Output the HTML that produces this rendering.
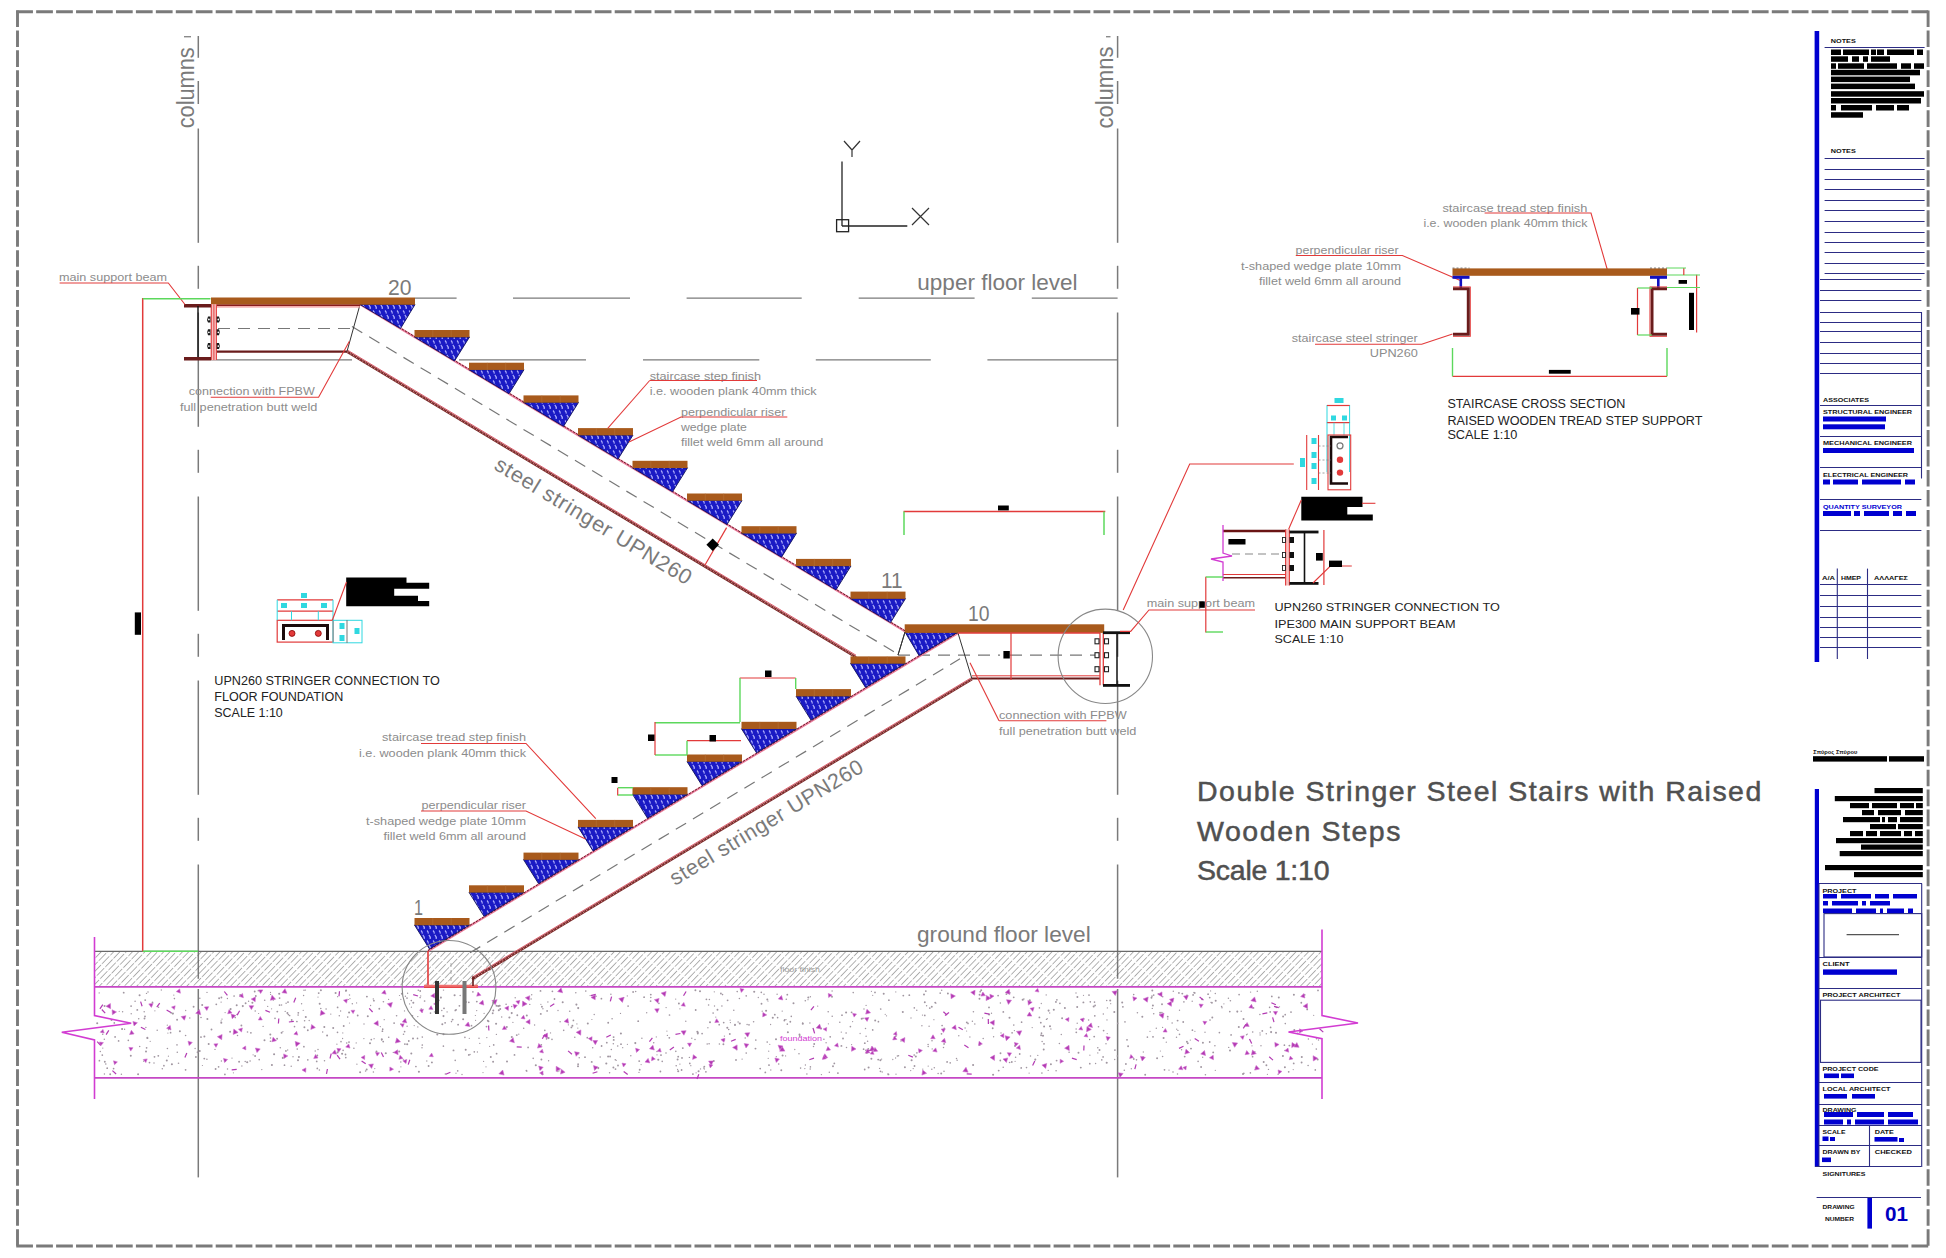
<!DOCTYPE html><html><head><meta charset="utf-8"><style>html,body{margin:0;padding:0;background:#fff;overflow:hidden}svg{display:block}</style></head><body><svg width="1946" height="1258" viewBox="0 0 1946 1258"><defs>
<pattern id="wedge" width="6" height="10" patternUnits="userSpaceOnUse"><rect width="6" height="10" fill="#1a1ac4"/><path d="M1 0.5 Q2.6 2 2.2 3.6 M2.8 5 Q4.6 6.6 4.2 9" stroke="#b4b4ff" stroke-width="1.1" fill="none"/></pattern>
<pattern id="hatch" width="4.5" height="12" patternUnits="userSpaceOnUse" patternTransform="rotate(44)"><line x1="0" y1="0" x2="0" y2="10.5" stroke="#5c5c5c" stroke-width="0.95"/></pattern>
</defs>
<rect x="0.0" y="0.0" width="1946.0" height="1258.0" fill="#ffffff" />
<path d="M16.2 11.8 H1929.5 M16.2 1246 H1929.5" fill="none" stroke="#7a7a7a" stroke-width="2.9" stroke-dasharray="16.75 3.2"/>
<path d="M17.5 10.4 V1247.4 M1928.1 10.4 V1247.4" fill="none" stroke="#7a7a7a" stroke-width="2.9" stroke-dasharray="16.6 3.38"/>
<line x1="198.3" y1="36.0" x2="198.3" y2="57.8" stroke="#7a7a7a" stroke-width="1.5" />
<line x1="198.3" y1="81.0" x2="198.3" y2="104.0" stroke="#7a7a7a" stroke-width="1.5" />
<line x1="198.3" y1="128.5" x2="198.3" y2="242.8" stroke="#7a7a7a" stroke-width="1.5" />
<line x1="198.3" y1="265.8" x2="198.3" y2="288.8" stroke="#7a7a7a" stroke-width="1.5" />
<line x1="198.3" y1="312.5" x2="198.3" y2="426.8" stroke="#7a7a7a" stroke-width="1.5" />
<line x1="198.3" y1="449.8" x2="198.3" y2="472.8" stroke="#7a7a7a" stroke-width="1.5" />
<line x1="198.3" y1="496.5" x2="198.3" y2="610.8" stroke="#7a7a7a" stroke-width="1.5" />
<line x1="198.3" y1="633.8" x2="198.3" y2="656.8" stroke="#7a7a7a" stroke-width="1.5" />
<line x1="198.3" y1="680.5" x2="198.3" y2="794.8" stroke="#7a7a7a" stroke-width="1.5" />
<line x1="198.3" y1="817.8" x2="198.3" y2="840.8" stroke="#7a7a7a" stroke-width="1.5" />
<line x1="198.3" y1="864.5" x2="198.3" y2="978.8" stroke="#7a7a7a" stroke-width="1.5" />
<line x1="198.3" y1="989.0" x2="198.3" y2="1177.4" stroke="#7a7a7a" stroke-width="1.5" />
<line x1="1117.6" y1="36.0" x2="1117.6" y2="57.8" stroke="#7a7a7a" stroke-width="1.5" />
<line x1="1117.6" y1="81.0" x2="1117.6" y2="104.0" stroke="#7a7a7a" stroke-width="1.5" />
<line x1="1117.6" y1="128.5" x2="1117.6" y2="242.8" stroke="#7a7a7a" stroke-width="1.5" />
<line x1="1117.6" y1="265.8" x2="1117.6" y2="288.8" stroke="#7a7a7a" stroke-width="1.5" />
<line x1="1117.6" y1="312.5" x2="1117.6" y2="426.8" stroke="#7a7a7a" stroke-width="1.5" />
<line x1="1117.6" y1="449.8" x2="1117.6" y2="472.8" stroke="#7a7a7a" stroke-width="1.5" />
<line x1="1117.6" y1="496.5" x2="1117.6" y2="610.8" stroke="#7a7a7a" stroke-width="1.5" />
<line x1="1117.6" y1="633.8" x2="1117.6" y2="656.8" stroke="#7a7a7a" stroke-width="1.5" />
<line x1="1117.6" y1="680.5" x2="1117.6" y2="794.8" stroke="#7a7a7a" stroke-width="1.5" />
<line x1="1117.6" y1="817.8" x2="1117.6" y2="840.8" stroke="#7a7a7a" stroke-width="1.5" />
<line x1="1117.6" y1="864.5" x2="1117.6" y2="978.8" stroke="#7a7a7a" stroke-width="1.5" />
<line x1="1117.6" y1="989.0" x2="1117.6" y2="1177.4" stroke="#7a7a7a" stroke-width="1.5" />
<text x="0.0" y="0.0" font-size="23.5" fill="#7a7a7a" text-anchor="start" font-weight="normal" textLength="81" lengthAdjust="spacingAndGlyphs" font-family="'Liberation Sans', sans-serif" transform="translate(193.6,128.3) rotate(-90)">columns</text>
<text x="0.0" y="0.0" font-size="23.5" fill="#7a7a7a" text-anchor="start" font-weight="normal" textLength="82" lengthAdjust="spacingAndGlyphs" font-family="'Liberation Sans', sans-serif" transform="translate(1113.4,128.6) rotate(-90)">columns</text>
<line x1="184.0" y1="36.7" x2="191.0" y2="36.7" stroke="#8a8a8a" stroke-width="1.4" />
<line x1="1106.0" y1="36.7" x2="1110.5" y2="36.7" stroke="#8a8a8a" stroke-width="1.4" />
<line x1="842.0" y1="161.6" x2="842.0" y2="226.0" stroke="#222" stroke-width="1.3" />
<line x1="842.0" y1="226.0" x2="907.3" y2="226.0" stroke="#222" stroke-width="1.3" />
<rect x="836.6" y="219.7" width="12" height="12" fill="none" stroke="#222" stroke-width="1.3"/>
<path d="M844 141 L852 150 L860 141 M852 150 L852 157" stroke="#333" stroke-width="1.2" fill="none"/>
<path d="M912 208 L929 225 M929 208 L912 225" stroke="#333" stroke-width="1.2" fill="none"/>
<line x1="415.0" y1="298.2" x2="456.6" y2="298.2" stroke="#7a7a7a" stroke-width="1.3" />
<line x1="513.0" y1="298.2" x2="630.0" y2="298.2" stroke="#7a7a7a" stroke-width="1.3" />
<line x1="686.6" y1="298.2" x2="801.7" y2="298.2" stroke="#7a7a7a" stroke-width="1.3" />
<line x1="858.7" y1="298.2" x2="974.6" y2="298.2" stroke="#7a7a7a" stroke-width="1.3" />
<line x1="1031.8" y1="298.2" x2="1117.6" y2="298.2" stroke="#7a7a7a" stroke-width="1.3" />
<line x1="211.0" y1="359.8" x2="352.0" y2="359.8" stroke="#7a7a7a" stroke-width="1.3" />
<line x1="459.0" y1="359.8" x2="586.0" y2="359.8" stroke="#7a7a7a" stroke-width="1.3" />
<line x1="643.0" y1="359.8" x2="759.3" y2="359.8" stroke="#7a7a7a" stroke-width="1.3" />
<line x1="815.8" y1="359.8" x2="930.8" y2="359.8" stroke="#7a7a7a" stroke-width="1.3" />
<line x1="987.4" y1="359.8" x2="1117.6" y2="359.8" stroke="#7a7a7a" stroke-width="1.3" />
<text x="917.3" y="290.4" font-size="22" fill="#7a7a7a" text-anchor="start" font-weight="normal" textLength="160.3" lengthAdjust="spacingAndGlyphs" font-family="'Liberation Sans', sans-serif" >upper floor level</text>
<rect x="94.5" y="951.4" width="1227.5" height="35.4" fill="url(#hatch)" />
<line x1="94.5" y1="951.4" x2="1322.0" y2="951.4" stroke="#6a6a6a" stroke-width="1.3" />
<line x1="94.5" y1="986.8" x2="1322.0" y2="986.8" stroke="#c548c5" stroke-width="1.8" />
<line x1="94.5" y1="1077.8" x2="1322.0" y2="1077.8" stroke="#c548c5" stroke-width="1.8" />
<circle cx="493.0" cy="1002.8" r="0.89" fill="#a096a0"/>
<circle cx="185.6" cy="1035.5" r="0.76" fill="#a096a0"/>
<circle cx="167.9" cy="1033.1" r="0.62" fill="#a096a0"/>
<circle cx="627.3" cy="995.9" r="0.64" fill="#a096a0"/>
<circle cx="616.2" cy="1060.3" r="0.66" fill="#a096a0"/>
<circle cx="370.0" cy="1043.3" r="1.03" fill="#a096a0"/>
<circle cx="802.8" cy="1023.7" r="1.04" fill="#a096a0"/>
<circle cx="154.0" cy="1063.0" r="0.73" fill="#a096a0"/>
<circle cx="273.4" cy="1000.0" r="0.74" fill="#a096a0"/>
<circle cx="1095.1" cy="1005.4" r="0.86" fill="#a096a0"/>
<circle cx="878.4" cy="1021.7" r="0.85" fill="#a096a0"/>
<circle cx="173.8" cy="995.1" r="0.69" fill="#a096a0"/>
<circle cx="929.1" cy="1026.3" r="0.74" fill="#a096a0"/>
<circle cx="813.1" cy="1028.5" r="0.73" fill="#a096a0"/>
<circle cx="1068.5" cy="1049.4" r="0.71" fill="#a096a0"/>
<circle cx="799.5" cy="1034.6" r="0.99" fill="#a096a0"/>
<circle cx="989.1" cy="1014.5" r="1.04" fill="#a096a0"/>
<circle cx="241.4" cy="1025.5" r="0.94" fill="#a096a0"/>
<circle cx="282.9" cy="1031.6" r="0.62" fill="#a096a0"/>
<circle cx="914.2" cy="1055.0" r="0.86" fill="#a096a0"/>
<circle cx="1167.7" cy="1016.7" r="0.91" fill="#a096a0"/>
<circle cx="823.9" cy="1039.3" r="0.81" fill="#a096a0"/>
<circle cx="1124.3" cy="1070.3" r="0.81" fill="#a096a0"/>
<circle cx="909.3" cy="995.2" r="0.92" fill="#a096a0"/>
<circle cx="888.4" cy="1074.4" r="0.97" fill="#a096a0"/>
<circle cx="445.1" cy="1022.8" r="0.90" fill="#a096a0"/>
<circle cx="124.6" cy="1029.2" r="0.68" fill="#a096a0"/>
<circle cx="240.2" cy="995.0" r="0.95" fill="#a096a0"/>
<circle cx="255.2" cy="1011.0" r="0.78" fill="#a096a0"/>
<circle cx="1162.7" cy="996.8" r="0.80" fill="#a096a0"/>
<circle cx="769.0" cy="1065.1" r="0.97" fill="#a096a0"/>
<circle cx="1153.7" cy="1013.7" r="0.79" fill="#a096a0"/>
<circle cx="535.8" cy="1065.2" r="1.03" fill="#a096a0"/>
<circle cx="281.6" cy="1005.0" r="0.70" fill="#a096a0"/>
<circle cx="382.4" cy="1031.2" r="0.87" fill="#a096a0"/>
<circle cx="418.3" cy="990.3" r="0.79" fill="#a096a0"/>
<circle cx="548.6" cy="1038.1" r="1.03" fill="#a096a0"/>
<circle cx="941.5" cy="1033.8" r="0.88" fill="#a096a0"/>
<circle cx="924.0" cy="994.6" r="1.00" fill="#a096a0"/>
<circle cx="1050.9" cy="1064.3" r="0.96" fill="#a096a0"/>
<circle cx="576.9" cy="1023.9" r="0.65" fill="#a096a0"/>
<circle cx="872.7" cy="995.3" r="0.63" fill="#a096a0"/>
<circle cx="352.3" cy="1003.8" r="0.75" fill="#a096a0"/>
<circle cx="161.3" cy="990.0" r="0.67" fill="#a096a0"/>
<circle cx="221.1" cy="1020.9" r="0.61" fill="#a096a0"/>
<circle cx="1166.3" cy="1042.2" r="0.67" fill="#a096a0"/>
<circle cx="405.5" cy="1019.5" r="0.76" fill="#a096a0"/>
<circle cx="247.2" cy="1062.2" r="1.05" fill="#a096a0"/>
<circle cx="666.9" cy="1031.1" r="0.64" fill="#a096a0"/>
<circle cx="222.0" cy="1019.1" r="0.72" fill="#a096a0"/>
<circle cx="1110.7" cy="1003.7" r="0.61" fill="#a096a0"/>
<circle cx="1260.1" cy="1034.9" r="0.67" fill="#a096a0"/>
<circle cx="761.3" cy="992.3" r="0.84" fill="#a096a0"/>
<circle cx="1293.7" cy="1063.4" r="0.91" fill="#a096a0"/>
<circle cx="416.3" cy="1021.2" r="0.68" fill="#a096a0"/>
<circle cx="1041.1" cy="1035.3" r="0.95" fill="#a096a0"/>
<circle cx="500.2" cy="1009.0" r="0.97" fill="#a096a0"/>
<circle cx="1301.6" cy="1062.5" r="0.96" fill="#a096a0"/>
<circle cx="1097.8" cy="1052.9" r="0.70" fill="#a096a0"/>
<circle cx="730.1" cy="1020.2" r="0.61" fill="#a096a0"/>
<circle cx="131.2" cy="1013.8" r="0.72" fill="#a096a0"/>
<circle cx="944.0" cy="1071.3" r="0.80" fill="#a096a0"/>
<circle cx="1243.0" cy="1074.0" r="1.03" fill="#a096a0"/>
<circle cx="542.9" cy="1008.7" r="0.70" fill="#a096a0"/>
<circle cx="337.6" cy="1007.4" r="0.88" fill="#a096a0"/>
<circle cx="1198.1" cy="1061.4" r="0.82" fill="#a096a0"/>
<circle cx="895.6" cy="1058.0" r="0.64" fill="#a096a0"/>
<circle cx="904.9" cy="1067.3" r="0.95" fill="#a096a0"/>
<circle cx="1014.4" cy="1030.6" r="0.68" fill="#a096a0"/>
<circle cx="1062.1" cy="1018.3" r="0.96" fill="#a096a0"/>
<circle cx="1285.3" cy="1023.6" r="0.78" fill="#a096a0"/>
<circle cx="1254.9" cy="1051.6" r="0.68" fill="#a096a0"/>
<circle cx="252.4" cy="1002.8" r="1.01" fill="#a096a0"/>
<circle cx="1083.4" cy="1002.4" r="0.97" fill="#a096a0"/>
<circle cx="1295.9" cy="1045.9" r="0.76" fill="#a096a0"/>
<circle cx="768.0" cy="1001.1" r="0.61" fill="#a096a0"/>
<circle cx="1284.4" cy="1045.2" r="0.84" fill="#a096a0"/>
<circle cx="1238.8" cy="1026.9" r="0.99" fill="#a096a0"/>
<circle cx="1107.4" cy="1007.9" r="0.71" fill="#a096a0"/>
<circle cx="455.3" cy="1010.4" r="0.86" fill="#a096a0"/>
<circle cx="414.2" cy="1025.6" r="0.66" fill="#a096a0"/>
<circle cx="1210.0" cy="1020.1" r="0.81" fill="#a096a0"/>
<circle cx="810.4" cy="1066.9" r="0.79" fill="#a096a0"/>
<circle cx="1219.4" cy="1032.6" r="0.84" fill="#a096a0"/>
<circle cx="737.2" cy="991.6" r="0.80" fill="#a096a0"/>
<circle cx="320.9" cy="990.3" r="0.96" fill="#a096a0"/>
<circle cx="307.8" cy="1030.2" r="0.93" fill="#a096a0"/>
<circle cx="777.6" cy="1017.7" r="0.83" fill="#a096a0"/>
<circle cx="776.3" cy="1056.7" r="0.65" fill="#a096a0"/>
<circle cx="782.2" cy="1011.1" r="0.72" fill="#a096a0"/>
<circle cx="1041.5" cy="1033.2" r="0.85" fill="#a096a0"/>
<circle cx="1026.5" cy="1067.6" r="0.80" fill="#a096a0"/>
<circle cx="846.1" cy="1033.0" r="0.83" fill="#a096a0"/>
<circle cx="944.2" cy="1028.4" r="0.84" fill="#a096a0"/>
<circle cx="681.6" cy="1070.0" r="0.91" fill="#a096a0"/>
<circle cx="1169.0" cy="1070.1" r="0.72" fill="#a096a0"/>
<circle cx="781.3" cy="1070.2" r="0.98" fill="#a096a0"/>
<circle cx="264.7" cy="1000.3" r="0.80" fill="#a096a0"/>
<circle cx="185.7" cy="1010.5" r="0.63" fill="#a096a0"/>
<circle cx="915.8" cy="1056.6" r="1.00" fill="#a096a0"/>
<circle cx="285.9" cy="1050.9" r="0.90" fill="#a096a0"/>
<circle cx="271.9" cy="1065.0" r="1.04" fill="#a096a0"/>
<circle cx="365.6" cy="1071.0" r="0.78" fill="#a096a0"/>
<circle cx="692.9" cy="1074.1" r="0.97" fill="#a096a0"/>
<circle cx="294.5" cy="1026.7" r="0.83" fill="#a096a0"/>
<circle cx="511.7" cy="1006.6" r="0.74" fill="#a096a0"/>
<circle cx="980.2" cy="991.7" r="0.85" fill="#a096a0"/>
<circle cx="635.7" cy="991.5" r="0.75" fill="#a096a0"/>
<circle cx="860.1" cy="1033.5" r="0.63" fill="#a096a0"/>
<circle cx="1301.8" cy="1057.0" r="1.04" fill="#a096a0"/>
<circle cx="225.1" cy="1012.6" r="0.62" fill="#a096a0"/>
<circle cx="1049.7" cy="1013.0" r="0.66" fill="#a096a0"/>
<circle cx="613.4" cy="1067.5" r="0.97" fill="#a096a0"/>
<circle cx="413.3" cy="1002.7" r="1.01" fill="#a096a0"/>
<circle cx="794.8" cy="1049.5" r="0.64" fill="#a096a0"/>
<circle cx="167.4" cy="1048.5" r="0.79" fill="#a096a0"/>
<circle cx="185.6" cy="1069.8" r="0.89" fill="#a096a0"/>
<circle cx="1077.4" cy="997.1" r="0.99" fill="#a096a0"/>
<circle cx="178.5" cy="1063.3" r="0.80" fill="#a096a0"/>
<circle cx="511.8" cy="1037.0" r="1.02" fill="#a096a0"/>
<circle cx="424.6" cy="1001.0" r="0.84" fill="#a096a0"/>
<circle cx="388.6" cy="999.3" r="0.67" fill="#a096a0"/>
<circle cx="158.6" cy="1007.2" r="0.74" fill="#a096a0"/>
<circle cx="470.0" cy="1054.6" r="0.73" fill="#a096a0"/>
<circle cx="708.6" cy="1005.1" r="0.76" fill="#a096a0"/>
<circle cx="119.2" cy="1011.3" r="0.61" fill="#a096a0"/>
<circle cx="993.6" cy="1036.8" r="0.69" fill="#a096a0"/>
<circle cx="677.6" cy="1069.4" r="0.65" fill="#a096a0"/>
<circle cx="1098.5" cy="1026.7" r="0.82" fill="#a096a0"/>
<circle cx="1117.7" cy="1023.4" r="0.83" fill="#a096a0"/>
<circle cx="938.1" cy="1073.5" r="0.75" fill="#a096a0"/>
<circle cx="1114.9" cy="1050.1" r="0.89" fill="#a096a0"/>
<circle cx="591.9" cy="1019.5" r="0.62" fill="#a096a0"/>
<circle cx="255.8" cy="996.0" r="0.93" fill="#a096a0"/>
<circle cx="409.6" cy="1003.9" r="0.64" fill="#a096a0"/>
<circle cx="1125.9" cy="1064.0" r="0.90" fill="#a096a0"/>
<circle cx="441.8" cy="1010.6" r="0.73" fill="#a096a0"/>
<circle cx="658.9" cy="1003.4" r="0.80" fill="#a096a0"/>
<circle cx="418.9" cy="1071.8" r="1.04" fill="#a096a0"/>
<circle cx="766.1" cy="1010.8" r="1.03" fill="#a096a0"/>
<circle cx="475.6" cy="1020.3" r="0.60" fill="#a096a0"/>
<circle cx="563.7" cy="1030.3" r="0.83" fill="#a096a0"/>
<circle cx="342.8" cy="1032.9" r="0.60" fill="#a096a0"/>
<circle cx="420.1" cy="997.6" r="0.78" fill="#a096a0"/>
<circle cx="148.0" cy="991.9" r="0.74" fill="#a096a0"/>
<circle cx="381.7" cy="1039.8" r="0.84" fill="#a096a0"/>
<circle cx="1014.9" cy="1045.9" r="0.92" fill="#a096a0"/>
<circle cx="1172.1" cy="1023.1" r="0.75" fill="#a096a0"/>
<circle cx="1301.3" cy="1002.7" r="0.93" fill="#a096a0"/>
<circle cx="883.7" cy="993.7" r="0.98" fill="#a096a0"/>
<circle cx="1187.8" cy="1043.3" r="0.93" fill="#a096a0"/>
<circle cx="1090.3" cy="1001.8" r="0.84" fill="#a096a0"/>
<circle cx="713.8" cy="1061.0" r="0.96" fill="#a096a0"/>
<circle cx="1107.7" cy="1039.6" r="1.00" fill="#a096a0"/>
<circle cx="932.2" cy="1048.9" r="0.70" fill="#a096a0"/>
<circle cx="135.1" cy="1001.3" r="0.76" fill="#a096a0"/>
<circle cx="225.3" cy="1061.0" r="0.85" fill="#a096a0"/>
<circle cx="864.8" cy="1043.2" r="0.91" fill="#a096a0"/>
<circle cx="695.4" cy="990.3" r="0.96" fill="#a096a0"/>
<circle cx="1012.1" cy="1032.8" r="0.84" fill="#a096a0"/>
<circle cx="903.3" cy="995.6" r="0.93" fill="#a096a0"/>
<circle cx="405.4" cy="996.3" r="0.72" fill="#a096a0"/>
<circle cx="989.0" cy="1007.4" r="0.93" fill="#a096a0"/>
<circle cx="1290.3" cy="1032.0" r="0.77" fill="#a096a0"/>
<circle cx="682.8" cy="1048.1" r="0.95" fill="#a096a0"/>
<circle cx="851.6" cy="1044.6" r="0.63" fill="#a096a0"/>
<circle cx="277.3" cy="1011.6" r="0.93" fill="#a096a0"/>
<circle cx="469.3" cy="1038.3" r="0.61" fill="#a096a0"/>
<circle cx="171.2" cy="1012.8" r="0.90" fill="#a096a0"/>
<circle cx="943.5" cy="1047.4" r="0.73" fill="#a096a0"/>
<circle cx="728.7" cy="1029.5" r="0.81" fill="#a096a0"/>
<circle cx="241.9" cy="1066.0" r="0.69" fill="#a096a0"/>
<circle cx="1293.2" cy="1069.6" r="0.61" fill="#a096a0"/>
<circle cx="658.3" cy="1059.7" r="1.04" fill="#a096a0"/>
<circle cx="646.7" cy="1012.8" r="0.69" fill="#a096a0"/>
<circle cx="1253.5" cy="1007.9" r="0.86" fill="#a096a0"/>
<circle cx="270.3" cy="1034.5" r="1.03" fill="#a096a0"/>
<circle cx="259.2" cy="1059.7" r="0.83" fill="#a096a0"/>
<circle cx="1181.6" cy="1049.8" r="0.70" fill="#a096a0"/>
<circle cx="1194.9" cy="1031.3" r="0.61" fill="#a096a0"/>
<circle cx="101.4" cy="1031.8" r="0.80" fill="#a096a0"/>
<circle cx="466.3" cy="1002.0" r="0.75" fill="#a096a0"/>
<circle cx="483.6" cy="1061.4" r="0.60" fill="#a096a0"/>
<circle cx="1015.1" cy="1061.3" r="0.65" fill="#a096a0"/>
<circle cx="1230.0" cy="1050.6" r="1.01" fill="#a096a0"/>
<circle cx="451.5" cy="1021.6" r="0.78" fill="#a096a0"/>
<circle cx="1318.5" cy="1040.1" r="0.76" fill="#a096a0"/>
<circle cx="620.5" cy="1013.4" r="0.62" fill="#a096a0"/>
<circle cx="221.4" cy="1060.9" r="0.73" fill="#a096a0"/>
<circle cx="1241.2" cy="1011.2" r="0.72" fill="#a096a0"/>
<circle cx="721.9" cy="1006.1" r="0.77" fill="#a096a0"/>
<circle cx="1266.4" cy="1065.2" r="0.97" fill="#a096a0"/>
<circle cx="868.6" cy="1067.6" r="1.02" fill="#a096a0"/>
<circle cx="768.7" cy="1051.2" r="0.62" fill="#a096a0"/>
<circle cx="992.7" cy="1028.3" r="0.94" fill="#a096a0"/>
<circle cx="885.2" cy="1014.3" r="0.62" fill="#a096a0"/>
<circle cx="1230.4" cy="1000.8" r="0.81" fill="#a096a0"/>
<circle cx="517.3" cy="1015.3" r="0.93" fill="#a096a0"/>
<circle cx="1291.0" cy="1012.1" r="0.90" fill="#a096a0"/>
<circle cx="464.9" cy="1037.4" r="0.78" fill="#a096a0"/>
<circle cx="301.6" cy="1003.7" r="0.69" fill="#a096a0"/>
<circle cx="1205.0" cy="1032.3" r="0.70" fill="#a096a0"/>
<circle cx="1205.4" cy="1074.7" r="0.80" fill="#a096a0"/>
<circle cx="267.7" cy="1006.4" r="0.64" fill="#a096a0"/>
<circle cx="515.2" cy="997.7" r="0.71" fill="#a096a0"/>
<circle cx="413.0" cy="1038.4" r="1.00" fill="#a096a0"/>
<circle cx="1013.8" cy="1025.1" r="0.79" fill="#a096a0"/>
<circle cx="738.1" cy="1022.0" r="0.75" fill="#a096a0"/>
<circle cx="172.9" cy="1013.6" r="1.04" fill="#a096a0"/>
<circle cx="250.9" cy="1032.8" r="0.88" fill="#a096a0"/>
<circle cx="1152.3" cy="1008.4" r="0.72" fill="#a096a0"/>
<circle cx="400.9" cy="1024.0" r="0.80" fill="#a096a0"/>
<circle cx="1263.7" cy="1062.1" r="0.99" fill="#a096a0"/>
<circle cx="123.7" cy="992.7" r="0.92" fill="#a096a0"/>
<circle cx="1192.4" cy="1030.2" r="0.86" fill="#a096a0"/>
<circle cx="97.2" cy="1023.3" r="1.02" fill="#a096a0"/>
<circle cx="1106.7" cy="1062.7" r="1.04" fill="#a096a0"/>
<circle cx="400.9" cy="999.3" r="0.67" fill="#a096a0"/>
<circle cx="735.9" cy="1048.0" r="1.02" fill="#a096a0"/>
<circle cx="979.7" cy="1045.0" r="0.94" fill="#a096a0"/>
<circle cx="656.3" cy="1036.9" r="0.62" fill="#a096a0"/>
<circle cx="1053.8" cy="1009.8" r="1.01" fill="#a096a0"/>
<circle cx="886.5" cy="1015.8" r="0.66" fill="#a096a0"/>
<circle cx="404.9" cy="1044.1" r="0.91" fill="#a096a0"/>
<circle cx="234.1" cy="996.0" r="0.84" fill="#a096a0"/>
<circle cx="809.9" cy="1023.0" r="0.70" fill="#a096a0"/>
<circle cx="832.1" cy="990.9" r="0.74" fill="#a096a0"/>
<circle cx="660.4" cy="1071.5" r="0.89" fill="#a096a0"/>
<circle cx="1177.9" cy="1030.4" r="0.71" fill="#a096a0"/>
<circle cx="399.2" cy="1071.7" r="0.92" fill="#a096a0"/>
<circle cx="472.9" cy="991.9" r="0.82" fill="#a096a0"/>
<circle cx="921.9" cy="1025.7" r="0.72" fill="#a096a0"/>
<circle cx="913.2" cy="1068.6" r="0.70" fill="#a096a0"/>
<circle cx="138.7" cy="1018.7" r="0.79" fill="#a096a0"/>
<circle cx="931.8" cy="1006.8" r="0.96" fill="#a096a0"/>
<circle cx="1001.0" cy="1032.9" r="0.69" fill="#a096a0"/>
<circle cx="1283.1" cy="1016.5" r="0.97" fill="#a096a0"/>
<circle cx="379.3" cy="1008.8" r="0.94" fill="#a096a0"/>
<circle cx="457.7" cy="1070.9" r="0.82" fill="#a096a0"/>
<circle cx="326.1" cy="1009.0" r="0.79" fill="#a096a0"/>
<circle cx="910.7" cy="1070.6" r="0.67" fill="#a096a0"/>
<circle cx="578.2" cy="1008.1" r="1.04" fill="#a096a0"/>
<circle cx="270.6" cy="994.4" r="0.63" fill="#a096a0"/>
<circle cx="578.0" cy="1066.3" r="1.00" fill="#a096a0"/>
<circle cx="993.1" cy="1074.8" r="1.02" fill="#a096a0"/>
<circle cx="499.7" cy="1005.8" r="1.02" fill="#a096a0"/>
<circle cx="1009.7" cy="992.7" r="0.90" fill="#a096a0"/>
<circle cx="560.1" cy="1021.8" r="0.75" fill="#a096a0"/>
<circle cx="304.0" cy="990.2" r="0.73" fill="#a096a0"/>
<circle cx="526.8" cy="1071.2" r="0.66" fill="#a096a0"/>
<circle cx="1276.3" cy="1007.6" r="0.76" fill="#a096a0"/>
<circle cx="1101.8" cy="1059.9" r="0.79" fill="#a096a0"/>
<circle cx="157.2" cy="1030.2" r="0.77" fill="#a096a0"/>
<circle cx="1221.6" cy="1006.4" r="0.76" fill="#a096a0"/>
<circle cx="1194.0" cy="992.6" r="0.78" fill="#a096a0"/>
<circle cx="1089.9" cy="1055.2" r="0.62" fill="#a096a0"/>
<circle cx="139.6" cy="995.3" r="1.01" fill="#a096a0"/>
<circle cx="411.3" cy="1053.5" r="1.00" fill="#a096a0"/>
<circle cx="511.7" cy="1013.1" r="1.03" fill="#a096a0"/>
<circle cx="851.6" cy="1012.3" r="0.92" fill="#a096a0"/>
<circle cx="484.1" cy="1013.4" r="0.60" fill="#a096a0"/>
<circle cx="1021.2" cy="1067.9" r="0.89" fill="#a096a0"/>
<circle cx="1250.6" cy="992.1" r="0.71" fill="#a096a0"/>
<circle cx="678.2" cy="1071.3" r="1.03" fill="#a096a0"/>
<circle cx="569.7" cy="1011.3" r="0.79" fill="#a096a0"/>
<circle cx="700.5" cy="1068.9" r="0.68" fill="#a096a0"/>
<circle cx="1078.5" cy="1052.8" r="0.97" fill="#a096a0"/>
<circle cx="1042.1" cy="1041.6" r="0.75" fill="#a096a0"/>
<circle cx="487.8" cy="1020.8" r="0.95" fill="#a096a0"/>
<circle cx="193.6" cy="1006.8" r="0.94" fill="#a096a0"/>
<circle cx="399.5" cy="995.5" r="0.62" fill="#a096a0"/>
<circle cx="772.8" cy="1017.7" r="1.04" fill="#a096a0"/>
<circle cx="1177.5" cy="1074.0" r="0.72" fill="#a096a0"/>
<circle cx="199.8" cy="998.2" r="0.82" fill="#a096a0"/>
<circle cx="965.1" cy="1028.0" r="0.71" fill="#a096a0"/>
<circle cx="606.8" cy="1042.7" r="0.90" fill="#a096a0"/>
<circle cx="1011.8" cy="1062.0" r="0.90" fill="#a096a0"/>
<circle cx="245.2" cy="1061.5" r="0.73" fill="#a096a0"/>
<circle cx="790.3" cy="1021.7" r="0.93" fill="#a096a0"/>
<circle cx="340.6" cy="1011.0" r="0.71" fill="#a096a0"/>
<circle cx="284.5" cy="1065.2" r="0.86" fill="#a096a0"/>
<circle cx="496.1" cy="1023.7" r="1.05" fill="#a096a0"/>
<circle cx="717.5" cy="1009.7" r="0.96" fill="#a096a0"/>
<circle cx="896.0" cy="1074.2" r="0.65" fill="#a096a0"/>
<circle cx="677.6" cy="1059.6" r="0.98" fill="#a096a0"/>
<circle cx="1215.3" cy="993.4" r="0.73" fill="#a096a0"/>
<circle cx="242.8" cy="1006.1" r="1.04" fill="#a096a0"/>
<circle cx="810.2" cy="1069.1" r="0.77" fill="#a096a0"/>
<circle cx="1156.3" cy="1028.2" r="0.72" fill="#a096a0"/>
<circle cx="1048.2" cy="1070.4" r="0.65" fill="#a096a0"/>
<circle cx="826.1" cy="1042.7" r="0.70" fill="#a096a0"/>
<circle cx="547.9" cy="1002.0" r="0.69" fill="#a096a0"/>
<circle cx="408.8" cy="1041.0" r="0.89" fill="#a096a0"/>
<circle cx="345.8" cy="991.0" r="0.75" fill="#a096a0"/>
<circle cx="926.6" cy="1005.7" r="0.74" fill="#a096a0"/>
<circle cx="345.8" cy="1057.6" r="0.85" fill="#a096a0"/>
<circle cx="174.4" cy="998.6" r="0.78" fill="#a096a0"/>
<circle cx="769.8" cy="1044.3" r="0.64" fill="#a096a0"/>
<circle cx="297.2" cy="1049.1" r="0.78" fill="#a096a0"/>
<circle cx="443.5" cy="1016.1" r="1.03" fill="#a096a0"/>
<circle cx="479.0" cy="1038.2" r="0.76" fill="#a096a0"/>
<circle cx="606.3" cy="1063.5" r="1.05" fill="#a096a0"/>
<circle cx="541.9" cy="1006.8" r="0.93" fill="#a096a0"/>
<circle cx="346.1" cy="990.5" r="1.01" fill="#a096a0"/>
<circle cx="615.3" cy="1059.7" r="0.78" fill="#a096a0"/>
<circle cx="1176.7" cy="1029.2" r="0.67" fill="#a096a0"/>
<circle cx="115.1" cy="1036.9" r="0.89" fill="#a096a0"/>
<circle cx="1209.7" cy="997.6" r="0.88" fill="#a096a0"/>
<circle cx="550.5" cy="1032.9" r="0.67" fill="#a096a0"/>
<circle cx="443.5" cy="1034.3" r="1.02" fill="#a096a0"/>
<circle cx="230.1" cy="1031.7" r="0.96" fill="#a096a0"/>
<circle cx="1279.5" cy="1006.8" r="0.66" fill="#a096a0"/>
<circle cx="1250.4" cy="1072.9" r="0.82" fill="#a096a0"/>
<circle cx="162.3" cy="1068.7" r="0.77" fill="#a096a0"/>
<circle cx="1202.9" cy="1042.7" r="0.97" fill="#a096a0"/>
<circle cx="293.0" cy="1056.8" r="0.70" fill="#a096a0"/>
<circle cx="591.7" cy="1061.9" r="0.97" fill="#a096a0"/>
<circle cx="320.8" cy="1008.5" r="0.78" fill="#a096a0"/>
<circle cx="730.4" cy="1022.6" r="0.66" fill="#a096a0"/>
<circle cx="399.2" cy="1051.6" r="1.00" fill="#a096a0"/>
<circle cx="147.3" cy="1037.8" r="0.94" fill="#a096a0"/>
<circle cx="143.6" cy="1061.2" r="0.65" fill="#a096a0"/>
<circle cx="830.2" cy="1036.8" r="0.88" fill="#a096a0"/>
<circle cx="471.5" cy="1025.7" r="0.86" fill="#a096a0"/>
<circle cx="617.7" cy="1046.0" r="0.80" fill="#a096a0"/>
<circle cx="633.1" cy="992.0" r="0.88" fill="#a096a0"/>
<circle cx="695.7" cy="1010.0" r="0.94" fill="#a096a0"/>
<circle cx="1050.9" cy="1029.0" r="0.68" fill="#a096a0"/>
<circle cx="675.7" cy="999.1" r="0.66" fill="#a096a0"/>
<circle cx="623.6" cy="997.8" r="0.80" fill="#a096a0"/>
<circle cx="720.9" cy="993.5" r="0.89" fill="#a096a0"/>
<circle cx="197.6" cy="1052.3" r="0.95" fill="#a096a0"/>
<circle cx="722.5" cy="994.6" r="0.83" fill="#a096a0"/>
<circle cx="559.1" cy="1070.8" r="0.66" fill="#a096a0"/>
<circle cx="1145.2" cy="1074.7" r="0.93" fill="#a096a0"/>
<circle cx="1093.7" cy="1006.5" r="1.04" fill="#a096a0"/>
<circle cx="698.6" cy="1071.3" r="1.01" fill="#a096a0"/>
<circle cx="298.9" cy="1057.0" r="1.02" fill="#a096a0"/>
<circle cx="177.1" cy="1019.8" r="0.94" fill="#a096a0"/>
<circle cx="291.2" cy="1066.2" r="0.72" fill="#a096a0"/>
<circle cx="1094.5" cy="1002.2" r="0.83" fill="#a096a0"/>
<circle cx="1222.0" cy="1007.7" r="0.72" fill="#a096a0"/>
<circle cx="715.8" cy="1017.1" r="0.62" fill="#a096a0"/>
<circle cx="319.7" cy="1003.7" r="1.02" fill="#a096a0"/>
<circle cx="928.2" cy="1066.1" r="0.68" fill="#a096a0"/>
<circle cx="1056.9" cy="999.8" r="0.84" fill="#a096a0"/>
<circle cx="875.2" cy="1020.6" r="0.99" fill="#a096a0"/>
<circle cx="776.0" cy="1039.3" r="1.00" fill="#a096a0"/>
<circle cx="224.9" cy="1074.4" r="0.88" fill="#a096a0"/>
<circle cx="579.2" cy="1057.8" r="0.72" fill="#a096a0"/>
<circle cx="1308.4" cy="1039.1" r="0.76" fill="#a096a0"/>
<circle cx="1032.2" cy="1027.6" r="0.68" fill="#a096a0"/>
<circle cx="1006.4" cy="994.1" r="0.97" fill="#a096a0"/>
<circle cx="407.2" cy="1044.3" r="1.04" fill="#a096a0"/>
<circle cx="813.5" cy="1046.4" r="0.74" fill="#a096a0"/>
<circle cx="99.2" cy="992.9" r="0.67" fill="#a096a0"/>
<circle cx="850.4" cy="1026.7" r="0.83" fill="#a096a0"/>
<circle cx="1192.2" cy="1001.2" r="0.70" fill="#a096a0"/>
<circle cx="895.8" cy="991.9" r="0.60" fill="#a096a0"/>
<circle cx="531.1" cy="999.0" r="0.76" fill="#a096a0"/>
<circle cx="371.3" cy="1039.6" r="0.87" fill="#a096a0"/>
<circle cx="346.7" cy="1043.0" r="0.81" fill="#a096a0"/>
<circle cx="261.8" cy="1069.6" r="0.71" fill="#a096a0"/>
<circle cx="279.6" cy="998.1" r="0.89" fill="#a096a0"/>
<circle cx="1162.6" cy="1056.5" r="0.78" fill="#a096a0"/>
<circle cx="420.2" cy="991.0" r="0.89" fill="#a096a0"/>
<circle cx="784.7" cy="1019.8" r="0.89" fill="#a096a0"/>
<circle cx="639.7" cy="1069.7" r="0.93" fill="#a096a0"/>
<circle cx="400.9" cy="1066.8" r="0.62" fill="#a096a0"/>
<circle cx="747.1" cy="1024.5" r="0.71" fill="#a096a0"/>
<circle cx="168.4" cy="1056.2" r="0.61" fill="#a096a0"/>
<circle cx="770.8" cy="1070.0" r="0.66" fill="#a096a0"/>
<circle cx="341.0" cy="1041.7" r="0.83" fill="#a096a0"/>
<circle cx="881.6" cy="1059.1" r="0.68" fill="#a096a0"/>
<circle cx="475.4" cy="1015.5" r="0.62" fill="#a096a0"/>
<circle cx="1184.7" cy="1056.6" r="0.92" fill="#a096a0"/>
<circle cx="104.8" cy="1061.8" r="0.94" fill="#a096a0"/>
<circle cx="666.0" cy="1053.0" r="0.80" fill="#a096a0"/>
<circle cx="373.3" cy="998.9" r="0.70" fill="#a096a0"/>
<circle cx="144.5" cy="1018.5" r="0.94" fill="#a096a0"/>
<circle cx="947.1" cy="1061.9" r="0.92" fill="#a096a0"/>
<circle cx="422.3" cy="1037.1" r="0.80" fill="#a096a0"/>
<circle cx="1061.3" cy="1034.5" r="0.72" fill="#a096a0"/>
<circle cx="882.2" cy="1072.0" r="0.70" fill="#a096a0"/>
<circle cx="1173.3" cy="991.3" r="0.72" fill="#a096a0"/>
<circle cx="385.8" cy="1053.2" r="1.03" fill="#a096a0"/>
<circle cx="1009.5" cy="1017.8" r="1.00" fill="#a096a0"/>
<circle cx="498.8" cy="1010.3" r="1.01" fill="#a096a0"/>
<circle cx="868.3" cy="1048.9" r="0.90" fill="#a096a0"/>
<circle cx="1294.3" cy="1029.9" r="0.98" fill="#a096a0"/>
<circle cx="950.2" cy="1062.9" r="0.80" fill="#a096a0"/>
<circle cx="983.2" cy="1038.5" r="0.74" fill="#a096a0"/>
<circle cx="356.2" cy="1042.9" r="0.64" fill="#a096a0"/>
<circle cx="1210.9" cy="1002.3" r="0.61" fill="#a096a0"/>
<circle cx="227.5" cy="1069.0" r="0.76" fill="#a096a0"/>
<circle cx="270.5" cy="992.4" r="0.62" fill="#a096a0"/>
<circle cx="944.1" cy="1043.9" r="0.91" fill="#a096a0"/>
<circle cx="998.1" cy="995.6" r="0.87" fill="#a096a0"/>
<circle cx="541.4" cy="1059.5" r="0.97" fill="#a096a0"/>
<circle cx="1187.0" cy="995.6" r="0.99" fill="#a096a0"/>
<circle cx="1215.3" cy="1070.3" r="0.65" fill="#a096a0"/>
<circle cx="348.6" cy="999.5" r="0.62" fill="#a096a0"/>
<circle cx="1133.8" cy="1059.0" r="0.89" fill="#a096a0"/>
<circle cx="1106.0" cy="1043.7" r="0.73" fill="#a096a0"/>
<circle cx="219.1" cy="998.3" r="0.94" fill="#a096a0"/>
<circle cx="347.7" cy="1017.1" r="0.79" fill="#a096a0"/>
<circle cx="122.6" cy="1011.8" r="0.73" fill="#a096a0"/>
<circle cx="972.4" cy="1021.3" r="0.74" fill="#a096a0"/>
<circle cx="1276.0" cy="1032.8" r="0.98" fill="#a096a0"/>
<circle cx="853.2" cy="992.6" r="0.79" fill="#a096a0"/>
<circle cx="630.8" cy="1055.7" r="0.76" fill="#a096a0"/>
<circle cx="958.8" cy="1035.7" r="0.70" fill="#a096a0"/>
<circle cx="1151.5" cy="997.7" r="0.97" fill="#a096a0"/>
<circle cx="305.4" cy="990.1" r="0.69" fill="#a096a0"/>
<circle cx="1029.1" cy="1073.1" r="0.60" fill="#a096a0"/>
<circle cx="697.3" cy="1031.8" r="0.96" fill="#a096a0"/>
<circle cx="322.7" cy="1032.0" r="0.76" fill="#a096a0"/>
<circle cx="1114.3" cy="1012.1" r="1.02" fill="#a096a0"/>
<circle cx="444.0" cy="1008.3" r="0.91" fill="#a096a0"/>
<circle cx="706.4" cy="999.3" r="0.89" fill="#a096a0"/>
<circle cx="195.9" cy="1057.0" r="0.91" fill="#a096a0"/>
<circle cx="1059.4" cy="1043.4" r="0.76" fill="#a096a0"/>
<circle cx="587.8" cy="1023.5" r="1.00" fill="#a096a0"/>
<circle cx="202.4" cy="1065.5" r="0.61" fill="#a096a0"/>
<circle cx="349.1" cy="1012.4" r="1.01" fill="#a096a0"/>
<circle cx="710.0" cy="1022.2" r="1.00" fill="#a096a0"/>
<circle cx="382.7" cy="1029.2" r="0.84" fill="#a096a0"/>
<circle cx="1019.7" cy="1054.0" r="0.89" fill="#a096a0"/>
<circle cx="523.2" cy="1017.8" r="0.67" fill="#a096a0"/>
<circle cx="1128.1" cy="1046.3" r="0.93" fill="#a096a0"/>
<circle cx="304.4" cy="1027.3" r="0.95" fill="#a096a0"/>
<circle cx="805.3" cy="1000.7" r="0.81" fill="#a096a0"/>
<circle cx="1179.5" cy="1010.2" r="0.69" fill="#a096a0"/>
<circle cx="465.7" cy="1049.8" r="0.98" fill="#a096a0"/>
<circle cx="286.1" cy="1003.3" r="0.71" fill="#a096a0"/>
<circle cx="496.4" cy="1034.4" r="0.67" fill="#a096a0"/>
<circle cx="498.2" cy="1006.1" r="1.04" fill="#a096a0"/>
<circle cx="988.2" cy="998.7" r="1.03" fill="#a096a0"/>
<circle cx="221.3" cy="1022.7" r="1.04" fill="#a096a0"/>
<circle cx="1069.1" cy="1052.3" r="0.80" fill="#a096a0"/>
<circle cx="336.9" cy="1044.2" r="0.65" fill="#a096a0"/>
<circle cx="349.5" cy="1023.0" r="0.62" fill="#a096a0"/>
<circle cx="585.0" cy="1057.2" r="0.91" fill="#a096a0"/>
<circle cx="709.1" cy="1043.8" r="0.81" fill="#a096a0"/>
<circle cx="270.4" cy="1041.3" r="0.78" fill="#a096a0"/>
<circle cx="1003.2" cy="1067.2" r="0.79" fill="#a096a0"/>
<circle cx="799.0" cy="1053.7" r="0.79" fill="#a096a0"/>
<circle cx="376.5" cy="1051.4" r="1.00" fill="#a096a0"/>
<circle cx="1043.7" cy="1049.5" r="0.98" fill="#a096a0"/>
<circle cx="928.1" cy="1044.5" r="0.80" fill="#a096a0"/>
<circle cx="479.8" cy="1043.4" r="0.64" fill="#a096a0"/>
<circle cx="610.1" cy="1056.5" r="0.92" fill="#a096a0"/>
<circle cx="867.0" cy="1011.3" r="0.79" fill="#a096a0"/>
<circle cx="653.7" cy="1042.8" r="0.78" fill="#a096a0"/>
<circle cx="922.8" cy="1069.1" r="0.68" fill="#a096a0"/>
<circle cx="897.4" cy="1056.1" r="0.77" fill="#a096a0"/>
<circle cx="696.1" cy="1072.8" r="0.62" fill="#a096a0"/>
<circle cx="761.5" cy="1003.7" r="0.95" fill="#a096a0"/>
<circle cx="1247.3" cy="1034.1" r="0.65" fill="#a096a0"/>
<circle cx="799.7" cy="1036.0" r="0.92" fill="#a096a0"/>
<circle cx="723.4" cy="1044.3" r="0.97" fill="#a096a0"/>
<circle cx="735.0" cy="1024.9" r="1.03" fill="#a096a0"/>
<circle cx="353.9" cy="1048.2" r="0.78" fill="#a096a0"/>
<circle cx="1029.8" cy="1000.4" r="1.04" fill="#a096a0"/>
<circle cx="531.7" cy="994.8" r="0.72" fill="#a096a0"/>
<circle cx="585.8" cy="991.1" r="0.79" fill="#a096a0"/>
<circle cx="611.3" cy="1049.4" r="0.76" fill="#a096a0"/>
<circle cx="421.3" cy="1009.1" r="0.93" fill="#a096a0"/>
<circle cx="1246.5" cy="1034.8" r="0.70" fill="#a096a0"/>
<circle cx="1077.2" cy="1023.3" r="0.70" fill="#a096a0"/>
<circle cx="255.1" cy="1056.0" r="0.96" fill="#a096a0"/>
<circle cx="872.7" cy="1029.9" r="0.85" fill="#a096a0"/>
<circle cx="373.4" cy="1071.9" r="0.76" fill="#a096a0"/>
<circle cx="878.2" cy="1059.6" r="0.97" fill="#a096a0"/>
<circle cx="669.5" cy="1015.0" r="0.85" fill="#a096a0"/>
<circle cx="250.1" cy="1060.9" r="0.76" fill="#a096a0"/>
<circle cx="1137.4" cy="1012.7" r="0.77" fill="#a096a0"/>
<circle cx="407.1" cy="1026.2" r="0.68" fill="#a096a0"/>
<circle cx="100.3" cy="1051.4" r="0.73" fill="#a096a0"/>
<circle cx="396.6" cy="1015.7" r="0.82" fill="#a096a0"/>
<circle cx="621.0" cy="1044.2" r="0.90" fill="#a096a0"/>
<circle cx="540.3" cy="1068.9" r="0.98" fill="#a096a0"/>
<circle cx="166.8" cy="1060.4" r="1.01" fill="#a096a0"/>
<circle cx="1055.9" cy="1001.9" r="0.97" fill="#a096a0"/>
<circle cx="871.4" cy="991.3" r="0.61" fill="#a096a0"/>
<circle cx="1261.0" cy="1045.8" r="0.71" fill="#a096a0"/>
<circle cx="221.1" cy="1002.1" r="0.71" fill="#a096a0"/>
<circle cx="1046.4" cy="1019.4" r="0.67" fill="#a096a0"/>
<circle cx="1202.7" cy="1057.3" r="0.68" fill="#a096a0"/>
<circle cx="1186.9" cy="1041.7" r="0.95" fill="#a096a0"/>
<circle cx="914.5" cy="1066.0" r="0.95" fill="#a096a0"/>
<circle cx="1122.9" cy="1006.8" r="0.91" fill="#a096a0"/>
<circle cx="746.2" cy="1053.1" r="0.80" fill="#a096a0"/>
<circle cx="1176.5" cy="1037.2" r="0.72" fill="#a096a0"/>
<circle cx="383.4" cy="1001.8" r="0.82" fill="#a096a0"/>
<circle cx="168.5" cy="1029.7" r="0.66" fill="#a096a0"/>
<circle cx="697.9" cy="1032.3" r="0.84" fill="#a096a0"/>
<circle cx="1152.3" cy="990.6" r="0.98" fill="#a096a0"/>
<circle cx="669.3" cy="1037.8" r="0.90" fill="#a096a0"/>
<circle cx="1125.0" cy="1021.9" r="0.79" fill="#a096a0"/>
<circle cx="1271.8" cy="996.4" r="0.89" fill="#a096a0"/>
<circle cx="875.0" cy="992.4" r="0.87" fill="#a096a0"/>
<circle cx="931.8" cy="1069.2" r="0.75" fill="#a096a0"/>
<circle cx="1297.6" cy="1033.4" r="0.82" fill="#a096a0"/>
<circle cx="1194.7" cy="992.9" r="0.92" fill="#a096a0"/>
<circle cx="861.7" cy="1018.8" r="0.99" fill="#a096a0"/>
<circle cx="544.8" cy="1030.3" r="0.84" fill="#a096a0"/>
<circle cx="1039.4" cy="1007.9" r="0.80" fill="#a096a0"/>
<circle cx="613.6" cy="1037.1" r="0.97" fill="#a096a0"/>
<circle cx="455.2" cy="1060.4" r="0.78" fill="#a096a0"/>
<circle cx="713.1" cy="1013.1" r="0.83" fill="#a096a0"/>
<circle cx="1289.4" cy="1045.6" r="0.96" fill="#a096a0"/>
<circle cx="501.7" cy="1017.0" r="0.73" fill="#a096a0"/>
<circle cx="814.2" cy="1044.0" r="0.95" fill="#a096a0"/>
<circle cx="146.0" cy="1051.4" r="1.00" fill="#a096a0"/>
<circle cx="764.0" cy="994.2" r="0.74" fill="#a096a0"/>
<circle cx="104.6" cy="1006.1" r="1.01" fill="#a096a0"/>
<circle cx="841.4" cy="1045.9" r="0.96" fill="#a096a0"/>
<circle cx="1209.7" cy="1042.0" r="0.88" fill="#a096a0"/>
<circle cx="863.6" cy="1049.2" r="0.87" fill="#a096a0"/>
<circle cx="929.8" cy="1008.1" r="0.90" fill="#a096a0"/>
<circle cx="657.0" cy="1054.8" r="0.65" fill="#a096a0"/>
<circle cx="318.7" cy="993.1" r="0.95" fill="#a096a0"/>
<circle cx="1214.9" cy="1045.7" r="0.77" fill="#a096a0"/>
<circle cx="1103.1" cy="1056.9" r="0.85" fill="#a096a0"/>
<circle cx="412.5" cy="1015.7" r="0.79" fill="#a096a0"/>
<circle cx="486.5" cy="1026.6" r="0.89" fill="#a096a0"/>
<circle cx="1239.1" cy="994.6" r="0.86" fill="#a096a0"/>
<circle cx="145.2" cy="1000.1" r="0.96" fill="#a096a0"/>
<circle cx="800.6" cy="1068.1" r="0.80" fill="#a096a0"/>
<circle cx="114.3" cy="1022.9" r="0.87" fill="#a096a0"/>
<circle cx="1243.8" cy="1073.4" r="0.81" fill="#a096a0"/>
<circle cx="601.4" cy="998.7" r="0.89" fill="#a096a0"/>
<circle cx="356.6" cy="1002.9" r="0.61" fill="#a096a0"/>
<circle cx="102.8" cy="1048.1" r="0.65" fill="#a096a0"/>
<circle cx="1278.8" cy="997.5" r="0.99" fill="#a096a0"/>
<circle cx="254.7" cy="991.5" r="0.92" fill="#a096a0"/>
<circle cx="393.3" cy="1052.4" r="0.68" fill="#a096a0"/>
<circle cx="158.3" cy="1055.8" r="0.92" fill="#a096a0"/>
<circle cx="1143.3" cy="1052.0" r="0.64" fill="#a096a0"/>
<circle cx="865.8" cy="1050.3" r="0.81" fill="#a096a0"/>
<circle cx="1237.3" cy="1011.6" r="1.03" fill="#a096a0"/>
<circle cx="974.1" cy="991.0" r="0.61" fill="#a096a0"/>
<circle cx="892.8" cy="1059.5" r="0.64" fill="#a096a0"/>
<circle cx="477.4" cy="1052.0" r="0.67" fill="#a096a0"/>
<circle cx="1150.0" cy="1031.3" r="0.63" fill="#a096a0"/>
<circle cx="546.5" cy="1038.9" r="0.80" fill="#a096a0"/>
<circle cx="924.8" cy="1002.3" r="0.96" fill="#a096a0"/>
<circle cx="541.3" cy="1044.8" r="0.88" fill="#a096a0"/>
<circle cx="608.2" cy="1022.8" r="0.95" fill="#a096a0"/>
<circle cx="1252.6" cy="1056.7" r="0.86" fill="#a096a0"/>
<circle cx="454.6" cy="995.2" r="1.04" fill="#a096a0"/>
<circle cx="957.1" cy="1060.3" r="0.75" fill="#a096a0"/>
<circle cx="837.9" cy="1073.1" r="0.97" fill="#a096a0"/>
<circle cx="832.2" cy="1016.2" r="0.79" fill="#a096a0"/>
<circle cx="1183.2" cy="1022.0" r="0.91" fill="#a096a0"/>
<circle cx="833.0" cy="1066.2" r="0.96" fill="#a096a0"/>
<circle cx="443.5" cy="990.1" r="0.72" fill="#a096a0"/>
<circle cx="613.7" cy="1039.9" r="0.97" fill="#a096a0"/>
<circle cx="1182.3" cy="993.6" r="0.97" fill="#a096a0"/>
<circle cx="1089.8" cy="1063.7" r="0.86" fill="#a096a0"/>
<circle cx="431.9" cy="1062.4" r="0.96" fill="#a096a0"/>
<circle cx="934.3" cy="1067.7" r="0.76" fill="#a096a0"/>
<circle cx="201.0" cy="1037.1" r="0.96" fill="#a096a0"/>
<circle cx="342.1" cy="1053.8" r="1.02" fill="#a096a0"/>
<circle cx="383.2" cy="1041.6" r="0.90" fill="#a096a0"/>
<circle cx="666.1" cy="1007.6" r="0.71" fill="#a096a0"/>
<circle cx="1015.6" cy="1057.3" r="0.81" fill="#a096a0"/>
<circle cx="204.3" cy="1058.6" r="0.95" fill="#a096a0"/>
<circle cx="381.8" cy="1039.3" r="1.00" fill="#a096a0"/>
<circle cx="1179.5" cy="1034.4" r="0.81" fill="#a096a0"/>
<circle cx="817.7" cy="1006.1" r="0.69" fill="#a096a0"/>
<circle cx="318.0" cy="1049.6" r="0.76" fill="#a096a0"/>
<circle cx="787.3" cy="1024.2" r="0.83" fill="#a096a0"/>
<circle cx="279.2" cy="993.8" r="1.05" fill="#a096a0"/>
<circle cx="554.5" cy="999.0" r="0.88" fill="#a096a0"/>
<circle cx="1059.9" cy="1003.3" r="0.87" fill="#a096a0"/>
<circle cx="518.8" cy="1034.2" r="0.61" fill="#a096a0"/>
<circle cx="138.1" cy="1074.2" r="0.99" fill="#a096a0"/>
<circle cx="691.8" cy="1038.2" r="0.72" fill="#a096a0"/>
<circle cx="1050.0" cy="1026.2" r="1.03" fill="#a096a0"/>
<circle cx="1035.3" cy="1059.6" r="1.03" fill="#a096a0"/>
<circle cx="407.6" cy="993.2" r="0.69" fill="#a096a0"/>
<circle cx="318.0" cy="997.1" r="0.62" fill="#a096a0"/>
<circle cx="778.7" cy="1064.0" r="0.81" fill="#a096a0"/>
<circle cx="1255.4" cy="1067.3" r="0.63" fill="#a096a0"/>
<circle cx="828.4" cy="1023.8" r="0.65" fill="#a096a0"/>
<circle cx="1270.2" cy="1011.9" r="0.85" fill="#a096a0"/>
<circle cx="880.5" cy="1071.3" r="0.90" fill="#a096a0"/>
<circle cx="577.8" cy="1028.1" r="0.67" fill="#a096a0"/>
<circle cx="1278.1" cy="1074.3" r="0.70" fill="#a096a0"/>
<circle cx="144.2" cy="1011.7" r="0.76" fill="#a096a0"/>
<circle cx="1201.1" cy="1066.9" r="0.98" fill="#a096a0"/>
<circle cx="154.5" cy="1056.8" r="0.92" fill="#a096a0"/>
<circle cx="887.9" cy="1073.8" r="0.63" fill="#a096a0"/>
<circle cx="274.1" cy="1054.2" r="1.02" fill="#a096a0"/>
<circle cx="924.8" cy="1015.4" r="0.87" fill="#a096a0"/>
<circle cx="1023.9" cy="999.0" r="0.75" fill="#a096a0"/>
<circle cx="411.3" cy="1000.6" r="0.82" fill="#a096a0"/>
<circle cx="303.2" cy="1010.3" r="0.66" fill="#a096a0"/>
<circle cx="925.8" cy="991.1" r="0.92" fill="#a096a0"/>
<circle cx="335.6" cy="993.1" r="1.02" fill="#a096a0"/>
<circle cx="366.7" cy="1069.4" r="0.99" fill="#a096a0"/>
<circle cx="1183.9" cy="1001.9" r="0.80" fill="#a096a0"/>
<circle cx="215.6" cy="1068.9" r="0.98" fill="#a096a0"/>
<circle cx="865.5" cy="1028.4" r="0.75" fill="#a096a0"/>
<circle cx="1103.6" cy="1030.6" r="0.88" fill="#a096a0"/>
<circle cx="271.6" cy="1008.8" r="0.63" fill="#a096a0"/>
<circle cx="969.9" cy="1037.0" r="0.67" fill="#a096a0"/>
<circle cx="1161.9" cy="1012.6" r="0.79" fill="#a096a0"/>
<circle cx="287.4" cy="1013.0" r="0.98" fill="#a096a0"/>
<circle cx="506.1" cy="1004.3" r="0.82" fill="#a096a0"/>
<circle cx="486.0" cy="1066.8" r="0.65" fill="#a096a0"/>
<circle cx="1293.9" cy="994.8" r="1.00" fill="#a096a0"/>
<circle cx="914.3" cy="1007.9" r="0.81" fill="#a096a0"/>
<circle cx="447.1" cy="1011.9" r="0.69" fill="#a096a0"/>
<circle cx="542.5" cy="1074.2" r="1.05" fill="#a096a0"/>
<circle cx="1228.4" cy="998.3" r="0.73" fill="#a096a0"/>
<circle cx="1193.1" cy="994.9" r="0.93" fill="#a096a0"/>
<circle cx="456.0" cy="1073.2" r="0.61" fill="#a096a0"/>
<circle cx="1084.0" cy="1019.0" r="0.66" fill="#a096a0"/>
<circle cx="99.4" cy="1060.7" r="0.84" fill="#a096a0"/>
<circle cx="324.3" cy="1027.0" r="1.01" fill="#a096a0"/>
<circle cx="363.9" cy="1038.6" r="0.66" fill="#a096a0"/>
<circle cx="317.3" cy="1055.5" r="0.92" fill="#a096a0"/>
<circle cx="337.6" cy="996.7" r="0.64" fill="#a096a0"/>
<circle cx="841.3" cy="1032.1" r="0.72" fill="#a096a0"/>
<circle cx="349.0" cy="1042.1" r="0.92" fill="#a096a0"/>
<circle cx="1089.6" cy="1039.5" r="0.69" fill="#a096a0"/>
<circle cx="177.3" cy="1052.3" r="0.78" fill="#a096a0"/>
<circle cx="979.6" cy="994.7" r="0.96" fill="#a096a0"/>
<circle cx="507.0" cy="1061.6" r="0.99" fill="#a096a0"/>
<circle cx="700.0" cy="991.3" r="1.01" fill="#a096a0"/>
<circle cx="679.9" cy="1064.1" r="0.72" fill="#a096a0"/>
<circle cx="324.5" cy="1060.7" r="0.77" fill="#a096a0"/>
<circle cx="296.9" cy="1021.5" r="0.87" fill="#a096a0"/>
<circle cx="102.7" cy="1034.2" r="0.80" fill="#a096a0"/>
<circle cx="727.6" cy="1000.3" r="0.92" fill="#a096a0"/>
<circle cx="1095.6" cy="1063.6" r="0.74" fill="#a096a0"/>
<circle cx="966.8" cy="1022.4" r="0.94" fill="#a096a0"/>
<circle cx="171.9" cy="1064.2" r="1.03" fill="#a096a0"/>
<circle cx="702.1" cy="1033.6" r="0.84" fill="#a096a0"/>
<circle cx="754.2" cy="991.8" r="1.04" fill="#a096a0"/>
<circle cx="370.6" cy="1005.5" r="0.65" fill="#a096a0"/>
<circle cx="403.3" cy="1059.5" r="0.61" fill="#a096a0"/>
<circle cx="215.0" cy="1049.4" r="0.69" fill="#a096a0"/>
<circle cx="118.6" cy="1040.9" r="0.86" fill="#a096a0"/>
<circle cx="736.5" cy="1049.7" r="0.65" fill="#a096a0"/>
<circle cx="1160.4" cy="1051.0" r="0.62" fill="#a096a0"/>
<circle cx="247.5" cy="1032.0" r="0.83" fill="#a096a0"/>
<circle cx="439.0" cy="1000.4" r="0.78" fill="#a096a0"/>
<circle cx="264.5" cy="1040.3" r="0.99" fill="#a096a0"/>
<circle cx="277.1" cy="1038.7" r="0.94" fill="#a096a0"/>
<circle cx="298.0" cy="1060.2" r="1.02" fill="#a096a0"/>
<circle cx="572.4" cy="1025.7" r="0.98" fill="#a096a0"/>
<circle cx="739.8" cy="1023.6" r="1.02" fill="#a096a0"/>
<circle cx="1047.2" cy="1018.8" r="0.71" fill="#a096a0"/>
<circle cx="506.8" cy="1027.0" r="1.04" fill="#a096a0"/>
<circle cx="1080.8" cy="1067.6" r="0.97" fill="#a096a0"/>
<circle cx="1133.7" cy="994.6" r="0.83" fill="#a096a0"/>
<circle cx="1268.5" cy="1069.4" r="0.71" fill="#a096a0"/>
<circle cx="613.3" cy="1043.8" r="0.76" fill="#a096a0"/>
<circle cx="746.2" cy="995.9" r="0.79" fill="#a096a0"/>
<circle cx="714.3" cy="991.8" r="0.66" fill="#a096a0"/>
<circle cx="1282.9" cy="1056.0" r="1.02" fill="#a096a0"/>
<circle cx="871.4" cy="1058.8" r="1.00" fill="#a096a0"/>
<circle cx="1178.9" cy="992.9" r="0.89" fill="#a096a0"/>
<circle cx="422.0" cy="1047.7" r="0.72" fill="#a096a0"/>
<circle cx="760.2" cy="1068.6" r="0.88" fill="#a096a0"/>
<circle cx="403.5" cy="1034.2" r="0.80" fill="#a096a0"/>
<circle cx="1259.9" cy="1014.4" r="0.74" fill="#a096a0"/>
<circle cx="888.9" cy="1000.2" r="0.87" fill="#a096a0"/>
<circle cx="1266.3" cy="1033.7" r="0.72" fill="#a096a0"/>
<circle cx="667.4" cy="1035.4" r="0.67" fill="#a096a0"/>
<circle cx="248.6" cy="1001.2" r="0.73" fill="#a096a0"/>
<circle cx="594.2" cy="1014.5" r="0.71" fill="#a096a0"/>
<circle cx="204.4" cy="1036.4" r="0.98" fill="#a096a0"/>
<circle cx="843.0" cy="1038.5" r="0.89" fill="#a096a0"/>
<circle cx="343.1" cy="1050.4" r="0.81" fill="#a096a0"/>
<circle cx="767.2" cy="1042.1" r="0.81" fill="#a096a0"/>
<circle cx="476.7" cy="1010.6" r="0.70" fill="#a096a0"/>
<circle cx="723.7" cy="1022.6" r="0.86" fill="#a096a0"/>
<circle cx="111.5" cy="1020.0" r="0.99" fill="#a096a0"/>
<circle cx="388.7" cy="1037.3" r="0.82" fill="#a096a0"/>
<circle cx="445.3" cy="1073.9" r="0.73" fill="#a096a0"/>
<circle cx="1041.3" cy="1003.5" r="0.63" fill="#a096a0"/>
<circle cx="1162.6" cy="1027.4" r="0.63" fill="#a096a0"/>
<circle cx="571.4" cy="1027.4" r="0.93" fill="#a096a0"/>
<circle cx="230.6" cy="1009.1" r="1.03" fill="#a096a0"/>
<circle cx="1000.4" cy="1003.1" r="0.75" fill="#a096a0"/>
<circle cx="528.1" cy="1047.4" r="0.88" fill="#a096a0"/>
<circle cx="1136.5" cy="1059.8" r="0.83" fill="#a096a0"/>
<circle cx="1000.5" cy="1053.2" r="0.94" fill="#a096a0"/>
<circle cx="678.2" cy="1056.7" r="0.92" fill="#a096a0"/>
<circle cx="1215.7" cy="1000.8" r="0.99" fill="#a096a0"/>
<circle cx="102.3" cy="1055.1" r="0.86" fill="#a096a0"/>
<circle cx="705.9" cy="1071.8" r="0.86" fill="#a096a0"/>
<circle cx="608.1" cy="1056.6" r="0.99" fill="#a096a0"/>
<circle cx="839.8" cy="1022.3" r="0.80" fill="#a096a0"/>
<circle cx="657.0" cy="1051.5" r="0.73" fill="#a096a0"/>
<circle cx="574.8" cy="1037.2" r="0.77" fill="#a096a0"/>
<circle cx="490.8" cy="1056.9" r="0.98" fill="#a096a0"/>
<circle cx="707.9" cy="1027.7" r="0.68" fill="#a096a0"/>
<circle cx="468.8" cy="1002.3" r="0.86" fill="#a096a0"/>
<circle cx="808.3" cy="997.5" r="1.01" fill="#a096a0"/>
<circle cx="493.1" cy="1061.7" r="0.98" fill="#a096a0"/>
<circle cx="1269.6" cy="1007.4" r="0.79" fill="#a096a0"/>
<circle cx="1210.6" cy="990.9" r="0.62" fill="#a096a0"/>
<circle cx="787.9" cy="1032.3" r="1.01" fill="#a096a0"/>
<circle cx="1043.0" cy="1035.8" r="1.05" fill="#a096a0"/>
<circle cx="729.8" cy="1034.0" r="0.91" fill="#a096a0"/>
<circle cx="573.4" cy="1020.4" r="0.87" fill="#a096a0"/>
<circle cx="526.4" cy="1070.6" r="0.90" fill="#a096a0"/>
<circle cx="739.4" cy="998.4" r="0.77" fill="#a096a0"/>
<circle cx="587.3" cy="1037.7" r="0.86" fill="#a096a0"/>
<circle cx="1173.0" cy="1072.0" r="0.82" fill="#a096a0"/>
<circle cx="635.3" cy="1043.1" r="1.05" fill="#a096a0"/>
<circle cx="516.8" cy="1035.1" r="0.97" fill="#a096a0"/>
<circle cx="305.8" cy="1017.0" r="1.04" fill="#a096a0"/>
<circle cx="1107.2" cy="1033.6" r="0.65" fill="#a096a0"/>
<circle cx="1191.0" cy="1048.6" r="0.97" fill="#a096a0"/>
<circle cx="1308.1" cy="1065.5" r="0.79" fill="#a096a0"/>
<circle cx="288.3" cy="1014.6" r="0.83" fill="#a096a0"/>
<circle cx="714.5" cy="1006.0" r="0.68" fill="#a096a0"/>
<circle cx="867.6" cy="1041.3" r="0.76" fill="#a096a0"/>
<circle cx="1312.4" cy="1044.1" r="0.62" fill="#a096a0"/>
<circle cx="600.2" cy="1056.9" r="0.74" fill="#a096a0"/>
<circle cx="941.7" cy="990.3" r="0.74" fill="#a096a0"/>
<circle cx="1127.0" cy="1039.8" r="0.90" fill="#a096a0"/>
<circle cx="337.5" cy="1032.3" r="0.85" fill="#a096a0"/>
<circle cx="422.3" cy="1045.0" r="0.84" fill="#a096a0"/>
<circle cx="1316.5" cy="1038.8" r="0.78" fill="#a096a0"/>
<circle cx="245.6" cy="1003.3" r="0.94" fill="#a096a0"/>
<circle cx="227.4" cy="998.5" r="0.68" fill="#a096a0"/>
<circle cx="736.0" cy="1060.0" r="0.88" fill="#a096a0"/>
<circle cx="1083.5" cy="995.3" r="0.61" fill="#a096a0"/>
<circle cx="1039.4" cy="1017.4" r="0.92" fill="#a096a0"/>
<circle cx="529.8" cy="1004.4" r="0.72" fill="#a096a0"/>
<circle cx="218.6" cy="1066.8" r="0.86" fill="#a096a0"/>
<circle cx="523.7" cy="1028.2" r="0.77" fill="#a096a0"/>
<circle cx="163.9" cy="1065.7" r="0.86" fill="#a096a0"/>
<circle cx="1270.6" cy="1027.4" r="0.88" fill="#a096a0"/>
<circle cx="401.9" cy="993.7" r="1.02" fill="#a096a0"/>
<circle cx="1142.3" cy="1016.8" r="1.00" fill="#a096a0"/>
<circle cx="1094.8" cy="1015.8" r="0.87" fill="#a096a0"/>
<circle cx="1271.1" cy="1032.1" r="1.03" fill="#a096a0"/>
<circle cx="394.1" cy="1023.1" r="0.92" fill="#a096a0"/>
<circle cx="367.8" cy="1016.3" r="0.99" fill="#a096a0"/>
<circle cx="689.4" cy="1057.4" r="0.71" fill="#a096a0"/>
<circle cx="309.2" cy="1020.5" r="0.68" fill="#a096a0"/>
<circle cx="1285.2" cy="1014.7" r="0.85" fill="#a096a0"/>
<circle cx="237.5" cy="1035.4" r="0.77" fill="#a096a0"/>
<circle cx="590.1" cy="995.6" r="0.66" fill="#a096a0"/>
<circle cx="1107.0" cy="1019.9" r="0.71" fill="#a096a0"/>
<circle cx="330.8" cy="1014.1" r="0.71" fill="#a096a0"/>
<circle cx="139.7" cy="1046.5" r="0.75" fill="#a096a0"/>
<circle cx="287.7" cy="1050.0" r="0.64" fill="#a096a0"/>
<circle cx="426.8" cy="1061.0" r="0.66" fill="#a096a0"/>
<circle cx="639.2" cy="1061.1" r="0.96" fill="#a096a0"/>
<circle cx="291.7" cy="1020.0" r="0.93" fill="#a096a0"/>
<circle cx="557.9" cy="1071.5" r="0.69" fill="#a096a0"/>
<circle cx="1260.0" cy="1032.9" r="0.70" fill="#a096a0"/>
<circle cx="650.6" cy="1001.1" r="0.92" fill="#a096a0"/>
<circle cx="415.9" cy="1066.5" r="0.86" fill="#a096a0"/>
<circle cx="547.1" cy="1010.9" r="0.87" fill="#a096a0"/>
<circle cx="356.9" cy="1064.2" r="0.66" fill="#a096a0"/>
<circle cx="724.4" cy="1036.1" r="0.72" fill="#a096a0"/>
<circle cx="1040.8" cy="1022.7" r="0.90" fill="#a096a0"/>
<circle cx="791.3" cy="1016.4" r="0.78" fill="#a096a0"/>
<circle cx="202.2" cy="1005.0" r="0.98" fill="#a096a0"/>
<circle cx="489.6" cy="1046.3" r="0.65" fill="#a096a0"/>
<circle cx="784.3" cy="1020.7" r="0.83" fill="#a096a0"/>
<circle cx="460.2" cy="995.6" r="0.74" fill="#a096a0"/>
<circle cx="373.9" cy="1000.7" r="0.92" fill="#a096a0"/>
<circle cx="442.3" cy="1024.3" r="1.01" fill="#a096a0"/>
<circle cx="1044.8" cy="1065.0" r="0.99" fill="#a096a0"/>
<circle cx="258.6" cy="1013.5" r="0.61" fill="#a096a0"/>
<circle cx="928.2" cy="1046.4" r="0.76" fill="#a096a0"/>
<circle cx="601.6" cy="1046.0" r="0.91" fill="#a096a0"/>
<circle cx="400.8" cy="1062.0" r="0.76" fill="#a096a0"/>
<circle cx="866.1" cy="1005.4" r="0.65" fill="#a096a0"/>
<circle cx="1213.2" cy="1052.4" r="0.92" fill="#a096a0"/>
<circle cx="146.5" cy="993.4" r="0.67" fill="#a096a0"/>
<circle cx="339.3" cy="1015.8" r="0.77" fill="#a096a0"/>
<circle cx="145.0" cy="1016.4" r="0.89" fill="#a096a0"/>
<circle cx="316.7" cy="1061.4" r="0.86" fill="#a096a0"/>
<circle cx="973.4" cy="1011.7" r="0.80" fill="#a096a0"/>
<circle cx="933.9" cy="1019.7" r="0.60" fill="#a096a0"/>
<circle cx="1117.3" cy="1056.0" r="0.73" fill="#a096a0"/>
<circle cx="149.5" cy="1062.6" r="0.87" fill="#a096a0"/>
<circle cx="154.9" cy="1010.8" r="0.65" fill="#a096a0"/>
<circle cx="1064.9" cy="1007.9" r="1.01" fill="#a096a0"/>
<circle cx="1013.7" cy="997.3" r="0.91" fill="#a096a0"/>
<circle cx="578.4" cy="1053.5" r="0.97" fill="#a096a0"/>
<circle cx="440.9" cy="997.6" r="1.03" fill="#a096a0"/>
<circle cx="615.5" cy="1069.1" r="0.91" fill="#a096a0"/>
<circle cx="1000.3" cy="1060.5" r="0.88" fill="#a096a0"/>
<circle cx="650.8" cy="994.6" r="0.91" fill="#a096a0"/>
<circle cx="620.9" cy="1033.5" r="1.02" fill="#a096a0"/>
<circle cx="253.1" cy="1054.8" r="0.62" fill="#a096a0"/>
<circle cx="956.5" cy="1058.5" r="0.72" fill="#a096a0"/>
<circle cx="765.3" cy="1072.4" r="0.89" fill="#a096a0"/>
<circle cx="762.2" cy="1011.2" r="0.63" fill="#a096a0"/>
<circle cx="534.6" cy="1025.0" r="0.69" fill="#a096a0"/>
<circle cx="476.8" cy="1001.6" r="0.92" fill="#a096a0"/>
<circle cx="916.8" cy="1010.2" r="0.71" fill="#a096a0"/>
<circle cx="727.3" cy="1027.8" r="1.02" fill="#a096a0"/>
<circle cx="526.8" cy="1015.4" r="1.00" fill="#a096a0"/>
<circle cx="270.5" cy="1037.9" r="0.75" fill="#a096a0"/>
<circle cx="1094.2" cy="1036.6" r="0.94" fill="#a096a0"/>
<circle cx="303.9" cy="1046.7" r="0.87" fill="#a096a0"/>
<circle cx="661.0" cy="1055.1" r="0.97" fill="#a096a0"/>
<circle cx="237.0" cy="1014.6" r="0.76" fill="#a096a0"/>
<circle cx="349.5" cy="995.1" r="0.73" fill="#a096a0"/>
<circle cx="338.1" cy="1049.6" r="0.80" fill="#a096a0"/>
<circle cx="235.2" cy="1017.6" r="0.81" fill="#a096a0"/>
<circle cx="540.9" cy="1004.3" r="0.63" fill="#a096a0"/>
<circle cx="110.2" cy="1074.3" r="0.94" fill="#a096a0"/>
<circle cx="199.7" cy="1051.0" r="1.04" fill="#a096a0"/>
<circle cx="786.3" cy="999.2" r="0.82" fill="#a096a0"/>
<circle cx="628.1" cy="1006.1" r="0.84" fill="#a096a0"/>
<circle cx="107.2" cy="1068.2" r="0.89" fill="#a096a0"/>
<circle cx="864.7" cy="1069.5" r="0.89" fill="#a096a0"/>
<circle cx="404.5" cy="1010.9" r="0.66" fill="#a096a0"/>
<circle cx="130.8" cy="1055.8" r="0.98" fill="#a096a0"/>
<circle cx="459.4" cy="1005.8" r="0.89" fill="#a096a0"/>
<circle cx="1131.3" cy="1068.8" r="0.68" fill="#a096a0"/>
<circle cx="1056.6" cy="1060.6" r="0.93" fill="#a096a0"/>
<circle cx="496.5" cy="1005.7" r="0.97" fill="#a096a0"/>
<circle cx="488.6" cy="1021.3" r="0.85" fill="#a096a0"/>
<circle cx="548.6" cy="1060.7" r="0.71" fill="#a096a0"/>
<circle cx="147.5" cy="1038.2" r="0.88" fill="#a096a0"/>
<circle cx="1099.5" cy="1050.0" r="1.01" fill="#a096a0"/>
<circle cx="1252.7" cy="1032.0" r="0.82" fill="#a096a0"/>
<circle cx="289.6" cy="1015.5" r="0.86" fill="#a096a0"/>
<circle cx="195.1" cy="1048.5" r="0.67" fill="#a096a0"/>
<circle cx="639.0" cy="1072.4" r="0.64" fill="#a096a0"/>
<circle cx="145.9" cy="1027.4" r="0.69" fill="#a096a0"/>
<circle cx="981.2" cy="990.2" r="0.98" fill="#a096a0"/>
<circle cx="1143.1" cy="1056.9" r="0.79" fill="#a096a0"/>
<circle cx="443.4" cy="1046.2" r="0.83" fill="#a096a0"/>
<circle cx="612.1" cy="1018.8" r="0.80" fill="#a096a0"/>
<circle cx="911.6" cy="1060.2" r="1.01" fill="#a096a0"/>
<circle cx="298.1" cy="1015.1" r="0.80" fill="#a096a0"/>
<circle cx="786.0" cy="1019.6" r="0.69" fill="#a096a0"/>
<circle cx="201.0" cy="1017.5" r="0.81" fill="#a096a0"/>
<circle cx="1284.9" cy="1067.2" r="0.99" fill="#a096a0"/>
<circle cx="1288.7" cy="1071.8" r="0.88" fill="#a096a0"/>
<circle cx="1089.0" cy="995.1" r="0.90" fill="#a096a0"/>
<circle cx="842.0" cy="1015.2" r="0.86" fill="#a096a0"/>
<circle cx="1262.3" cy="1030.9" r="0.89" fill="#a096a0"/>
<circle cx="463.1" cy="1019.2" r="1.00" fill="#a096a0"/>
<circle cx="131.1" cy="1006.1" r="0.91" fill="#a096a0"/>
<circle cx="644.1" cy="997.2" r="0.90" fill="#a096a0"/>
<circle cx="552.0" cy="1039.4" r="0.79" fill="#a096a0"/>
<circle cx="745.2" cy="1038.0" r="0.78" fill="#a096a0"/>
<circle cx="236.7" cy="1005.3" r="1.00" fill="#a096a0"/>
<circle cx="767.3" cy="999.5" r="0.99" fill="#a096a0"/>
<circle cx="407.0" cy="998.1" r="0.84" fill="#a096a0"/>
<circle cx="404.6" cy="1031.6" r="0.85" fill="#a096a0"/>
<circle cx="374.1" cy="1038.7" r="0.65" fill="#a096a0"/>
<circle cx="724.6" cy="1040.0" r="0.64" fill="#a096a0"/>
<circle cx="596.0" cy="996.2" r="0.80" fill="#a096a0"/>
<circle cx="1153.0" cy="1036.8" r="0.92" fill="#a096a0"/>
<circle cx="1022.7" cy="999.7" r="1.05" fill="#a096a0"/>
<circle cx="979.5" cy="998.7" r="0.97" fill="#a096a0"/>
<circle cx="576.4" cy="1004.6" r="1.03" fill="#a096a0"/>
<circle cx="785.6" cy="1055.9" r="0.66" fill="#a096a0"/>
<circle cx="1046.2" cy="994.9" r="0.71" fill="#a096a0"/>
<circle cx="552.4" cy="991.3" r="0.87" fill="#a096a0"/>
<circle cx="357.7" cy="1015.5" r="0.92" fill="#a096a0"/>
<circle cx="618.0" cy="1065.5" r="0.88" fill="#a096a0"/>
<circle cx="1163.6" cy="1037.9" r="1.01" fill="#a096a0"/>
<circle cx="1162.0" cy="1004.3" r="0.94" fill="#a096a0"/>
<circle cx="514.5" cy="1054.9" r="0.91" fill="#a096a0"/>
<circle cx="1106.7" cy="1000.4" r="0.77" fill="#a096a0"/>
<circle cx="998.7" cy="1070.6" r="0.92" fill="#a096a0"/>
<circle cx="150.2" cy="1041.3" r="0.64" fill="#a096a0"/>
<circle cx="768.2" cy="1058.3" r="0.65" fill="#a096a0"/>
<circle cx="1228.7" cy="1047.4" r="0.71" fill="#a096a0"/>
<circle cx="333.2" cy="1028.0" r="0.98" fill="#a096a0"/>
<circle cx="808.0" cy="999.7" r="0.61" fill="#a096a0"/>
<circle cx="232.0" cy="1058.1" r="0.68" fill="#a096a0"/>
<circle cx="774.8" cy="1014.7" r="0.91" fill="#a096a0"/>
<circle cx="562.7" cy="1002.3" r="0.99" fill="#a096a0"/>
<circle cx="755.5" cy="1048.6" r="0.96" fill="#a096a0"/>
<circle cx="1257.3" cy="991.2" r="0.75" fill="#a096a0"/>
<circle cx="281.6" cy="1032.7" r="0.99" fill="#a096a0"/>
<circle cx="1076.0" cy="993.0" r="0.68" fill="#a096a0"/>
<circle cx="1097.8" cy="1047.8" r="0.78" fill="#a096a0"/>
<circle cx="678.9" cy="1003.5" r="0.98" fill="#a096a0"/>
<circle cx="578.1" cy="1064.2" r="0.87" fill="#a096a0"/>
<circle cx="189.8" cy="1018.0" r="0.70" fill="#a096a0"/>
<circle cx="1190.3" cy="1040.1" r="0.62" fill="#a096a0"/>
<circle cx="304.6" cy="1020.7" r="0.81" fill="#a096a0"/>
<circle cx="802.7" cy="1023.0" r="0.76" fill="#a096a0"/>
<circle cx="104.3" cy="1039.2" r="0.75" fill="#a096a0"/>
<circle cx="122.1" cy="1029.0" r="1.04" fill="#a096a0"/>
<circle cx="152.5" cy="1002.4" r="0.90" fill="#a096a0"/>
<circle cx="430.5" cy="1013.2" r="0.83" fill="#a096a0"/>
<circle cx="417.5" cy="1038.4" r="0.84" fill="#a096a0"/>
<circle cx="1267.4" cy="1074.3" r="0.62" fill="#a096a0"/>
<circle cx="782.6" cy="1055.5" r="0.99" fill="#a096a0"/>
<circle cx="1044.0" cy="1043.8" r="0.89" fill="#a096a0"/>
<circle cx="540.8" cy="1013.9" r="0.96" fill="#a096a0"/>
<circle cx="1164.5" cy="1069.8" r="0.91" fill="#a096a0"/>
<circle cx="468.8" cy="1054.9" r="0.93" fill="#a096a0"/>
<circle cx="719.4" cy="1044.0" r="0.76" fill="#a096a0"/>
<circle cx="770.6" cy="1024.5" r="0.63" fill="#a096a0"/>
<circle cx="509.4" cy="1017.5" r="1.04" fill="#a096a0"/>
<circle cx="685.8" cy="1021.2" r="0.71" fill="#a096a0"/>
<circle cx="384.2" cy="1019.7" r="0.66" fill="#a096a0"/>
<circle cx="105.8" cy="1064.0" r="0.80" fill="#a096a0"/>
<circle cx="641.9" cy="1038.3" r="0.74" fill="#a096a0"/>
<circle cx="303.6" cy="995.6" r="0.74" fill="#a096a0"/>
<circle cx="474.3" cy="1051.8" r="0.85" fill="#a096a0"/>
<circle cx="1243.5" cy="1018.9" r="1.01" fill="#a096a0"/>
<circle cx="810.4" cy="996.8" r="0.68" fill="#a096a0"/>
<circle cx="806.9" cy="1073.9" r="0.76" fill="#a096a0"/>
<circle cx="1044.1" cy="1026.4" r="0.99" fill="#a096a0"/>
<circle cx="179.9" cy="1031.2" r="1.00" fill="#a096a0"/>
<circle cx="434.4" cy="1011.9" r="0.61" fill="#a096a0"/>
<circle cx="298.3" cy="1012.8" r="0.92" fill="#a096a0"/>
<circle cx="364.0" cy="1024.0" r="0.69" fill="#a096a0"/>
<circle cx="834.3" cy="1063.4" r="0.89" fill="#a096a0"/>
<circle cx="337.6" cy="1052.4" r="1.03" fill="#a096a0"/>
<circle cx="832.0" cy="996.7" r="0.96" fill="#a096a0"/>
<circle cx="1167.8" cy="1019.0" r="0.66" fill="#a096a0"/>
<circle cx="327.1" cy="1035.6" r="0.99" fill="#a096a0"/>
<circle cx="879.6" cy="1068.4" r="0.70" fill="#a096a0"/>
<circle cx="496.6" cy="1053.7" r="0.89" fill="#a096a0"/>
<circle cx="592.7" cy="1047.7" r="0.75" fill="#a096a0"/>
<circle cx="167.3" cy="1025.2" r="0.62" fill="#a096a0"/>
<circle cx="863.0" cy="1018.4" r="0.82" fill="#a096a0"/>
<circle cx="828.2" cy="1011.8" r="0.81" fill="#a096a0"/>
<circle cx="113.6" cy="1068.6" r="0.85" fill="#a096a0"/>
<circle cx="1304.7" cy="994.8" r="0.88" fill="#a096a0"/>
<circle cx="982.6" cy="1018.0" r="0.64" fill="#a096a0"/>
<circle cx="288.0" cy="1002.1" r="0.95" fill="#a096a0"/>
<circle cx="206.9" cy="1059.2" r="0.79" fill="#a096a0"/>
<circle cx="755.8" cy="1040.0" r="0.85" fill="#a096a0"/>
<circle cx="901.0" cy="1041.1" r="0.75" fill="#a096a0"/>
<circle cx="1003.3" cy="1011.9" r="0.92" fill="#a096a0"/>
<circle cx="1030.5" cy="1056.0" r="0.74" fill="#a096a0"/>
<circle cx="1041.9" cy="1073.1" r="0.80" fill="#a096a0"/>
<circle cx="437.3" cy="1034.5" r="1.02" fill="#a096a0"/>
<circle cx="258.3" cy="990.8" r="0.81" fill="#a096a0"/>
<circle cx="898.5" cy="1055.8" r="0.76" fill="#a096a0"/>
<circle cx="1307.2" cy="1009.4" r="0.94" fill="#a096a0"/>
<circle cx="207.0" cy="992.4" r="0.66" fill="#a096a0"/>
<circle cx="170.6" cy="1032.7" r="0.85" fill="#a096a0"/>
<circle cx="319.4" cy="1069.9" r="0.76" fill="#a096a0"/>
<circle cx="279.6" cy="1005.1" r="0.93" fill="#a096a0"/>
<circle cx="1223.9" cy="1003.8" r="0.61" fill="#a096a0"/>
<circle cx="1048.6" cy="1010.6" r="1.04" fill="#a096a0"/>
<circle cx="707.2" cy="1044.1" r="0.75" fill="#a096a0"/>
<circle cx="1076.1" cy="1029.1" r="0.75" fill="#a096a0"/>
<circle cx="1202.0" cy="999.2" r="0.93" fill="#a096a0"/>
<circle cx="177.0" cy="1044.9" r="0.78" fill="#a096a0"/>
<circle cx="1153.7" cy="995.1" r="0.85" fill="#a096a0"/>
<circle cx="598.3" cy="1068.1" r="1.03" fill="#a096a0"/>
<circle cx="864.0" cy="1009.0" r="0.71" fill="#a096a0"/>
<circle cx="417.8" cy="1026.9" r="0.70" fill="#a096a0"/>
<circle cx="345.5" cy="1054.5" r="0.89" fill="#a096a0"/>
<circle cx="462.0" cy="1074.5" r="0.70" fill="#a096a0"/>
<circle cx="793.5" cy="1003.3" r="0.99" fill="#a096a0"/>
<circle cx="1160.1" cy="1012.7" r="0.94" fill="#a096a0"/>
<circle cx="1103.3" cy="1014.0" r="0.75" fill="#a096a0"/>
<circle cx="690.8" cy="1065.7" r="0.67" fill="#a096a0"/>
<circle cx="932.0" cy="1040.8" r="0.80" fill="#a096a0"/>
<circle cx="805.4" cy="1065.0" r="0.69" fill="#a096a0"/>
<circle cx="1177.6" cy="1020.6" r="0.95" fill="#a096a0"/>
<circle cx="1152.9" cy="1005.5" r="0.99" fill="#a096a0"/>
<circle cx="1313.7" cy="1015.3" r="0.61" fill="#a096a0"/>
<circle cx="233.4" cy="1072.8" r="0.60" fill="#a096a0"/>
<circle cx="1211.9" cy="1002.8" r="0.93" fill="#a096a0"/>
<circle cx="216.3" cy="1004.3" r="0.91" fill="#a096a0"/>
<circle cx="207.4" cy="1018.9" r="1.01" fill="#a096a0"/>
<circle cx="973.1" cy="1065.0" r="1.04" fill="#a096a0"/>
<circle cx="137.3" cy="1009.9" r="0.96" fill="#a096a0"/>
<circle cx="940.2" cy="993.2" r="0.83" fill="#a096a0"/>
<circle cx="380.3" cy="1026.6" r="0.65" fill="#a096a0"/>
<circle cx="121.4" cy="1074.2" r="0.74" fill="#a096a0"/>
<circle cx="1171.5" cy="1000.2" r="0.82" fill="#a096a0"/>
<circle cx="263.1" cy="1026.4" r="0.68" fill="#a096a0"/>
<circle cx="935.2" cy="1002.6" r="0.93" fill="#a096a0"/>
<circle cx="709.4" cy="999.6" r="0.76" fill="#a096a0"/>
<circle cx="703.9" cy="1068.1" r="0.76" fill="#a096a0"/>
<circle cx="360.1" cy="1072.2" r="1.00" fill="#a096a0"/>
<circle cx="991.5" cy="1013.2" r="0.68" fill="#a096a0"/>
<circle cx="420.7" cy="995.9" r="0.62" fill="#a096a0"/>
<circle cx="719.2" cy="1024.7" r="0.85" fill="#a096a0"/>
<circle cx="540.5" cy="990.9" r="0.91" fill="#a096a0"/>
<circle cx="895.8" cy="1036.2" r="0.85" fill="#a096a0"/>
<circle cx="941.2" cy="1073.5" r="0.99" fill="#a096a0"/>
<circle cx="974.8" cy="1023.9" r="0.74" fill="#a096a0"/>
<circle cx="609.6" cy="1072.7" r="0.77" fill="#a096a0"/>
<circle cx="568.4" cy="1024.8" r="0.66" fill="#a096a0"/>
<circle cx="1318.0" cy="990.4" r="0.87" fill="#a096a0"/>
<circle cx="1229.8" cy="1011.6" r="0.87" fill="#a096a0"/>
<circle cx="558.0" cy="1010.5" r="0.69" fill="#a096a0"/>
<circle cx="239.1" cy="1061.7" r="0.95" fill="#a096a0"/>
<circle cx="1208.1" cy="994.2" r="0.91" fill="#a096a0"/>
<circle cx="493.7" cy="1044.9" r="0.85" fill="#a096a0"/>
<circle cx="483.0" cy="1072.6" r="0.60" fill="#a096a0"/>
<circle cx="1009.6" cy="1062.5" r="0.83" fill="#a096a0"/>
<circle cx="821.4" cy="1074.6" r="0.71" fill="#a096a0"/>
<circle cx="866.9" cy="1053.2" r="0.77" fill="#a096a0"/>
<circle cx="968.0" cy="1023.4" r="0.84" fill="#a096a0"/>
<circle cx="846.5" cy="1047.6" r="0.74" fill="#a096a0"/>
<circle cx="866.1" cy="1036.2" r="0.70" fill="#a096a0"/>
<circle cx="846.1" cy="1012.5" r="1.01" fill="#a096a0"/>
<circle cx="675.8" cy="1051.3" r="0.83" fill="#a096a0"/>
<circle cx="679.9" cy="1008.8" r="0.66" fill="#a096a0"/>
<circle cx="1231.1" cy="1034.9" r="0.84" fill="#a096a0"/>
<circle cx="742.1" cy="1059.1" r="0.71" fill="#a096a0"/>
<circle cx="307.8" cy="1059.9" r="0.81" fill="#a096a0"/>
<circle cx="880.4" cy="1060.3" r="1.00" fill="#a096a0"/>
<circle cx="1158.3" cy="993.7" r="0.77" fill="#a096a0"/>
<circle cx="1114.7" cy="1059.5" r="0.66" fill="#a096a0"/>
<circle cx="285.2" cy="1011.4" r="0.65" fill="#a096a0"/>
<circle cx="533.2" cy="1058.3" r="0.83" fill="#a096a0"/>
<circle cx="650.8" cy="997.5" r="0.78" fill="#a096a0"/>
<circle cx="1316.3" cy="1049.1" r="0.80" fill="#a096a0"/>
<circle cx="682.0" cy="1057.9" r="0.94" fill="#a096a0"/>
<circle cx="280.3" cy="1047.8" r="0.77" fill="#a096a0"/>
<circle cx="733.8" cy="1010.2" r="0.77" fill="#a096a0"/>
<circle cx="512.9" cy="1022.4" r="0.61" fill="#a096a0"/>
<circle cx="342.6" cy="1038.5" r="0.63" fill="#a096a0"/>
<circle cx="315.2" cy="1051.0" r="0.72" fill="#a096a0"/>
<circle cx="493.3" cy="1010.6" r="0.98" fill="#a096a0"/>
<circle cx="208.7" cy="1044.1" r="0.99" fill="#a096a0"/>
<circle cx="343.7" cy="1026.0" r="0.96" fill="#a096a0"/>
<circle cx="852.6" cy="1021.6" r="0.62" fill="#a096a0"/>
<circle cx="638.2" cy="1021.2" r="0.92" fill="#a096a0"/>
<circle cx="458.1" cy="1024.7" r="0.89" fill="#a096a0"/>
<circle cx="1088.6" cy="1019.9" r="0.77" fill="#a096a0"/>
<circle cx="804.8" cy="1068.6" r="0.69" fill="#a096a0"/>
<circle cx="1285.0" cy="1050.5" r="0.77" fill="#a096a0"/>
<circle cx="911.0" cy="1018.0" r="0.63" fill="#a096a0"/>
<circle cx="1021.6" cy="1022.2" r="0.84" fill="#a096a0"/>
<circle cx="704.3" cy="1066.6" r="0.94" fill="#a096a0"/>
<circle cx="128.3" cy="1040.4" r="0.81" fill="#a096a0"/>
<circle cx="662.2" cy="1061.4" r="0.79" fill="#a096a0"/>
<circle cx="676.2" cy="1065.7" r="0.80" fill="#a096a0"/>
<circle cx="697.8" cy="1033.5" r="0.97" fill="#a096a0"/>
<circle cx="916.9" cy="1052.9" r="0.78" fill="#a096a0"/>
<circle cx="146.6" cy="1047.8" r="0.85" fill="#a096a0"/>
<circle cx="1037.8" cy="1055.4" r="0.65" fill="#a096a0"/>
<circle cx="366.9" cy="996.6" r="0.97" fill="#a096a0"/>
<circle cx="221.4" cy="997.5" r="0.94" fill="#a096a0"/>
<circle cx="787.3" cy="994.7" r="0.91" fill="#a096a0"/>
<circle cx="966.6" cy="1031.0" r="0.62" fill="#a096a0"/>
<circle cx="942.1" cy="1025.5" r="0.86" fill="#a096a0"/>
<circle cx="1317.7" cy="1059.4" r="0.99" fill="#a096a0"/>
<circle cx="275.0" cy="1018.4" r="0.83" fill="#a096a0"/>
<circle cx="104.4" cy="1074.0" r="0.72" fill="#a096a0"/>
<circle cx="417.8" cy="1016.6" r="0.71" fill="#a096a0"/>
<circle cx="1147.4" cy="1037.2" r="0.83" fill="#a096a0"/>
<circle cx="610.9" cy="994.3" r="0.74" fill="#a096a0"/>
<circle cx="1157.1" cy="1058.2" r="0.99" fill="#a096a0"/>
<circle cx="411.4" cy="1007.2" r="0.62" fill="#a096a0"/>
<circle cx="753.6" cy="1021.8" r="0.81" fill="#a096a0"/>
<circle cx="695.0" cy="1039.6" r="0.76" fill="#a096a0"/>
<circle cx="1077.2" cy="1007.0" r="1.01" fill="#a096a0"/>
<circle cx="777.1" cy="994.3" r="0.74" fill="#a096a0"/>
<circle cx="749.0" cy="1024.8" r="0.85" fill="#a096a0"/>
<circle cx="492.7" cy="1013.3" r="0.96" fill="#a096a0"/>
<circle cx="453.5" cy="1050.4" r="0.96" fill="#a096a0"/>
<circle cx="821.1" cy="1028.6" r="1.02" fill="#a096a0"/>
<circle cx="641.1" cy="1064.6" r="0.63" fill="#a096a0"/>
<circle cx="627.4" cy="1044.3" r="0.62" fill="#a096a0"/>
<circle cx="1152.0" cy="996.1" r="0.87" fill="#a096a0"/>
<circle cx="317.3" cy="1068.4" r="0.85" fill="#a096a0"/>
<circle cx="1076.3" cy="1032.3" r="0.90" fill="#a096a0"/>
<circle cx="922.5" cy="1015.1" r="0.69" fill="#a096a0"/>
<circle cx="1122.2" cy="1002.4" r="1.01" fill="#a096a0"/>
<circle cx="350.0" cy="998.6" r="0.64" fill="#a096a0"/>
<circle cx="1056.1" cy="1070.8" r="0.79" fill="#a096a0"/>
<circle cx="902.8" cy="1011.9" r="1.01" fill="#a096a0"/>
<circle cx="935.9" cy="1003.2" r="0.63" fill="#a096a0"/>
<circle cx="947.9" cy="993.5" r="0.98" fill="#a096a0"/>
<circle cx="456.1" cy="1009.8" r="0.86" fill="#a096a0"/>
<circle cx="486.8" cy="1037.6" r="0.67" fill="#a096a0"/>
<circle cx="1212.3" cy="1017.6" r="0.98" fill="#a096a0"/>
<circle cx="282.8" cy="1057.9" r="1.04" fill="#a096a0"/>
<circle cx="575.8" cy="992.8" r="0.77" fill="#a096a0"/>
<circle cx="880.7" cy="1009.0" r="0.85" fill="#a096a0"/>
<circle cx="211.5" cy="1029.5" r="0.93" fill="#a096a0"/>
<circle cx="622.7" cy="1047.7" r="0.65" fill="#a096a0"/>
<circle cx="1110.2" cy="1000.4" r="1.02" fill="#a096a0"/>
<circle cx="1315.3" cy="1069.9" r="0.84" fill="#a096a0"/>
<circle cx="452.6" cy="1019.6" r="0.94" fill="#a096a0"/>
<circle cx="704.3" cy="1069.0" r="0.64" fill="#a096a0"/>
<circle cx="689.8" cy="1063.4" r="0.87" fill="#a096a0"/>
<circle cx="758.3" cy="997.5" r="0.66" fill="#a096a0"/>
<circle cx="428.6" cy="1065.9" r="0.98" fill="#a096a0"/>
<circle cx="374.8" cy="1068.6" r="0.61" fill="#a096a0"/>
<circle cx="829.3" cy="1072.2" r="0.75" fill="#a096a0"/>
<circle cx="1252.0" cy="1045.8" r="0.62" fill="#a096a0"/>
<polygon points="504.3,1025.8 506.6,1029.3 502.4,1029.5" fill="#b23ab2" stroke="#d070d0" stroke-width="0.6" />
<polygon points="318.0,1058.0 313.7,1058.4 315.5,1054.5" fill="#b23ab2" stroke="#d070d0" stroke-width="0.6" />
<polygon points="781.5,995.5 782.8,1000.0 778.3,998.9" fill="#b23ab2" stroke="#d070d0" stroke-width="0.6" />
<polygon points="823.2,1029.0 826.7,1027.4 826.4,1031.2" fill="#b23ab2" stroke="#d070d0" stroke-width="0.6" />
<polygon points="213.9,1043.9 217.9,1043.7 216.0,1047.3" fill="#b23ab2" stroke="#d070d0" stroke-width="0.6" />
<polygon points="530.0,1024.2 525.8,1021.9 529.9,1019.4" fill="#b23ab2" stroke="#d070d0" stroke-width="0.6" />
<polygon points="305.9,1067.9 305.7,1072.3 302.0,1069.9" fill="#b23ab2" stroke="#d070d0" stroke-width="0.6" />
<polygon points="1167.1,1032.1 1163.1,1031.9 1165.4,1028.5" fill="#b23ab2" stroke="#d070d0" stroke-width="0.6" />
<polygon points="1169.5,999.4 1173.9,998.0 1172.9,1002.5" fill="#b23ab2" stroke="#d070d0" stroke-width="0.6" />
<polygon points="238.5,1029.2 242.4,1028.0 241.5,1032.0" fill="#b23ab2" stroke="#d070d0" stroke-width="0.6" />
<polygon points="714.8,1022.5 716.6,1018.8 718.9,1022.2" fill="#b23ab2" stroke="#d070d0" stroke-width="0.6" />
<polygon points="347.5,999.1 346.5,1003.1 343.5,1000.2" fill="#b23ab2" stroke="#d070d0" stroke-width="0.6" />
<polygon points="712.8,1064.9 710.3,1067.9 709.0,1064.3" fill="#b23ab2" stroke="#d070d0" stroke-width="0.6" />
<polygon points="693.3,1054.7 697.0,1057.6 692.6,1059.4" fill="#b23ab2" stroke="#d070d0" stroke-width="0.6" />
<polygon points="377.2,1056.1 375.5,1052.4 379.5,1052.8" fill="#b23ab2" stroke="#d070d0" stroke-width="0.6" />
<polygon points="134.1,1026.0 132.9,1021.5 137.4,1022.7" fill="#b23ab2" stroke="#d070d0" stroke-width="0.6" />
<polygon points="1186.4,999.9 1183.6,996.1 1188.3,995.6" fill="#b23ab2" stroke="#d070d0" stroke-width="0.6" />
<polygon points="827.7,1057.7 822.8,1058.4 824.7,1053.8" fill="#b23ab2" stroke="#d070d0" stroke-width="0.6" />
<polygon points="400.5,1041.7 395.4,1043.1 396.7,1038.0" fill="#b23ab2" stroke="#d070d0" stroke-width="0.6" />
<polygon points="851.5,1051.3 851.8,1046.2 856.0,1049.0" fill="#b23ab2" stroke="#d070d0" stroke-width="0.6" />
<polygon points="1091.3,1029.5 1086.6,1031.8 1087.0,1026.5" fill="#b23ab2" stroke="#d070d0" stroke-width="0.6" />
<polygon points="1249.2,1026.4 1244.7,1026.2 1247.1,1022.5" fill="#b23ab2" stroke="#d070d0" stroke-width="0.6" />
<polygon points="398.1,1054.7 393.6,1052.6 397.6,1049.8" fill="#b23ab2" stroke="#d070d0" stroke-width="0.6" />
<polygon points="518.6,1004.3 515.9,1001.2 519.9,1000.4" fill="#b23ab2" stroke="#d070d0" stroke-width="0.6" />
<polygon points="502.7,1070.0 504.1,1075.1 498.9,1073.8" fill="#b23ab2" stroke="#d070d0" stroke-width="0.6" />
<polygon points="686.1,1030.7 683.9,1035.2 681.1,1031.0" fill="#b23ab2" stroke="#d070d0" stroke-width="0.6" />
<polygon points="1014.4,1042.4 1018.3,1043.5 1015.4,1046.4" fill="#b23ab2" stroke="#d070d0" stroke-width="0.6" />
<polygon points="1130.9,1054.6 1133.5,1057.6 1129.6,1058.4" fill="#b23ab2" stroke="#d070d0" stroke-width="0.6" />
<polygon points="522.6,1001.1 527.1,1003.9 522.4,1006.4" fill="#b23ab2" stroke="#d070d0" stroke-width="0.6" />
<polygon points="1011.5,1000.3 1008.4,1004.4 1006.5,999.7" fill="#b23ab2" stroke="#d070d0" stroke-width="0.6" />
<polygon points="1204.5,1050.5 1205.5,1055.5 1200.7,1053.9" fill="#b23ab2" stroke="#d070d0" stroke-width="0.6" />
<polygon points="819.7,1024.1 821.2,1029.0 816.2,1027.9" fill="#b23ab2" stroke="#d070d0" stroke-width="0.6" />
<polygon points="1159.0,1014.8 1164.0,1013.1 1163.0,1018.3" fill="#b23ab2" stroke="#d070d0" stroke-width="0.6" />
<polygon points="1254.6,996.9 1256.1,1002.0 1250.9,1000.7" fill="#b23ab2" stroke="#d070d0" stroke-width="0.6" />
<polygon points="406.0,1063.5 402.8,1060.8 406.8,1059.4" fill="#b23ab2" stroke="#d070d0" stroke-width="0.6" />
<polygon points="659.2,1008.7 657.2,1012.8 654.7,1008.9" fill="#b23ab2" stroke="#d070d0" stroke-width="0.6" />
<polygon points="935.7,1047.9 937.1,1052.1 932.7,1051.2" fill="#b23ab2" stroke="#d070d0" stroke-width="0.6" />
<polygon points="1069.0,1045.3 1069.3,1050.6 1064.6,1048.2" fill="#b23ab2" stroke="#d070d0" stroke-width="0.6" />
<polygon points="595.3,995.0 595.2,999.8 591.0,997.4" fill="#b23ab2" stroke="#d070d0" stroke-width="0.6" />
<polygon points="513.1,1037.7 514.4,1042.7 509.5,1041.3" fill="#b23ab2" stroke="#d070d0" stroke-width="0.6" />
<polygon points="104.2,1033.0 100.4,1032.3 102.9,1029.4" fill="#b23ab2" stroke="#d070d0" stroke-width="0.6" />
<polygon points="1087.9,1026.3 1091.2,1022.9 1092.5,1027.5" fill="#b23ab2" stroke="#d070d0" stroke-width="0.6" />
<polygon points="508.6,1006.1 508.3,1010.4 504.7,1008.0" fill="#b23ab2" stroke="#d070d0" stroke-width="0.6" />
<polygon points="854.1,1017.1 852.6,1013.4 856.5,1014.0" fill="#b23ab2" stroke="#d070d0" stroke-width="0.6" />
<polygon points="955.5,1025.0 956.3,1029.7 951.8,1028.0" fill="#b23ab2" stroke="#d070d0" stroke-width="0.6" />
<polygon points="245.6,1046.0 245.9,1049.9 242.4,1048.2" fill="#b23ab2" stroke="#d070d0" stroke-width="0.6" />
<polygon points="320.2,1015.4 321.1,1010.2 325.2,1013.6" fill="#b23ab2" stroke="#d070d0" stroke-width="0.6" />
<polygon points="373.4,1063.9 371.6,1068.4 368.6,1064.6" fill="#b23ab2" stroke="#d070d0" stroke-width="0.6" />
<polygon points="576.2,1032.3 580.9,1029.9 580.7,1035.2" fill="#b23ab2" stroke="#d070d0" stroke-width="0.6" />
<polygon points="1307.5,1008.6 1303.1,1006.2 1307.4,1003.5" fill="#b23ab2" stroke="#d070d0" stroke-width="0.6" />
<polygon points="744.0,989.2 741.3,992.4 740.0,988.5" fill="#b23ab2" stroke="#d070d0" stroke-width="0.6" />
<polygon points="651.5,1060.7 652.0,1056.6 655.3,1059.1" fill="#b23ab2" stroke="#d070d0" stroke-width="0.6" />
<polygon points="217.4,1036.7 222.1,1034.5 221.7,1039.7" fill="#b23ab2" stroke="#d070d0" stroke-width="0.6" />
<polygon points="556.2,1066.3 560.7,1068.9 556.2,1071.5" fill="#b23ab2" stroke="#d070d0" stroke-width="0.6" />
<polygon points="192.3,1042.4 189.2,1045.6 188.0,1041.2" fill="#b23ab2" stroke="#d070d0" stroke-width="0.6" />
<polygon points="537.5,1048.1 538.8,1043.5 542.2,1046.9" fill="#b23ab2" stroke="#d070d0" stroke-width="0.6" />
<polygon points="732.6,1047.5 737.1,1044.9 737.2,1050.1" fill="#b23ab2" stroke="#d070d0" stroke-width="0.6" />
<polygon points="543.0,1071.0 542.9,1074.9 539.6,1073.0" fill="#b23ab2" stroke="#d070d0" stroke-width="0.6" />
<polygon points="933.0,1034.8 935.2,1038.7 930.7,1038.7" fill="#b23ab2" stroke="#d070d0" stroke-width="0.6" />
<polygon points="1189.6,1052.6 1184.9,1054.1 1186.0,1049.2" fill="#b23ab2" stroke="#d070d0" stroke-width="0.6" />
<polygon points="497.1,999.7 495.2,1004.7 491.9,1000.6" fill="#b23ab2" stroke="#d070d0" stroke-width="0.6" />
<polygon points="276.4,1040.7 271.8,1041.8 273.1,1037.3" fill="#b23ab2" stroke="#d070d0" stroke-width="0.6" />
<polygon points="576.2,1056.3 574.6,1051.7 579.3,1052.6" fill="#b23ab2" stroke="#d070d0" stroke-width="0.6" />
<polygon points="1027.1,1016.0 1029.5,1012.1 1031.8,1016.1" fill="#b23ab2" stroke="#d070d0" stroke-width="0.6" />
<polygon points="1292.0,1042.5 1296.2,1045.3 1291.7,1047.6" fill="#b23ab2" stroke="#d070d0" stroke-width="0.6" />
<polygon points="561.3,1069.2 565.1,1072.3 560.6,1074.1" fill="#b23ab2" stroke="#d070d0" stroke-width="0.6" />
<polygon points="437.6,1001.3 437.8,1006.0 433.6,1003.9" fill="#b23ab2" stroke="#d070d0" stroke-width="0.6" />
<polygon points="1065.3,1019.3 1069.0,1017.6 1068.6,1021.6" fill="#b23ab2" stroke="#d070d0" stroke-width="0.6" />
<polygon points="1171.4,1006.3 1167.2,1003.7 1171.5,1001.3" fill="#b23ab2" stroke="#d070d0" stroke-width="0.6" />
<polygon points="476.7,996.2 478.0,992.1 480.9,995.3" fill="#b23ab2" stroke="#d070d0" stroke-width="0.6" />
<polygon points="1278.7,1074.0 1278.1,1069.9 1281.9,1071.4" fill="#b23ab2" stroke="#d070d0" stroke-width="0.6" />
<polygon points="1248.9,1007.7 1251.5,1004.3 1253.1,1008.3" fill="#b23ab2" stroke="#d070d0" stroke-width="0.6" />
<polygon points="227.7,1013.8 229.1,1009.6 232.0,1012.9" fill="#b23ab2" stroke="#d070d0" stroke-width="0.6" />
<polygon points="1277.5,1011.4 1275.6,1015.1 1273.4,1011.6" fill="#b23ab2" stroke="#d070d0" stroke-width="0.6" />
<polygon points="648.1,1058.4 649.8,1062.9 645.0,1062.1" fill="#b23ab2" stroke="#d070d0" stroke-width="0.6" />
<polygon points="479.1,1003.5 482.9,1000.2 483.8,1005.1" fill="#b23ab2" stroke="#d070d0" stroke-width="0.6" />
<polygon points="779.9,1049.8 778.1,1045.2 783.0,1046.0" fill="#b23ab2" stroke="#d070d0" stroke-width="0.6" />
<polygon points="540.0,1070.6 538.7,1066.1 543.2,1067.2" fill="#b23ab2" stroke="#d070d0" stroke-width="0.6" />
<polygon points="870.5,1012.8 865.7,1014.1 867.0,1009.3" fill="#b23ab2" stroke="#d070d0" stroke-width="0.6" />
<polygon points="1110.3,1037.2 1107.6,1040.6 1106.0,1036.6" fill="#b23ab2" stroke="#d070d0" stroke-width="0.6" />
<polygon points="419.6,1010.0 423.4,1009.2 422.2,1012.9" fill="#b23ab2" stroke="#d070d0" stroke-width="0.6" />
<polygon points="1019.7,1045.2 1020.4,1049.6 1016.3,1048.1" fill="#b23ab2" stroke="#d070d0" stroke-width="0.6" />
<polygon points="235.8,1015.5 232.2,1018.7 231.2,1014.0" fill="#b23ab2" stroke="#d070d0" stroke-width="0.6" />
<polygon points="870.0,1050.6 871.9,1046.0 875.0,1049.9" fill="#b23ab2" stroke="#d070d0" stroke-width="0.6" />
<polygon points="1245.1,1054.7 1246.7,1050.6 1249.4,1054.0" fill="#b23ab2" stroke="#d070d0" stroke-width="0.6" />
<polygon points="1084.0,1018.0 1083.1,1022.0 1080.1,1019.2" fill="#b23ab2" stroke="#d070d0" stroke-width="0.6" />
<polygon points="749.7,1032.7 747.7,1037.1 744.8,1033.1" fill="#b23ab2" stroke="#d070d0" stroke-width="0.6" />
<polygon points="258.4,1020.0 260.3,1016.5 262.3,1019.9" fill="#b23ab2" stroke="#d070d0" stroke-width="0.6" />
<polygon points="708.6,1061.1 713.5,1060.9 711.2,1065.2" fill="#b23ab2" stroke="#d070d0" stroke-width="0.6" />
<polygon points="592.1,1036.7 591.8,1041.0 588.3,1038.6" fill="#b23ab2" stroke="#d070d0" stroke-width="0.6" />
<polygon points="1060.2,1059.2 1063.6,1061.3 1060.1,1063.3" fill="#b23ab2" stroke="#d070d0" stroke-width="0.6" />
<polygon points="1021.7,1030.8 1019.6,1035.5 1016.5,1031.4" fill="#b23ab2" stroke="#d070d0" stroke-width="0.6" />
<polygon points="1007.7,1057.9 1006.4,1062.5 1003.0,1059.0" fill="#b23ab2" stroke="#d070d0" stroke-width="0.6" />
<polygon points="255.4,1048.0 260.2,1048.9 257.0,1052.6" fill="#b23ab2" stroke="#d070d0" stroke-width="0.6" />
<polygon points="434.6,993.3 434.9,998.0 430.7,995.9" fill="#b23ab2" stroke="#d070d0" stroke-width="0.6" />
<polygon points="432.9,1009.4 428.8,1009.2 431.1,1005.7" fill="#b23ab2" stroke="#d070d0" stroke-width="0.6" />
<polygon points="921.9,1075.1 922.7,1070.1 926.6,1073.3" fill="#b23ab2" stroke="#d070d0" stroke-width="0.6" />
<polygon points="951.1,998.8 950.8,993.7 955.4,996.0" fill="#b23ab2" stroke="#d070d0" stroke-width="0.6" />
<polygon points="100.8,1045.8 99.4,1042.0 103.4,1042.6" fill="#b23ab2" stroke="#d070d0" stroke-width="0.6" />
<polygon points="170.2,1025.4 171.0,1030.0 166.6,1028.3" fill="#b23ab2" stroke="#d070d0" stroke-width="0.6" />
<polygon points="145.8,1062.6 143.3,1059.5 147.2,1058.9" fill="#b23ab2" stroke="#d070d0" stroke-width="0.6" />
<polygon points="864.5,1017.9 868.9,1017.5 867.1,1021.4" fill="#b23ab2" stroke="#d070d0" stroke-width="0.6" />
<polygon points="364.7,1055.4 364.6,1059.6 361.1,1057.4" fill="#b23ab2" stroke="#d070d0" stroke-width="0.6" />
<polygon points="1086.5,1033.5 1087.8,1037.1 1084.0,1036.4" fill="#b23ab2" stroke="#d070d0" stroke-width="0.6" />
<polygon points="134.1,1033.9 129.6,1034.5 131.4,1030.3" fill="#b23ab2" stroke="#d070d0" stroke-width="0.6" />
<polygon points="865.3,1053.2 867.2,1048.9 870.0,1052.7" fill="#b23ab2" stroke="#d070d0" stroke-width="0.6" />
<polygon points="724.9,1038.3 724.0,1042.3 720.9,1039.5" fill="#b23ab2" stroke="#d070d0" stroke-width="0.6" />
<polygon points="1313.3,1061.0 1313.1,1055.7 1317.8,1058.3" fill="#b23ab2" stroke="#d070d0" stroke-width="0.6" />
<polygon points="1304.9,998.0 1300.6,996.6 1304.0,993.6" fill="#b23ab2" stroke="#d070d0" stroke-width="0.6" />
<polygon points="649.5,1048.8 652.9,1045.3 654.3,1050.0" fill="#b23ab2" stroke="#d070d0" stroke-width="0.6" />
<polygon points="514.4,1008.7 513.0,1004.4 517.3,1005.3" fill="#b23ab2" stroke="#d070d0" stroke-width="0.6" />
<polygon points="332.0,1053.6 334.9,1049.9 336.6,1054.2" fill="#b23ab2" stroke="#d070d0" stroke-width="0.6" />
<polygon points="338.6,1052.2 336.9,1048.4 341.0,1048.8" fill="#b23ab2" stroke="#d070d0" stroke-width="0.6" />
<polygon points="782.2,1046.5 784.9,1051.1 779.6,1051.2" fill="#b23ab2" stroke="#d070d0" stroke-width="0.6" />
<polygon points="1256.2,1065.4 1259.5,1069.1 1254.6,1070.1" fill="#b23ab2" stroke="#d070d0" stroke-width="0.6" />
<polygon points="175.2,1005.8 174.4,1009.6 171.5,1007.1" fill="#b23ab2" stroke="#d070d0" stroke-width="0.6" />
<polygon points="978.5,1045.5 979.1,1041.3 982.4,1043.9" fill="#b23ab2" stroke="#d070d0" stroke-width="0.6" />
<polygon points="296.1,1046.6 295.2,1041.4 300.2,1043.2" fill="#b23ab2" stroke="#d070d0" stroke-width="0.6" />
<polygon points="153.1,1003.4 151.4,1007.4 148.8,1003.9" fill="#b23ab2" stroke="#d070d0" stroke-width="0.6" />
<polygon points="1082.7,1030.1 1078.8,1029.5 1081.2,1026.4" fill="#b23ab2" stroke="#d070d0" stroke-width="0.6" />
<polygon points="287.8,1055.9 284.0,1058.4 283.7,1053.9" fill="#b23ab2" stroke="#d070d0" stroke-width="0.6" />
<polygon points="1213.2,1055.2 1213.5,1059.7 1209.4,1057.8" fill="#b23ab2" stroke="#d070d0" stroke-width="0.6" />
<polygon points="251.2,999.1 255.4,997.0 255.2,1001.7" fill="#b23ab2" stroke="#d070d0" stroke-width="0.6" />
<polygon points="354.8,1010.2 353.1,1013.6 351.0,1010.4" fill="#b23ab2" stroke="#d070d0" stroke-width="0.6" />
<polygon points="962.8,1071.5 966.0,1067.3 968.1,1072.2" fill="#b23ab2" stroke="#d070d0" stroke-width="0.6" />
<polygon points="994.3,1020.2 994.1,1025.3 989.8,1022.5" fill="#b23ab2" stroke="#d070d0" stroke-width="0.6" />
<polygon points="258.6,989.9 262.8,989.9 260.6,993.5" fill="#b23ab2" stroke="#d070d0" stroke-width="0.6" />
<polygon points="561.1,987.9 562.6,992.8 557.6,991.6" fill="#b23ab2" stroke="#d070d0" stroke-width="0.6" />
<polygon points="661.2,993.0 666.1,991.5 665.0,996.5" fill="#b23ab2" stroke="#d070d0" stroke-width="0.6" />
<polygon points="185.9,1015.7 184.4,1020.2 181.2,1016.6" fill="#b23ab2" stroke="#d070d0" stroke-width="0.6" />
<polygon points="689.7,1046.7 687.5,1043.3 691.6,1043.1" fill="#b23ab2" stroke="#d070d0" stroke-width="0.6" />
<polygon points="1202.9,1021.3 1206.8,1021.5 1204.7,1024.8" fill="#b23ab2" stroke="#d070d0" stroke-width="0.6" />
<polygon points="249.1,1005.7 253.7,1005.7 251.4,1009.6" fill="#b23ab2" stroke="#d070d0" stroke-width="0.6" />
<polygon points="877.7,1051.2 873.2,1051.6 875.0,1047.5" fill="#b23ab2" stroke="#d070d0" stroke-width="0.6" />
<polygon points="980.9,996.1 982.8,992.0 985.4,995.6" fill="#b23ab2" stroke="#d070d0" stroke-width="0.6" />
<polygon points="918.5,1048.7 922.4,1050.4 919.0,1052.9" fill="#b23ab2" stroke="#d070d0" stroke-width="0.6" />
<polygon points="945.3,1028.8 943.5,1032.4 941.3,1029.0" fill="#b23ab2" stroke="#d070d0" stroke-width="0.6" />
<polygon points="832.1,995.1 828.6,997.5 828.3,993.4" fill="#b23ab2" stroke="#d070d0" stroke-width="0.6" />
<polygon points="378.0,1020.7 378.3,1025.8 373.8,1023.5" fill="#b23ab2" stroke="#d070d0" stroke-width="0.6" />
<polygon points="874.1,1054.3 870.3,1054.0 872.4,1050.8" fill="#b23ab2" stroke="#d070d0" stroke-width="0.6" />
<polygon points="1293.0,1058.9 1289.2,1059.7 1290.3,1056.1" fill="#b23ab2" stroke="#d070d0" stroke-width="0.6" />
<polygon points="389.9,1067.0 393.5,1069.2 389.8,1071.1" fill="#b23ab2" stroke="#d070d0" stroke-width="0.6" />
<polygon points="1234.6,1047.3 1232.3,1042.6 1237.6,1043.0" fill="#b23ab2" stroke="#d070d0" stroke-width="0.6" />
<polygon points="286.9,993.3 282.0,992.7 285.0,988.7" fill="#b23ab2" stroke="#d070d0" stroke-width="0.6" />
<polygon points="1288.0,1048.1 1288.7,1052.2 1284.8,1050.7" fill="#b23ab2" stroke="#d070d0" stroke-width="0.6" />
<polygon points="296.6,1031.3 297.8,1035.1 293.9,1034.2" fill="#b23ab2" stroke="#d070d0" stroke-width="0.6" />
<polygon points="1186.4,1066.1 1185.9,1069.9 1182.9,1067.6" fill="#b23ab2" stroke="#d070d0" stroke-width="0.6" />
<polygon points="774.9,1058.0 779.4,1059.0 776.3,1062.4" fill="#b23ab2" stroke="#d070d0" stroke-width="0.6" />
<polygon points="826.3,1058.7 822.4,1059.4 823.7,1055.7" fill="#b23ab2" stroke="#d070d0" stroke-width="0.6" />
<polygon points="766.7,1014.9 762.7,1016.9 762.9,1012.5" fill="#b23ab2" stroke="#d070d0" stroke-width="0.6" />
<polygon points="1009.2,989.3 1009.9,994.4 1005.2,992.5" fill="#b23ab2" stroke="#d070d0" stroke-width="0.6" />
<polygon points="657.9,1003.1 654.4,999.7 659.1,998.4" fill="#b23ab2" stroke="#d070d0" stroke-width="0.6" />
<polygon points="618.8,998.5 624.0,997.3 622.4,1002.4" fill="#b23ab2" stroke="#d070d0" stroke-width="0.6" />
<polygon points="529.8,995.7 529.3,1000.6 525.3,997.7" fill="#b23ab2" stroke="#d070d0" stroke-width="0.6" />
<polygon points="1133.7,1001.0 1132.8,996.7 1137.0,998.1" fill="#b23ab2" stroke="#d070d0" stroke-width="0.6" />
<polygon points="1032.2,1002.2 1028.4,1005.1 1027.8,1000.4" fill="#b23ab2" stroke="#d070d0" stroke-width="0.6" />
<polygon points="1038.9,992.1 1035.1,991.3 1037.7,988.4" fill="#b23ab2" stroke="#d070d0" stroke-width="0.6" />
<polygon points="941.3,1041.6 944.5,1038.3 945.8,1042.7" fill="#b23ab2" stroke="#d070d0" stroke-width="0.6" />
<polygon points="597.6,1040.5 595.3,1044.7 592.8,1040.6" fill="#b23ab2" stroke="#d070d0" stroke-width="0.6" />
<polygon points="994.6,1055.1 994.5,1060.4 990.1,1057.6" fill="#b23ab2" stroke="#d070d0" stroke-width="0.6" />
<polygon points="975.1,990.3 974.6,995.2 970.7,992.3" fill="#b23ab2" stroke="#d070d0" stroke-width="0.6" />
<polygon points="626.0,1063.8 623.5,1067.0 622.0,1063.1" fill="#b23ab2" stroke="#d070d0" stroke-width="0.6" />
<polygon points="636.5,1052.4 635.6,1048.2 639.6,1049.6" fill="#b23ab2" stroke="#d070d0" stroke-width="0.6" />
<polygon points="521.1,1018.4 523.6,1015.3 525.0,1019.0" fill="#b23ab2" stroke="#d070d0" stroke-width="0.6" />
<polygon points="1296.8,1042.6 1299.1,1047.3 1293.9,1046.9" fill="#b23ab2" stroke="#d070d0" stroke-width="0.6" />
<polygon points="1120.0,1077.4 1118.2,1072.7 1123.1,1073.5" fill="#b23ab2" stroke="#d070d0" stroke-width="0.6" />
<polygon points="402.7,1027.3 400.4,1024.2 404.2,1023.7" fill="#b23ab2" stroke="#d070d0" stroke-width="0.6" />
<polygon points="1181.2,1065.8 1182.9,1069.8 1178.6,1069.2" fill="#b23ab2" stroke="#d070d0" stroke-width="0.6" />
<polygon points="1041.9,1065.1 1046.7,1063.4 1045.7,1068.4" fill="#b23ab2" stroke="#d070d0" stroke-width="0.6" />
<polygon points="223.5,1058.4 227.6,1059.5 224.6,1062.6" fill="#b23ab2" stroke="#d070d0" stroke-width="0.6" />
<polygon points="547.6,1038.3 542.9,1035.8 547.4,1033.0" fill="#b23ab2" stroke="#d070d0" stroke-width="0.6" />
<polygon points="748.8,1044.2 746.0,1047.9 744.2,1043.6" fill="#b23ab2" stroke="#d070d0" stroke-width="0.6" />
<polygon points="598.1,1067.1 594.5,1070.4 593.5,1065.6" fill="#b23ab2" stroke="#d070d0" stroke-width="0.6" />
<polygon points="208.7,1006.7 206.8,1010.5 204.4,1007.0" fill="#b23ab2" stroke="#d070d0" stroke-width="0.6" />
<polygon points="116.5,1011.9 112.4,1014.7 112.1,1009.8" fill="#b23ab2" stroke="#d070d0" stroke-width="0.6" />
<polygon points="311.6,1024.6 315.4,1027.6 310.8,1029.4" fill="#b23ab2" stroke="#d070d0" stroke-width="0.6" />
<polygon points="1009.3,1056.4 1007.3,1052.7 1011.5,1052.9" fill="#b23ab2" stroke="#d070d0" stroke-width="0.6" />
<polygon points="130.7,1051.1 128.9,1047.4 133.0,1047.7" fill="#b23ab2" stroke="#d070d0" stroke-width="0.6" />
<polygon points="1274.8,1042.4 1279.1,1044.5 1275.2,1047.1" fill="#b23ab2" stroke="#d070d0" stroke-width="0.6" />
<polygon points="830.5,1050.0 826.2,1050.6 827.9,1046.6" fill="#b23ab2" stroke="#d070d0" stroke-width="0.6" />
<polygon points="180.4,993.2 176.3,991.6 179.7,988.9" fill="#b23ab2" stroke="#d070d0" stroke-width="0.6" />
<polygon points="233.8,1029.1 238.1,1032.4 233.2,1034.4" fill="#b23ab2" stroke="#d070d0" stroke-width="0.6" />
<polygon points="433.3,1056.8 429.3,1056.4 431.7,1053.1" fill="#b23ab2" stroke="#d070d0" stroke-width="0.6" />
<polygon points="465.1,1025.7 468.3,1022.0 469.9,1026.6" fill="#b23ab2" stroke="#d070d0" stroke-width="0.6" />
<polygon points="986.1,1000.6 986.4,995.4 990.8,998.2" fill="#b23ab2" stroke="#d070d0" stroke-width="0.6" />
<polygon points="1115.3,995.5 1112.1,991.5 1117.2,990.8" fill="#b23ab2" stroke="#d070d0" stroke-width="0.6" />
<polygon points="1142.2,1061.0 1140.5,1056.4 1145.3,1057.3" fill="#b23ab2" stroke="#d070d0" stroke-width="0.6" />
<polygon points="110.6,1008.7 106.0,1006.3 110.4,1003.5" fill="#b23ab2" stroke="#d070d0" stroke-width="0.6" />
<polygon points="904.4,1042.4 900.5,1039.7 904.9,1037.6" fill="#b23ab2" stroke="#d070d0" stroke-width="0.6" />
<polygon points="270.4,1000.3 272.0,995.2 275.6,999.2" fill="#b23ab2" stroke="#d070d0" stroke-width="0.6" />
<polygon points="896.9,1039.4 892.7,1039.9 894.4,1036.0" fill="#b23ab2" stroke="#d070d0" stroke-width="0.6" />
<polygon points="117.4,1061.9 114.5,1064.7 113.5,1060.8" fill="#b23ab2" stroke="#d070d0" stroke-width="0.6" />
<polygon points="542.3,1049.2 543.4,1053.0 539.5,1052.1" fill="#b23ab2" stroke="#d070d0" stroke-width="0.6" />
<polygon points="406.8,1022.9 402.3,1022.0 405.2,1018.5" fill="#b23ab2" stroke="#d070d0" stroke-width="0.6" />
<polygon points="398.9,1059.3 400.1,1055.3 403.0,1058.4" fill="#b23ab2" stroke="#d070d0" stroke-width="0.6" />
<polygon points="1032.8,1011.4 1030.1,1008.3 1034.1,1007.5" fill="#b23ab2" stroke="#d070d0" stroke-width="0.6" />
<polygon points="564.1,1021.5 567.8,1018.4 568.6,1023.2" fill="#b23ab2" stroke="#d070d0" stroke-width="0.6" />
<polygon points="1162.0,991.9 1162.0,996.7 1157.8,994.3" fill="#b23ab2" stroke="#d070d0" stroke-width="0.6" />
<polygon points="386.1,994.2 381.7,993.3 384.7,990.0" fill="#b23ab2" stroke="#d070d0" stroke-width="0.6" />
<polygon points="661.2,1052.0 657.3,1051.2 660.0,1048.2" fill="#b23ab2" stroke="#d070d0" stroke-width="0.6" />
<polygon points="681.2,1005.7 683.8,1002.4 685.3,1006.3" fill="#b23ab2" stroke="#d070d0" stroke-width="0.6" />
<polygon points="239.2,996.3 242.5,993.4 243.4,997.7" fill="#b23ab2" stroke="#d070d0" stroke-width="0.6" />
<polygon points="1242.8,1039.4 1240.3,1036.4 1244.2,1035.7" fill="#b23ab2" stroke="#d070d0" stroke-width="0.6" />
<polygon points="1010.1,1037.1 1006.3,1040.7 1005.1,1035.7" fill="#b23ab2" stroke="#d070d0" stroke-width="0.6" />
<polygon points="1143.2,998.9 1148.2,997.0 1147.3,1002.2" fill="#b23ab2" stroke="#d070d0" stroke-width="0.6" />
<polygon points="390.9,1007.4 387.3,1003.7 392.4,1002.5" fill="#b23ab2" stroke="#d070d0" stroke-width="0.6" />
<polygon points="195.7,1013.3 199.4,1009.6 200.7,1014.7" fill="#b23ab2" stroke="#d070d0" stroke-width="0.6" />
<polygon points="990.3,998.7 989.9,994.2 994.0,996.1" fill="#b23ab2" stroke="#d070d0" stroke-width="0.6" />
<polygon points="350.0,1048.1 345.7,1047.1 348.7,1043.9" fill="#b23ab2" stroke="#d070d0" stroke-width="0.6" />
<polygon points="1303.0,1031.1 1299.3,1032.9 1299.6,1028.8" fill="#b23ab2" stroke="#d070d0" stroke-width="0.6" />
<polygon points="893.4,1034.2 896.3,1031.6 897.0,1035.4" fill="#b23ab2" stroke="#d070d0" stroke-width="0.6" />
<polygon points="1000.2,1035.7 1003.8,1033.6 1003.8,1037.7" fill="#b23ab2" stroke="#d070d0" stroke-width="0.6" />
<polygon points="837.6,1043.1 838.4,1047.1 834.5,1045.8" fill="#b23ab2" stroke="#d070d0" stroke-width="0.6" />
<polygon points="1251.4,1055.1 1252.5,1050.1 1256.3,1053.6" fill="#b23ab2" stroke="#d070d0" stroke-width="0.6" />
<polygon points="1199.1,1004.1 1203.2,1004.4 1200.8,1007.8" fill="#b23ab2" stroke="#d070d0" stroke-width="0.6" />
<line x1="1199.6" y1="997.0" x2="1203.5" y2="1000.1" stroke="#b23ab2" stroke-width="1.2" />
<line x1="140.9" y1="1027.3" x2="145.4" y2="1029.5" stroke="#b23ab2" stroke-width="1.2" />
<line x1="331.2" y1="1053.7" x2="330.0" y2="1058.5" stroke="#b23ab2" stroke-width="1.2" />
<line x1="1245.9" y1="1024.2" x2="1243.3" y2="1028.4" stroke="#b23ab2" stroke-width="1.2" />
<line x1="112.4" y1="1070.6" x2="116.1" y2="1074.0" stroke="#b23ab2" stroke-width="1.2" />
<line x1="680.4" y1="1033.5" x2="675.5" y2="1034.3" stroke="#b23ab2" stroke-width="1.2" />
<line x1="698.8" y1="1074.3" x2="697.0" y2="1079.0" stroke="#b23ab2" stroke-width="1.2" />
<line x1="361.6" y1="1060.9" x2="365.7" y2="1063.8" stroke="#b23ab2" stroke-width="1.2" />
<line x1="1319.5" y1="1028.8" x2="1323.3" y2="1032.1" stroke="#b23ab2" stroke-width="1.2" />
<line x1="1272.6" y1="1017.4" x2="1274.0" y2="1022.1" stroke="#b23ab2" stroke-width="1.2" />
<line x1="516.7" y1="1046.8" x2="521.7" y2="1047.2" stroke="#b23ab2" stroke-width="1.2" />
<line x1="554.3" y1="1003.8" x2="550.1" y2="1006.4" stroke="#b23ab2" stroke-width="1.2" />
<line x1="97.2" y1="1041.6" x2="100.6" y2="1045.3" stroke="#b23ab2" stroke-width="1.2" />
<line x1="652.4" y1="1037.8" x2="649.4" y2="1041.7" stroke="#b23ab2" stroke-width="1.2" />
<line x1="265.4" y1="1010.4" x2="270.0" y2="1012.3" stroke="#b23ab2" stroke-width="1.2" />
<line x1="1271.4" y1="1002.7" x2="1275.9" y2="1004.8" stroke="#b23ab2" stroke-width="1.2" />
<line x1="735.7" y1="1039.4" x2="731.0" y2="1041.2" stroke="#b23ab2" stroke-width="1.2" />
<line x1="166.6" y1="1009.9" x2="170.9" y2="1012.4" stroke="#b23ab2" stroke-width="1.2" />
<line x1="813.2" y1="1028.5" x2="814.6" y2="1033.3" stroke="#b23ab2" stroke-width="1.2" />
<line x1="1183.5" y1="1046.2" x2="1179.0" y2="1048.4" stroke="#b23ab2" stroke-width="1.2" />
<line x1="1267.3" y1="1012.9" x2="1262.4" y2="1013.8" stroke="#b23ab2" stroke-width="1.2" />
<line x1="595.7" y1="994.4" x2="590.9" y2="995.7" stroke="#b23ab2" stroke-width="1.2" />
<line x1="224.3" y1="991.5" x2="227.4" y2="995.4" stroke="#b23ab2" stroke-width="1.2" />
<line x1="450.4" y1="1072.2" x2="445.8" y2="1074.2" stroke="#b23ab2" stroke-width="1.2" />
<line x1="610.8" y1="1035.0" x2="606.3" y2="1037.3" stroke="#b23ab2" stroke-width="1.2" />
<line x1="1084.0" y1="1045.5" x2="1083.8" y2="1050.5" stroke="#b23ab2" stroke-width="1.2" />
<line x1="239.6" y1="1010.7" x2="237.2" y2="1015.1" stroke="#b23ab2" stroke-width="1.2" />
<line x1="814.0" y1="1058.1" x2="809.3" y2="1059.7" stroke="#b23ab2" stroke-width="1.2" />
<line x1="1274.0" y1="1006.4" x2="1278.8" y2="1007.6" stroke="#b23ab2" stroke-width="1.2" />
<line x1="1194.7" y1="1038.5" x2="1198.9" y2="1041.2" stroke="#b23ab2" stroke-width="1.2" />
<line x1="943.4" y1="1011.7" x2="947.1" y2="1015.1" stroke="#b23ab2" stroke-width="1.2" />
<line x1="544.9" y1="1034.5" x2="542.3" y2="1038.8" stroke="#b23ab2" stroke-width="1.2" />
<line x1="186.8" y1="1053.0" x2="184.9" y2="1057.6" stroke="#b23ab2" stroke-width="1.2" />
<line x1="673.9" y1="1047.1" x2="669.8" y2="1050.1" stroke="#b23ab2" stroke-width="1.2" />
<line x1="108.8" y1="1030.4" x2="106.1" y2="1034.6" stroke="#b23ab2" stroke-width="1.2" />
<line x1="964.3" y1="1045.0" x2="968.5" y2="1047.7" stroke="#b23ab2" stroke-width="1.2" />
<line x1="1269.2" y1="1056.8" x2="1273.0" y2="1060.1" stroke="#b23ab2" stroke-width="1.2" />
<line x1="623.7" y1="1071.4" x2="627.7" y2="1074.4" stroke="#b23ab2" stroke-width="1.2" />
<line x1="597.4" y1="1071.7" x2="592.6" y2="1073.3" stroke="#b23ab2" stroke-width="1.2" />
<line x1="381.3" y1="1052.5" x2="383.5" y2="1057.0" stroke="#b23ab2" stroke-width="1.2" />
<line x1="908.3" y1="1055.2" x2="912.9" y2="1057.1" stroke="#b23ab2" stroke-width="1.2" />
<line x1="369.2" y1="1008.3" x2="372.6" y2="1012.0" stroke="#b23ab2" stroke-width="1.2" />
<line x1="140.6" y1="1001.6" x2="142.1" y2="1006.3" stroke="#b23ab2" stroke-width="1.2" />
<line x1="611.6" y1="996.6" x2="610.3" y2="1001.4" stroke="#b23ab2" stroke-width="1.2" />
<line x1="1249.5" y1="1039.0" x2="1251.7" y2="1043.5" stroke="#b23ab2" stroke-width="1.2" />
<line x1="958.5" y1="1027.2" x2="962.8" y2="1029.8" stroke="#b23ab2" stroke-width="1.2" />
<line x1="686.1" y1="991.5" x2="683.5" y2="995.8" stroke="#b23ab2" stroke-width="1.2" />
<line x1="293.8" y1="1021.4" x2="288.9" y2="1022.0" stroke="#b23ab2" stroke-width="1.2" />
<line x1="1034.8" y1="1061.0" x2="1032.6" y2="1065.5" stroke="#b23ab2" stroke-width="1.2" />
<line x1="873.1" y1="1049.9" x2="868.1" y2="1050.5" stroke="#b23ab2" stroke-width="1.2" />
<line x1="337.1" y1="1055.1" x2="340.0" y2="1059.2" stroke="#b23ab2" stroke-width="1.2" />
<line x1="409.8" y1="1059.8" x2="408.2" y2="1064.6" stroke="#b23ab2" stroke-width="1.2" />
<line x1="1136.1" y1="1064.4" x2="1134.8" y2="1069.2" stroke="#b23ab2" stroke-width="1.2" />
<line x1="339.5" y1="991.3" x2="339.0" y2="996.2" stroke="#b23ab2" stroke-width="1.2" />
<line x1="984.4" y1="1013.2" x2="989.3" y2="1014.2" stroke="#b23ab2" stroke-width="1.2" />
<line x1="102.8" y1="1004.7" x2="99.9" y2="1008.8" stroke="#b23ab2" stroke-width="1.2" />
<line x1="101.8" y1="1009.5" x2="105.2" y2="1013.2" stroke="#b23ab2" stroke-width="1.2" />
<line x1="966.7" y1="1073.9" x2="971.7" y2="1074.2" stroke="#b23ab2" stroke-width="1.2" />
<line x1="236.7" y1="1069.4" x2="231.7" y2="1069.9" stroke="#b23ab2" stroke-width="1.2" />
<line x1="278.8" y1="1018.5" x2="278.4" y2="1023.5" stroke="#b23ab2" stroke-width="1.2" />
<line x1="488.6" y1="1025.5" x2="488.9" y2="1030.5" stroke="#b23ab2" stroke-width="1.2" />
<line x1="413.2" y1="994.7" x2="418.0" y2="996.0" stroke="#b23ab2" stroke-width="1.2" />
<line x1="295.7" y1="997.8" x2="293.8" y2="1002.4" stroke="#b23ab2" stroke-width="1.2" />
<line x1="949.0" y1="1012.4" x2="945.0" y2="1015.4" stroke="#b23ab2" stroke-width="1.2" />
<line x1="988.3" y1="1019.0" x2="988.4" y2="1024.0" stroke="#b23ab2" stroke-width="1.2" />
<line x1="327.4" y1="1069.0" x2="326.5" y2="1073.9" stroke="#b23ab2" stroke-width="1.2" />
<line x1="159.7" y1="1003.1" x2="156.8" y2="1007.2" stroke="#b23ab2" stroke-width="1.2" />
<line x1="568.1" y1="1050.9" x2="571.9" y2="1054.2" stroke="#b23ab2" stroke-width="1.2" />
<line x1="1071.9" y1="1058.2" x2="1076.7" y2="1059.6" stroke="#b23ab2" stroke-width="1.2" />
<line x1="813.9" y1="1006.3" x2="810.9" y2="1010.2" stroke="#b23ab2" stroke-width="1.2" />
<path d="M94.5 937 L94.5 1015.6 L131.2 1023.3 L61.8 1032.3 L94.5 1040 L94.5 1099" stroke="#d23cd2" stroke-width="1.6" fill="none"/>
<path d="M1322 929.5 L1322 1015.6 L1358 1023 L1288.5 1032 L1322 1038.7 L1322 1099" stroke="#d23cd2" stroke-width="1.6" fill="none"/>
<text x="917.0" y="942.4" font-size="22" fill="#7a7a7a" text-anchor="start" font-weight="normal" textLength="173.7" lengthAdjust="spacingAndGlyphs" font-family="'Liberation Sans', sans-serif" >ground floor level</text>
<text x="780.0" y="972.0" font-size="7" fill="#999" text-anchor="start" font-weight="normal" textLength="40" lengthAdjust="spacingAndGlyphs" font-family="'Liberation Sans', sans-serif" >floor finish</text>
<text x="780.0" y="1041.0" font-size="7" fill="#d23cd2" text-anchor="start" font-weight="normal" textLength="42" lengthAdjust="spacingAndGlyphs" font-family="'Liberation Sans', sans-serif" >foundation</text>
<line x1="142.7" y1="298.0" x2="142.7" y2="951.4" stroke="#e23a3a" stroke-width="1.5" />
<line x1="142.7" y1="951.2" x2="198.0" y2="951.2" stroke="#5cd85c" stroke-width="1.5" />
<rect x="134.8" y="612.4" width="6.2" height="22.4" fill="#000" />
<line x1="360.0" y1="304.3" x2="905.0" y2="631.3" stroke="#e87a9a" stroke-width="2.2" />
<line x1="360.0" y1="303.8" x2="905.0" y2="630.8" stroke="#5a1a1a" stroke-width="1.0" stroke-dasharray="2 1.5"/>
<line x1="347.0" y1="349.8" x2="856.0" y2="655.2" stroke="#e05a6a" stroke-width="1.0" />
<line x1="347.0" y1="351.8" x2="856.0" y2="657.2" stroke="#7a2a2a" stroke-width="2.4" />
<line x1="347.0" y1="351.8" x2="856.0" y2="657.2" stroke="#e8a0a0" stroke-width="0.8" stroke-dasharray="1.5 2"/>
<line x1="352" y1="326.5" x2="898" y2="654.1" stroke="#777" stroke-width="1.2" stroke-dasharray="12 8"/>
<line x1="360.0" y1="304.5" x2="347.0" y2="351.5" stroke="#333" stroke-width="1.0" />
<line x1="726.6" y1="527.6" x2="705.0" y2="565.0" stroke="#e23a3a" stroke-width="1.2" />
<polygon points="712.7,538.5 719.0,544.8 712.7,551.0 706.4,544.8" fill="#000" stroke="none" stroke-width="1" />
<line x1="905.0" y1="632.0" x2="898.0" y2="655.0" stroke="#333" stroke-width="1.0" />
<line x1="898" y1="655.2" x2="1000" y2="655.2" stroke="#777" stroke-width="1.2" stroke-dasharray="12 8"/>
<line x1="1010" y1="655.2" x2="1095" y2="655.2" stroke="#777" stroke-width="1.2" stroke-dasharray="12 8"/>
<line x1="428.0" y1="951.0" x2="958.0" y2="633.0" stroke="#e87a9a" stroke-width="2.2" />
<line x1="428.0" y1="950.5" x2="958.0" y2="632.5" stroke="#5a1a1a" stroke-width="1.0" stroke-dasharray="2 1.5"/>
<line x1="472.0" y1="977.3" x2="972.0" y2="677.3" stroke="#e05a6a" stroke-width="1.0" />
<line x1="472.0" y1="979.3" x2="972.0" y2="679.3" stroke="#7a2a2a" stroke-width="2.4" />
<line x1="472.0" y1="979.3" x2="972.0" y2="679.3" stroke="#e8a0a0" stroke-width="0.8" stroke-dasharray="1.5 2"/>
<line x1="470" y1="952.8" x2="960" y2="658.8" stroke="#777" stroke-width="1.2" stroke-dasharray="12 8"/>
<line x1="958.0" y1="633.0" x2="972.0" y2="679.0" stroke="#333" stroke-width="1.0" />
<polygon points="414.5,337.0 469.5,337.0 454.5,361.0" fill="url(#wedge)" stroke="#10105a" stroke-width="0.9" />
<rect x="414.5" y="330.0" width="55.0" height="7.2" fill="#a85a1c" />
<line x1="432.8" y1="330.0" x2="432.8" y2="337.2" stroke="#b4773f" stroke-width="0.5" />
<line x1="451.2" y1="330.0" x2="451.2" y2="337.2" stroke="#b4773f" stroke-width="0.5" />
<polygon points="469.0,369.7 524.0,369.7 509.0,393.7" fill="url(#wedge)" stroke="#10105a" stroke-width="0.9" />
<rect x="469.0" y="362.7" width="55.0" height="7.2" fill="#a85a1c" />
<line x1="487.3" y1="362.7" x2="487.3" y2="369.9" stroke="#b4773f" stroke-width="0.5" />
<line x1="505.7" y1="362.7" x2="505.7" y2="369.9" stroke="#b4773f" stroke-width="0.5" />
<polygon points="523.5,402.4 578.5,402.4 563.5,426.4" fill="url(#wedge)" stroke="#10105a" stroke-width="0.9" />
<rect x="523.5" y="395.4" width="55.0" height="7.2" fill="#a85a1c" />
<line x1="541.8" y1="395.4" x2="541.8" y2="402.6" stroke="#b4773f" stroke-width="0.5" />
<line x1="560.2" y1="395.4" x2="560.2" y2="402.6" stroke="#b4773f" stroke-width="0.5" />
<polygon points="578.0,435.1 633.0,435.1 618.0,459.1" fill="url(#wedge)" stroke="#10105a" stroke-width="0.9" />
<rect x="578.0" y="428.1" width="55.0" height="7.2" fill="#a85a1c" />
<line x1="596.3" y1="428.1" x2="596.3" y2="435.3" stroke="#b4773f" stroke-width="0.5" />
<line x1="614.7" y1="428.1" x2="614.7" y2="435.3" stroke="#b4773f" stroke-width="0.5" />
<polygon points="632.5,467.8 687.5,467.8 672.5,491.8" fill="url(#wedge)" stroke="#10105a" stroke-width="0.9" />
<rect x="632.5" y="460.8" width="55.0" height="7.2" fill="#a85a1c" />
<line x1="650.8" y1="460.8" x2="650.8" y2="468.0" stroke="#b4773f" stroke-width="0.5" />
<line x1="669.2" y1="460.8" x2="669.2" y2="468.0" stroke="#b4773f" stroke-width="0.5" />
<polygon points="687.0,500.5 742.0,500.5 727.0,524.5" fill="url(#wedge)" stroke="#10105a" stroke-width="0.9" />
<rect x="687.0" y="493.5" width="55.0" height="7.2" fill="#a85a1c" />
<line x1="705.3" y1="493.5" x2="705.3" y2="500.7" stroke="#b4773f" stroke-width="0.5" />
<line x1="723.7" y1="493.5" x2="723.7" y2="500.7" stroke="#b4773f" stroke-width="0.5" />
<polygon points="741.5,533.2 796.5,533.2 781.5,557.2" fill="url(#wedge)" stroke="#10105a" stroke-width="0.9" />
<rect x="741.5" y="526.2" width="55.0" height="7.2" fill="#a85a1c" />
<line x1="759.8" y1="526.2" x2="759.8" y2="533.4" stroke="#b4773f" stroke-width="0.5" />
<line x1="778.2" y1="526.2" x2="778.2" y2="533.4" stroke="#b4773f" stroke-width="0.5" />
<polygon points="796.0,565.9 851.0,565.9 836.0,589.9" fill="url(#wedge)" stroke="#10105a" stroke-width="0.9" />
<rect x="796.0" y="558.9" width="55.0" height="7.2" fill="#a85a1c" />
<line x1="814.3" y1="558.9" x2="814.3" y2="566.1" stroke="#b4773f" stroke-width="0.5" />
<line x1="832.7" y1="558.9" x2="832.7" y2="566.1" stroke="#b4773f" stroke-width="0.5" />
<polygon points="850.5,598.6 905.5,598.6 890.5,622.6" fill="url(#wedge)" stroke="#10105a" stroke-width="0.9" />
<rect x="850.5" y="591.6" width="55.0" height="7.2" fill="#a85a1c" />
<line x1="868.8" y1="591.6" x2="868.8" y2="598.8" stroke="#b4773f" stroke-width="0.5" />
<line x1="887.2" y1="591.6" x2="887.2" y2="598.8" stroke="#b4773f" stroke-width="0.5" />
<polygon points="414.5,925.0 469.5,925.0 429.5,949.0" fill="url(#wedge)" stroke="#10105a" stroke-width="0.9" />
<rect x="414.5" y="918.0" width="55.0" height="7.2" fill="#a85a1c" />
<line x1="432.8" y1="918.0" x2="432.8" y2="925.2" stroke="#b4773f" stroke-width="0.5" />
<line x1="451.2" y1="918.0" x2="451.2" y2="925.2" stroke="#b4773f" stroke-width="0.5" />
<polygon points="469.0,892.3 524.0,892.3 484.0,916.3" fill="url(#wedge)" stroke="#10105a" stroke-width="0.9" />
<rect x="469.0" y="885.3" width="55.0" height="7.2" fill="#a85a1c" />
<line x1="487.3" y1="885.3" x2="487.3" y2="892.5" stroke="#b4773f" stroke-width="0.5" />
<line x1="505.7" y1="885.3" x2="505.7" y2="892.5" stroke="#b4773f" stroke-width="0.5" />
<polygon points="523.5,859.6 578.5,859.6 538.5,883.6" fill="url(#wedge)" stroke="#10105a" stroke-width="0.9" />
<rect x="523.5" y="852.6" width="55.0" height="7.2" fill="#a85a1c" />
<line x1="541.8" y1="852.6" x2="541.8" y2="859.8" stroke="#b4773f" stroke-width="0.5" />
<line x1="560.2" y1="852.6" x2="560.2" y2="859.8" stroke="#b4773f" stroke-width="0.5" />
<polygon points="578.0,826.9 633.0,826.9 593.0,850.9" fill="url(#wedge)" stroke="#10105a" stroke-width="0.9" />
<rect x="578.0" y="819.9" width="55.0" height="7.2" fill="#a85a1c" />
<line x1="596.3" y1="819.9" x2="596.3" y2="827.1" stroke="#b4773f" stroke-width="0.5" />
<line x1="614.7" y1="819.9" x2="614.7" y2="827.1" stroke="#b4773f" stroke-width="0.5" />
<polygon points="632.5,794.2 687.5,794.2 647.5,818.2" fill="url(#wedge)" stroke="#10105a" stroke-width="0.9" />
<rect x="632.5" y="787.2" width="55.0" height="7.2" fill="#a85a1c" />
<line x1="650.8" y1="787.2" x2="650.8" y2="794.4" stroke="#b4773f" stroke-width="0.5" />
<line x1="669.2" y1="787.2" x2="669.2" y2="794.4" stroke="#b4773f" stroke-width="0.5" />
<polygon points="687.0,761.5 742.0,761.5 702.0,785.5" fill="url(#wedge)" stroke="#10105a" stroke-width="0.9" />
<rect x="687.0" y="754.5" width="55.0" height="7.2" fill="#a85a1c" />
<line x1="705.3" y1="754.5" x2="705.3" y2="761.7" stroke="#b4773f" stroke-width="0.5" />
<line x1="723.7" y1="754.5" x2="723.7" y2="761.7" stroke="#b4773f" stroke-width="0.5" />
<polygon points="741.5,728.8 796.5,728.8 756.5,752.8" fill="url(#wedge)" stroke="#10105a" stroke-width="0.9" />
<rect x="741.5" y="721.8" width="55.0" height="7.2" fill="#a85a1c" />
<line x1="759.8" y1="721.8" x2="759.8" y2="729.0" stroke="#b4773f" stroke-width="0.5" />
<line x1="778.2" y1="721.8" x2="778.2" y2="729.0" stroke="#b4773f" stroke-width="0.5" />
<polygon points="796.0,696.1 851.0,696.1 811.0,720.1" fill="url(#wedge)" stroke="#10105a" stroke-width="0.9" />
<rect x="796.0" y="689.1" width="55.0" height="7.2" fill="#a85a1c" />
<line x1="814.3" y1="689.1" x2="814.3" y2="696.3" stroke="#b4773f" stroke-width="0.5" />
<line x1="832.7" y1="689.1" x2="832.7" y2="696.3" stroke="#b4773f" stroke-width="0.5" />
<polygon points="850.5,663.4 905.5,663.4 865.5,687.4" fill="url(#wedge)" stroke="#10105a" stroke-width="0.9" />
<rect x="850.5" y="656.4" width="55.0" height="7.2" fill="#a85a1c" />
<line x1="868.8" y1="656.4" x2="868.8" y2="663.6" stroke="#b4773f" stroke-width="0.5" />
<line x1="887.2" y1="656.4" x2="887.2" y2="663.6" stroke="#b4773f" stroke-width="0.5" />
<polygon points="360.0,304.5 415.0,304.5 400.5,328.5" fill="url(#wedge)" stroke="#10105a" stroke-width="0.9" />
<rect x="211.0" y="297.5" width="204.0" height="7.2" fill="#a85a1c" />
<polygon points="905.0,632.0 958.0,632.0 919.0,655.5" fill="url(#wedge)" stroke="#10105a" stroke-width="0.9" />
<rect x="904.7" y="624.3" width="199.5" height="8.6" fill="#a85a1c" />
<line x1="905.0" y1="632.0" x2="898.0" y2="655.0" stroke="#333" stroke-width="1.0" />
<text x="388.0" y="295.0" font-size="21.5" fill="#7a7a7a" text-anchor="start" font-weight="normal" textLength="23.5" lengthAdjust="spacingAndGlyphs" font-family="'Liberation Sans', sans-serif" >20</text>
<text x="881.0" y="587.7" font-size="21.5" fill="#7a7a7a" text-anchor="start" font-weight="normal" textLength="21.6" lengthAdjust="spacingAndGlyphs" font-family="'Liberation Sans', sans-serif" >11</text>
<text x="968.0" y="621.0" font-size="21.5" fill="#7a7a7a" text-anchor="start" font-weight="normal" textLength="21.5" lengthAdjust="spacingAndGlyphs" font-family="'Liberation Sans', sans-serif" >10</text>
<text x="414.0" y="915.0" font-size="21.5" fill="#7a7a7a" text-anchor="start" font-weight="normal" textLength="9" lengthAdjust="spacingAndGlyphs" font-family="'Liberation Sans', sans-serif" >1</text>
<text x="0.0" y="0.0" font-size="21.5" fill="#7a7a7a" text-anchor="start" font-weight="normal" textLength="226" lengthAdjust="spacing" font-family="'Liberation Sans', sans-serif" transform="translate(493,468.5) rotate(31.2)">steel stringer UPN260</text>
<text x="0.0" y="0.0" font-size="21.5" fill="#7a7a7a" text-anchor="start" font-weight="normal" textLength="222" lengthAdjust="spacing" font-family="'Liberation Sans', sans-serif" transform="translate(675,886) rotate(-31.2)">steel stringer UPN260</text>
<line x1="216.5" y1="305.2" x2="360.0" y2="305.2" stroke="#8a1c1c" stroke-width="1.4" />
<line x1="216.5" y1="306.8" x2="360.0" y2="306.8" stroke="#f09090" stroke-width="1.2" />
<line x1="216.5" y1="351.6" x2="347.0" y2="351.6" stroke="#6a1c1c" stroke-width="2.2" />
<rect x="210.6" y="304.3" width="6.0" height="56.0" fill="#f6c0c0" />
<line x1="211.3" y1="304.3" x2="211.3" y2="360.0" stroke="#e23a3a" stroke-width="1.0" />
<line x1="213.9" y1="304.3" x2="213.9" y2="360.0" stroke="#e23a3a" stroke-width="0.9" />
<line x1="216.4" y1="304.3" x2="216.4" y2="360.0" stroke="#e23a3a" stroke-width="1.0" />
<line x1="218" y1="328.5" x2="352" y2="328.5" stroke="#777" stroke-width="1.2" stroke-dasharray="12 8"/>
<rect x="184.0" y="304.0" width="27.0" height="3.5" fill="#6a1c1c" />
<rect x="184.0" y="357.0" width="27.0" height="3.5" fill="#6a1c1c" />
<line x1="198.0" y1="306.0" x2="198.0" y2="357.0" stroke="#111" stroke-width="1.4" />
<path d="M210.5 316.5 L208 316.5 Q206.3 319.5 208 322.5 L210.5 322.5 Z" fill="#1a1a1a"/>
<path d="M216.6 316.5 L219 316.5 Q220.8 319.5 219 322.5 L216.6 322.5 Z" fill="#1a1a1a"/>
<circle cx="208.9" cy="319.5" r="0.9" fill="#fff"/><circle cx="218.3" cy="319.5" r="0.9" fill="#fff"/>
<path d="M210.5 329.3 L208 329.3 Q206.3 332.3 208 335.3 L210.5 335.3 Z" fill="#1a1a1a"/>
<path d="M216.6 329.3 L219 329.3 Q220.8 332.3 219 335.3 L216.6 335.3 Z" fill="#1a1a1a"/>
<circle cx="208.9" cy="332.3" r="0.9" fill="#fff"/><circle cx="218.3" cy="332.3" r="0.9" fill="#fff"/>
<path d="M210.5 343.1 L208 343.1 Q206.3 346.1 208 349.1 L210.5 349.1 Z" fill="#1a1a1a"/>
<path d="M216.6 343.1 L219 343.1 Q220.8 346.1 219 349.1 L216.6 349.1 Z" fill="#1a1a1a"/>
<circle cx="208.9" cy="346.1" r="0.9" fill="#fff"/><circle cx="218.3" cy="346.1" r="0.9" fill="#fff"/>
<text x="59.0" y="281.0" font-size="11.5" fill="#8c8c8c" text-anchor="start" font-weight="normal" textLength="108" lengthAdjust="spacingAndGlyphs" font-family="'Liberation Sans', sans-serif" >main support beam</text>
<polyline points="59.6,283.0 168.3,283.0 185.0,304.5" fill="none" stroke="#e23a3a" stroke-width="1.1" />
<line x1="142.7" y1="298.8" x2="210.5" y2="298.8" stroke="#5cd85c" stroke-width="1.5" />
<text x="188.8" y="395.0" font-size="11.5" fill="#8c8c8c" text-anchor="start" font-weight="normal" textLength="126" lengthAdjust="spacingAndGlyphs" font-family="'Liberation Sans', sans-serif" >connection with FPBW</text>
<text x="179.9" y="410.5" font-size="11.5" fill="#8c8c8c" text-anchor="start" font-weight="normal" textLength="137.4" lengthAdjust="spacingAndGlyphs" font-family="'Liberation Sans', sans-serif" >full penetration butt weld</text>
<polyline points="210.7,397.2 318.6,397.2 349.4,341.2" fill="none" stroke="#e23a3a" stroke-width="1.1" />
<line x1="958.0" y1="633.0" x2="1100.0" y2="633.0" stroke="#e23a3a" stroke-width="1.3" />
<line x1="972.0" y1="678.5" x2="1100.0" y2="678.5" stroke="#6a1c1c" stroke-width="2.0" />
<line x1="972.0" y1="675.8" x2="1100.0" y2="675.8" stroke="#e23a3a" stroke-width="1.0" />
<line x1="1011.0" y1="633.0" x2="1011.0" y2="680.0" stroke="#e23a3a" stroke-width="1.2" />
<rect x="1003.4" y="651.0" width="6.4" height="7.5" fill="#000" />
<line x1="1100.0" y1="633.0" x2="1100.0" y2="685.3" stroke="#e23a3a" stroke-width="1.3" />
<line x1="1103.3" y1="633.0" x2="1103.3" y2="685.3" stroke="#e23a3a" stroke-width="1.3" />
<rect x="1103.0" y="631.3" width="27.0" height="2.8" fill="#111" />
<rect x="1103.0" y="684.0" width="27.0" height="2.8" fill="#111" />
<line x1="1117.0" y1="633.0" x2="1117.0" y2="684.0" stroke="#111" stroke-width="1.5" />
<rect x="1095" y="638.8" width="4" height="5" fill="none" stroke="#222" stroke-width="1.1"/>
<rect x="1104.5" y="638.8" width="4" height="5" fill="none" stroke="#222" stroke-width="1.1"/>
<rect x="1095" y="652.7" width="4" height="5" fill="none" stroke="#222" stroke-width="1.1"/>
<rect x="1104.5" y="652.7" width="4" height="5" fill="none" stroke="#222" stroke-width="1.1"/>
<rect x="1095" y="666.7" width="4" height="5" fill="none" stroke="#222" stroke-width="1.1"/>
<rect x="1104.5" y="666.7" width="4" height="5" fill="none" stroke="#222" stroke-width="1.1"/>
<circle cx="1105.3" cy="656.3" r="47.2" fill="none" stroke="#888" stroke-width="1.1"/>
<text x="999.0" y="719.0" font-size="11.5" fill="#8c8c8c" text-anchor="start" font-weight="normal" textLength="127.8" lengthAdjust="spacingAndGlyphs" font-family="'Liberation Sans', sans-serif" >connection with FPBW</text>
<text x="999.0" y="735.0" font-size="11.5" fill="#8c8c8c" text-anchor="start" font-weight="normal" textLength="137.4" lengthAdjust="spacingAndGlyphs" font-family="'Liberation Sans', sans-serif" >full penetration butt weld</text>
<polyline points="999.0,720.7 1106.4,720.7" fill="none" stroke="#e23a3a" stroke-width="1.1" />
<polyline points="999.0,720.7 970.0,662.7" fill="none" stroke="#e23a3a" stroke-width="1.1" />
<line x1="903.6" y1="511.5" x2="1105.3" y2="511.5" stroke="#e23a3a" stroke-width="1.3" />
<rect x="998.0" y="505.5" width="10.8" height="4.9" fill="#000" />
<line x1="904.0" y1="511.5" x2="904.0" y2="535.0" stroke="#5cd85c" stroke-width="1.5" />
<line x1="1104.0" y1="511.5" x2="1104.0" y2="535.0" stroke="#5cd85c" stroke-width="1.5" />
<circle cx="449" cy="987.4" r="46.9" fill="none" stroke="#888" stroke-width="1.1"/>
<line x1="428.0" y1="951.0" x2="428.0" y2="987.0" stroke="#e23a3a" stroke-width="1.6" />
<line x1="424.0" y1="986.2" x2="478.0" y2="986.2" stroke="#f07070" stroke-width="3.0" />
<line x1="424.0" y1="987.3" x2="478.0" y2="987.3" stroke="#e23a3a" stroke-width="1.0" />
<rect x="435.0" y="981.0" width="4.0" height="33.0" fill="#333" />
<rect x="462.5" y="981.0" width="4.0" height="33.0" fill="#777" />
<line x1="451.0" y1="963.0" x2="451.0" y2="982.0" stroke="#999" stroke-width="0.8" stroke-dasharray="4 3"/>
<line x1="473.0" y1="976.5" x2="473.0" y2="986.0" stroke="#6a1c1c" stroke-width="1.6" />
<text x="649.7" y="379.5" font-size="11.5" fill="#8c8c8c" text-anchor="start" font-weight="normal" textLength="111.3" lengthAdjust="spacingAndGlyphs" font-family="'Liberation Sans', sans-serif" >staircase step finish</text>
<text x="649.7" y="395.0" font-size="11.5" fill="#8c8c8c" text-anchor="start" font-weight="normal" textLength="167" lengthAdjust="spacingAndGlyphs" font-family="'Liberation Sans', sans-serif" >i.e. wooden plank 40mm thick</text>
<polyline points="649.7,380.5 757.0,380.5" fill="none" stroke="#e23a3a" stroke-width="1.1" />
<polyline points="649.7,380.5 607.7,428.3" fill="none" stroke="#e23a3a" stroke-width="1.1" />
<text x="680.9" y="415.5" font-size="11.5" fill="#8c8c8c" text-anchor="start" font-weight="normal" textLength="104.5" lengthAdjust="spacingAndGlyphs" font-family="'Liberation Sans', sans-serif" >perpendicular riser</text>
<text x="680.9" y="431.0" font-size="11.5" fill="#8c8c8c" text-anchor="start" font-weight="normal" textLength="66" lengthAdjust="spacingAndGlyphs" font-family="'Liberation Sans', sans-serif" >wedge plate</text>
<text x="680.9" y="446.0" font-size="11.5" fill="#8c8c8c" text-anchor="start" font-weight="normal" textLength="142.5" lengthAdjust="spacingAndGlyphs" font-family="'Liberation Sans', sans-serif" >fillet weld 6mm all around</text>
<polyline points="787.3,417.0 681.0,417.0 629.0,442.0" fill="none" stroke="#e23a3a" stroke-width="1.1" />
<text x="526.0" y="741.0" font-size="11.5" fill="#8c8c8c" text-anchor="end" font-weight="normal" textLength="144" lengthAdjust="spacingAndGlyphs" font-family="'Liberation Sans', sans-serif" >staircase tread step finish</text>
<text x="526.0" y="757.0" font-size="11.5" fill="#8c8c8c" text-anchor="end" font-weight="normal" textLength="167" lengthAdjust="spacingAndGlyphs" font-family="'Liberation Sans', sans-serif" >i.e. wooden plank 40mm thick</text>
<polyline points="421.0,743.5 526.0,743.5 595.8,818.6" fill="none" stroke="#e23a3a" stroke-width="1.1" />
<text x="526.0" y="809.0" font-size="11.5" fill="#8c8c8c" text-anchor="end" font-weight="normal" textLength="104.5" lengthAdjust="spacingAndGlyphs" font-family="'Liberation Sans', sans-serif" >perpendicular riser</text>
<text x="526.0" y="825.0" font-size="11.5" fill="#8c8c8c" text-anchor="end" font-weight="normal" textLength="160" lengthAdjust="spacingAndGlyphs" font-family="'Liberation Sans', sans-serif" >t-shaped wedge plate 10mm</text>
<text x="526.0" y="840.0" font-size="11.5" fill="#8c8c8c" text-anchor="end" font-weight="normal" textLength="142.5" lengthAdjust="spacingAndGlyphs" font-family="'Liberation Sans', sans-serif" >fillet weld 6mm all around</text>
<polyline points="421.0,811.0 526.0,811.0 585.5,839.0" fill="none" stroke="#e23a3a" stroke-width="1.1" />
<line x1="739.7" y1="678.0" x2="795.7" y2="678.0" stroke="#e23a3a" stroke-width="1.2" />
<rect x="765.0" y="670.5" width="6.5" height="6.5" fill="#000" />
<line x1="740.0" y1="678.0" x2="740.0" y2="722.0" stroke="#5cd85c" stroke-width="1.4" />
<line x1="795.7" y1="678.0" x2="795.7" y2="689.0" stroke="#5cd85c" stroke-width="1.4" />
<line x1="655.0" y1="722.7" x2="740.0" y2="722.7" stroke="#5cd85c" stroke-width="1.4" />
<line x1="655.0" y1="755.0" x2="687.0" y2="755.0" stroke="#5cd85c" stroke-width="1.4" />
<line x1="655.0" y1="722.0" x2="655.0" y2="755.0" stroke="#e23a3a" stroke-width="1.2" />
<rect x="648.0" y="734.5" width="6.5" height="6.5" fill="#000" />
<line x1="687.0" y1="740.7" x2="741.0" y2="740.7" stroke="#e23a3a" stroke-width="1.2" />
<rect x="709.5" y="735.0" width="6.5" height="6.5" fill="#000" />
<line x1="687.0" y1="740.7" x2="687.0" y2="755.0" stroke="#5cd85c" stroke-width="1.4" />
<line x1="617.7" y1="787.7" x2="617.7" y2="795.4" stroke="#e23a3a" stroke-width="1.2" />
<rect x="611.5" y="777.0" width="6.0" height="6.0" fill="#000" />
<line x1="618.0" y1="787.7" x2="633.0" y2="787.7" stroke="#5cd85c" stroke-width="1.4" />
<line x1="618.0" y1="795.0" x2="633.0" y2="795.0" stroke="#5cd85c" stroke-width="1.4" />
<rect x="277.2" y="620.3" width="55.9" height="21.8" fill="none" stroke="#e23a3a" stroke-width="1.2"/>
<path d="M283.5 640 L283.5 625.5 L327.5 625.5 L327.5 640" fill="none" stroke="#1a0a0a" stroke-width="3"/>
<circle cx="292" cy="633.4" r="3" fill="#e23a3a" stroke="#800" stroke-width="0.8"/>
<circle cx="318.3" cy="633.4" r="3" fill="#e23a3a" stroke="#800" stroke-width="0.8"/>
<line x1="277.2" y1="599.8" x2="333.0" y2="599.8" stroke="#e23a3a" stroke-width="1.3" />
<line x1="277.2" y1="611.2" x2="333.0" y2="611.2" stroke="#e23a3a" stroke-width="1.3" />
<line x1="277.2" y1="599.8" x2="277.2" y2="620.3" stroke="#2fd8e0" stroke-width="1.0" />
<line x1="333.0" y1="599.8" x2="333.0" y2="620.3" stroke="#2fd8e0" stroke-width="1.0" />
<line x1="291.5" y1="611.2" x2="291.5" y2="620.3" stroke="#2fd8e0" stroke-width="1.0" />
<line x1="318.3" y1="611.2" x2="318.3" y2="620.3" stroke="#2fd8e0" stroke-width="1.0" />
<rect x="301.0" y="593.0" width="6.0" height="5.0" fill="#2fd8e0" />
<rect x="281.0" y="603.0" width="6.0" height="5.0" fill="#2fd8e0" />
<rect x="301.0" y="603.0" width="6.0" height="5.0" fill="#2fd8e0" />
<rect x="321.0" y="603.0" width="6.0" height="5.0" fill="#2fd8e0" />
<rect x="333" y="620.3" width="29" height="22.5" fill="none" stroke="#2fd8e0" stroke-width="1"/>
<line x1="347.0" y1="620.0" x2="347.0" y2="643.0" stroke="#777" stroke-width="1.0" />
<rect x="339.5" y="623.0" width="5.0" height="6.0" fill="#2fd8e0" />
<rect x="339.5" y="635.0" width="5.0" height="6.0" fill="#2fd8e0" />
<rect x="354.5" y="628.0" width="5.0" height="6.0" fill="#2fd8e0" />
<path d="M346.2 577.5 H406.5 V582.7 H429.2 V588.8 H394.2 V595.8 H418 V601 H429.2 V606.3 H346.2 Z" fill="#000"/>
<line x1="346.5" y1="582.0" x2="332.3" y2="620.3" stroke="#e23a3a" stroke-width="1.1" />
<text x="214.3" y="685.0" font-size="12.5" fill="#222" text-anchor="start" font-weight="normal" textLength="225.4" lengthAdjust="spacingAndGlyphs" font-family="'Liberation Sans', sans-serif" >UPN260 STRINGER CONNECTION TO</text>
<text x="214.3" y="701.2" font-size="12.5" fill="#222" text-anchor="start" font-weight="normal" textLength="129" lengthAdjust="spacingAndGlyphs" font-family="'Liberation Sans', sans-serif" >FLOOR FOUNDATION</text>
<text x="214.3" y="716.9" font-size="12.5" fill="#222" text-anchor="start" font-weight="normal" textLength="68.5" lengthAdjust="spacingAndGlyphs" font-family="'Liberation Sans', sans-serif" >SCALE 1:10</text>
<text x="1587.4" y="212.0" font-size="11.5" fill="#8c8c8c" text-anchor="end" font-weight="normal" textLength="145" lengthAdjust="spacingAndGlyphs" font-family="'Liberation Sans', sans-serif" >staircase tread step finish</text>
<text x="1587.4" y="227.0" font-size="11.5" fill="#8c8c8c" text-anchor="end" font-weight="normal" textLength="164" lengthAdjust="spacingAndGlyphs" font-family="'Liberation Sans', sans-serif" >i.e. wooden plank 40mm thick</text>
<polyline points="1484.6,213.0 1591.0,213.0 1608.0,272.0" fill="none" stroke="#e23a3a" stroke-width="1.1" />
<text x="1398.6" y="254.0" font-size="11.5" fill="#8c8c8c" text-anchor="end" font-weight="normal" textLength="103" lengthAdjust="spacingAndGlyphs" font-family="'Liberation Sans', sans-serif" >perpendicular riser</text>
<text x="1401.0" y="269.5" font-size="11.5" fill="#8c8c8c" text-anchor="end" font-weight="normal" textLength="160" lengthAdjust="spacingAndGlyphs" font-family="'Liberation Sans', sans-serif" >t-shaped wedge plate 10mm</text>
<text x="1401.0" y="284.5" font-size="11.5" fill="#8c8c8c" text-anchor="end" font-weight="normal" textLength="142" lengthAdjust="spacingAndGlyphs" font-family="'Liberation Sans', sans-serif" >fillet weld 6mm all around</text>
<polyline points="1295.8,255.5 1402.4,255.5 1461.5,281.0" fill="none" stroke="#e23a3a" stroke-width="1.1" />
<text x="1417.8" y="342.0" font-size="11.5" fill="#8c8c8c" text-anchor="end" font-weight="normal" textLength="126" lengthAdjust="spacingAndGlyphs" font-family="'Liberation Sans', sans-serif" >staircase steel stringer</text>
<text x="1417.8" y="357.0" font-size="11.5" fill="#8c8c8c" text-anchor="end" font-weight="normal" textLength="48" lengthAdjust="spacingAndGlyphs" font-family="'Liberation Sans', sans-serif" >UPN260</text>
<polyline points="1315.0,344.2 1421.7,344.2 1452.5,334.0" fill="none" stroke="#e23a3a" stroke-width="1.1" />
<rect x="1452.5" y="268.4" width="214.5" height="7.4" fill="#a85a1c" />
<rect x="1452.5" y="275.8" width="17.0" height="3.0" fill="#1010c0" />
<rect x="1459.5" y="278.0" width="2.6" height="10.0" fill="#1010c0" />
<line x1="1452.5" y1="268.0" x2="1469.5" y2="268.0" stroke="#333" stroke-width="0.6" stroke-dasharray="2 2"/>
<rect x="1650.0" y="275.8" width="17.0" height="3.0" fill="#1010c0" />
<rect x="1657.0" y="278.0" width="2.6" height="10.0" fill="#1010c0" />
<line x1="1650.0" y1="268.0" x2="1667.0" y2="268.0" stroke="#333" stroke-width="0.6" stroke-dasharray="2 2"/>
<path d="M1453 288.8 L1468.3 288.8 L1468.3 334.3 L1453 334.3" fill="none" stroke="#6a1c1c" stroke-width="3"/>
<path d="M1453 286.8 L1470.5 286.8 L1470.5 336.5 L1453 336.5" fill="none" stroke="#e23a3a" stroke-width="0.8"/>
<path d="M1667 288.8 L1652 288.8 L1652 334.3 L1667 334.3" fill="none" stroke="#6a1c1c" stroke-width="3"/>
<path d="M1667 286.8 L1649.8 286.8 L1649.8 336.5 L1667 336.5" fill="none" stroke="#e23a3a" stroke-width="0.8"/>
<line x1="1452.5" y1="376.3" x2="1667.0" y2="376.3" stroke="#e23a3a" stroke-width="1.3" />
<line x1="1452.5" y1="348.0" x2="1452.5" y2="376.3" stroke="#5cd85c" stroke-width="1.4" />
<line x1="1667.0" y1="348.0" x2="1667.0" y2="376.3" stroke="#5cd85c" stroke-width="1.4" />
<rect x="1548.9" y="369.9" width="21.8" height="3.8" fill="#000" />
<line x1="1637.5" y1="288.0" x2="1637.5" y2="335.0" stroke="#e23a3a" stroke-width="1.2" />
<line x1="1637.5" y1="288.0" x2="1652.0" y2="288.0" stroke="#5cd85c" stroke-width="1.2" />
<line x1="1637.5" y1="335.0" x2="1652.0" y2="335.0" stroke="#5cd85c" stroke-width="1.2" />
<rect x="1631.0" y="308.0" width="8.5" height="6.6" fill="#000" />
<line x1="1696.6" y1="274.8" x2="1696.6" y2="332.6" stroke="#e23a3a" stroke-width="1.2" />
<line x1="1667.0" y1="275.0" x2="1700.0" y2="275.0" stroke="#5cd85c" stroke-width="1.2" />
<line x1="1667.0" y1="287.5" x2="1700.0" y2="287.5" stroke="#5cd85c" stroke-width="1.2" />
<rect x="1689.0" y="292.8" width="5.0" height="37.2" fill="#000" />
<line x1="1683.8" y1="268.0" x2="1683.8" y2="275.0" stroke="#e23a3a" stroke-width="1.2" />
<line x1="1667.0" y1="268.0" x2="1686.0" y2="268.0" stroke="#5cd85c" stroke-width="1.0" />
<rect x="1678.6" y="280.0" width="8.4" height="3.8" fill="#000" />
<text x="1447.4" y="408.4" font-size="12.5" fill="#222" text-anchor="start" font-weight="normal" textLength="178" lengthAdjust="spacingAndGlyphs" font-family="'Liberation Sans', sans-serif" >STAIRCASE CROSS SECTION</text>
<text x="1447.4" y="425.0" font-size="12.5" fill="#222" text-anchor="start" font-weight="normal" textLength="255" lengthAdjust="spacingAndGlyphs" font-family="'Liberation Sans', sans-serif" >RAISED WOODEN TREAD STEP SUPPORT</text>
<text x="1447.4" y="439.2" font-size="12.5" fill="#222" text-anchor="start" font-weight="normal" textLength="70" lengthAdjust="spacingAndGlyphs" font-family="'Liberation Sans', sans-serif" >SCALE 1:10</text>
<rect x="1334.5" y="398.0" width="9.0" height="5.0" fill="#2fd8e0" />
<rect x="1327" y="405.5" width="22.6" height="17.1" fill="none" stroke="#2fd8e0" stroke-width="1"/>
<line x1="1327.0" y1="405.5" x2="1349.6" y2="405.5" stroke="#e23a3a" stroke-width="1.2" />
<line x1="1327.0" y1="422.6" x2="1349.6" y2="422.6" stroke="#e23a3a" stroke-width="1.2" />
<line x1="1327.0" y1="422.6" x2="1327.0" y2="472.0" stroke="#2fd8e0" stroke-width="1.0" />
<line x1="1349.6" y1="422.6" x2="1349.6" y2="472.0" stroke="#2fd8e0" stroke-width="1.0" />
<line x1="1334.0" y1="422.6" x2="1334.0" y2="435.0" stroke="#2fd8e0" stroke-width="0.8" />
<line x1="1344.0" y1="422.6" x2="1344.0" y2="435.0" stroke="#2fd8e0" stroke-width="0.8" />
<rect x="1331.0" y="415.5" width="5.0" height="5.0" fill="#2fd8e0" />
<rect x="1342.0" y="415.5" width="5.0" height="5.0" fill="#2fd8e0" />
<rect x="1328" y="435" width="22.7" height="54.8" fill="none" stroke="#e23a3a" stroke-width="1.1"/>
<path d="M1348 437 L1331 437 L1331 483.5 L1348 483.5" fill="none" stroke="#1a0a0a" stroke-width="2.6"/>
<circle cx="1340" cy="445.8" r="3" fill="none" stroke="#777" stroke-width="1.2"/>
<circle cx="1340" cy="459.7" r="3.2" fill="#e23a3a"/>
<circle cx="1340" cy="472.6" r="3.2" fill="#e23a3a"/>
<line x1="1306.7" y1="435.0" x2="1306.7" y2="490.0" stroke="#e23a3a" stroke-width="1.1" />
<line x1="1318.5" y1="435.0" x2="1318.5" y2="490.0" stroke="#e23a3a" stroke-width="1.1" />
<rect x="1311.5" y="438.0" width="5.0" height="6.0" fill="#2fd8e0" />
<rect x="1311.5" y="452.0" width="5.0" height="6.0" fill="#2fd8e0" />
<rect x="1311.5" y="463.0" width="5.0" height="6.0" fill="#2fd8e0" />
<rect x="1311.5" y="478.0" width="5.0" height="6.0" fill="#2fd8e0" />
<rect x="1300.0" y="458.0" width="5.0" height="9.0" fill="#2fd8e0" />
<line x1="1318.5" y1="446.0" x2="1331.0" y2="446.0" stroke="#888" stroke-width="0.8" stroke-dasharray="2 2"/>
<line x1="1318.5" y1="460.0" x2="1331.0" y2="460.0" stroke="#888" stroke-width="0.8" stroke-dasharray="2 2"/>
<line x1="1318.5" y1="473.0" x2="1331.0" y2="473.0" stroke="#888" stroke-width="0.8" stroke-dasharray="2 2"/>
<path d="M1301.3 496.7 H1362.5 V507 H1347.3 V514.5 H1372.8 V520.5 H1301.3 Z" fill="#000"/>
<line x1="1362.0" y1="503.3" x2="1375.4" y2="503.3" stroke="#e23a3a" stroke-width="1.1" />
<line x1="1301.3" y1="500.0" x2="1288.5" y2="529.5" stroke="#e23a3a" stroke-width="1.1" />
<line x1="1223.0" y1="531.0" x2="1287.4" y2="531.0" stroke="#6a1414" stroke-width="2.6" />
<line x1="1223.0" y1="574.5" x2="1287.4" y2="574.5" stroke="#e23a3a" stroke-width="1.0" />
<line x1="1223.0" y1="577.8" x2="1287.4" y2="577.8" stroke="#6a1c1c" stroke-width="1.5" />
<path d="M1223 525 L1223 553 L1232 556 L1211 559 L1223 562 L1223 581" stroke="#d23cd2" stroke-width="1.3" fill="none"/>
<rect x="1228.4" y="539.0" width="17.1" height="5.5" fill="#000" />
<line x1="1232" y1="554" x2="1282" y2="554" stroke="#888" stroke-width="1.1" stroke-dasharray="8 5"/>
<rect x="1285.6" y="529.5" width="3.8" height="56.0" fill="#f6c0c0" />
<line x1="1285.6" y1="529.5" x2="1285.6" y2="585.5" stroke="#e23a3a" stroke-width="1.1" />
<line x1="1289.4" y1="529.5" x2="1289.4" y2="585.5" stroke="#e23a3a" stroke-width="1.1" />
<rect x="1289.5" y="537.0" width="4.5" height="6.0" fill="#111" />
<rect x="1282.5" y="537.5" width="3" height="5" fill="none" stroke="#222" stroke-width="0.9"/>
<rect x="1289.5" y="552.0" width="4.5" height="6.0" fill="#111" />
<rect x="1282.5" y="552.5" width="3" height="5" fill="none" stroke="#222" stroke-width="0.9"/>
<rect x="1289.5" y="565.0" width="4.5" height="6.0" fill="#111" />
<rect x="1282.5" y="565.5" width="3" height="5" fill="none" stroke="#222" stroke-width="0.9"/>
<rect x="1289.5" y="530.6" width="29.0" height="2.8" fill="#111" />
<rect x="1289.5" y="582.0" width="29.0" height="2.8" fill="#111" />
<line x1="1304.5" y1="532.0" x2="1304.5" y2="582.0" stroke="#111" stroke-width="1.6" />
<line x1="1323.9" y1="530.0" x2="1323.9" y2="585.0" stroke="#e23a3a" stroke-width="1.2" />
<rect x="1316.0" y="553.0" width="6.8" height="7.6" fill="#000" />
<polyline points="1313.0,583.0 1330.3,566.0 1351.8,566.0" fill="none" stroke="#e23a3a" stroke-width="1.1" />
<rect x="1329.0" y="560.6" width="13.0" height="6.4" fill="#000" />
<line x1="1205.8" y1="576.7" x2="1205.8" y2="632.5" stroke="#e23a3a" stroke-width="1.2" />
<line x1="1205.8" y1="577.0" x2="1223.0" y2="577.0" stroke="#5cd85c" stroke-width="1.4" />
<line x1="1205.8" y1="632.0" x2="1223.0" y2="632.0" stroke="#5cd85c" stroke-width="1.4" />
<text x="1146.8" y="607.0" font-size="11.5" fill="#8c8c8c" text-anchor="start" font-weight="normal" textLength="108.2" lengthAdjust="spacingAndGlyphs" font-family="'Liberation Sans', sans-serif" >main support beam</text>
<rect x="1199.4" y="601.4" width="5.4" height="6.4" fill="#000" />
<polyline points="1255.0,610.0 1149.0,610.0 1130.7,631.4 1120.0,631.4" fill="none" stroke="#e23a3a" stroke-width="1.1" />
<polyline points="1293.8,464.0 1189.7,464.0 1123.2,610.0" fill="none" stroke="#e23a3a" stroke-width="1.1" />
<text x="1274.5" y="611.0" font-size="11.6" fill="#222" text-anchor="start" font-weight="normal" textLength="225.3" lengthAdjust="spacingAndGlyphs" font-family="'Liberation Sans', sans-serif" >UPN260 STRINGER CONNECTION TO</text>
<text x="1274.5" y="628.2" font-size="11.6" fill="#222" text-anchor="start" font-weight="normal" textLength="181" lengthAdjust="spacingAndGlyphs" font-family="'Liberation Sans', sans-serif" >IPE300 MAIN SUPPORT BEAM</text>
<text x="1274.5" y="643.2" font-size="11.6" fill="#222" text-anchor="start" font-weight="normal" textLength="69" lengthAdjust="spacingAndGlyphs" font-family="'Liberation Sans', sans-serif" >SCALE 1:10</text>
<text x="1197.0" y="800.7" font-size="28.5" fill="#505050" text-anchor="start" font-weight="normal" textLength="564.3" lengthAdjust="spacing" font-family="'Liberation Sans', sans-serif" stroke="#505050" stroke-width="0.5">Double Stringer Steel Stairs with Raised</text>
<text x="1197.0" y="840.8" font-size="28.5" fill="#505050" text-anchor="start" font-weight="normal" textLength="203.5" lengthAdjust="spacing" font-family="'Liberation Sans', sans-serif" stroke="#505050" stroke-width="0.5">Wooden Steps</text>
<text x="1197.0" y="879.6" font-size="28.5" fill="#505050" text-anchor="start" font-weight="normal" textLength="132.5" lengthAdjust="spacing" font-family="'Liberation Sans', sans-serif" stroke="#505050" stroke-width="0.5">Scale 1:10</text>
<rect x="1814.6" y="31.0" width="4.6" height="631.0" fill="#0000d0" />
<text x="1830.8" y="43.0" font-size="6.2" fill="#111" text-anchor="start" font-weight="bold" textLength="25" lengthAdjust="spacingAndGlyphs" font-family="'Liberation Sans', sans-serif" >NOTES</text>
<line x1="1824.6" y1="47.5" x2="1924.6" y2="47.5" stroke="#2c2c84" stroke-width="1.0" />
<rect x="1831.0" y="49.5" width="10.0" height="5.5" fill="#000" />
<rect x="1843.0" y="49.5" width="26.0" height="5.5" fill="#000" />
<rect x="1871.0" y="49.5" width="5.0" height="5.5" fill="#000" />
<rect x="1877.0" y="49.5" width="7.0" height="5.5" fill="#000" />
<rect x="1887.0" y="49.5" width="27.0" height="5.5" fill="#000" />
<rect x="1917.0" y="49.5" width="6.0" height="5.5" fill="#000" />
<rect x="1831.0" y="56.3" width="17.0" height="5.5" fill="#000" />
<rect x="1852.0" y="56.3" width="7.0" height="5.5" fill="#000" />
<rect x="1863.0" y="56.3" width="5.0" height="5.5" fill="#000" />
<rect x="1871.0" y="56.3" width="19.0" height="5.5" fill="#000" />
<rect x="1831.0" y="63.3" width="5.0" height="5.5" fill="#000" />
<rect x="1838.0" y="63.3" width="26.0" height="5.5" fill="#000" />
<rect x="1867.0" y="63.3" width="30.0" height="5.5" fill="#000" />
<rect x="1901.0" y="63.3" width="10.0" height="5.5" fill="#000" />
<rect x="1914.0" y="63.3" width="10.0" height="5.5" fill="#000" />
<rect x="1831.0" y="69.8" width="89.0" height="5.5" fill="#000" />
<rect x="1831.0" y="76.6" width="79.0" height="5.5" fill="#000" />
<rect x="1831.0" y="83.6" width="84.0" height="5.5" fill="#000" />
<rect x="1831.0" y="91.2" width="93.0" height="5.5" fill="#000" />
<rect x="1831.0" y="98.0" width="90.0" height="5.5" fill="#000" />
<rect x="1831.0" y="105.0" width="5.0" height="5.5" fill="#000" />
<rect x="1841.0" y="105.0" width="31.0" height="5.5" fill="#000" />
<rect x="1876.0" y="105.0" width="18.0" height="5.5" fill="#000" />
<rect x="1897.0" y="105.0" width="12.0" height="5.5" fill="#000" />
<rect x="1831.0" y="112.2" width="32.0" height="5.5" fill="#000" />
<text x="1830.8" y="153.0" font-size="6.2" fill="#111" text-anchor="start" font-weight="bold" textLength="25" lengthAdjust="spacingAndGlyphs" font-family="'Liberation Sans', sans-serif" >NOTES</text>
<line x1="1824.6" y1="158.5" x2="1924.6" y2="158.5" stroke="#2c2c84" stroke-width="1.0" />
<line x1="1824.6" y1="169.5" x2="1924.6" y2="169.5" stroke="#2c2c84" stroke-width="1.0" />
<line x1="1824.6" y1="179.5" x2="1924.6" y2="179.5" stroke="#2c2c84" stroke-width="1.0" />
<line x1="1824.6" y1="189.5" x2="1924.6" y2="189.5" stroke="#2c2c84" stroke-width="1.0" />
<line x1="1824.6" y1="200.5" x2="1924.6" y2="200.5" stroke="#2c2c84" stroke-width="1.0" />
<line x1="1824.6" y1="210.5" x2="1924.6" y2="210.5" stroke="#2c2c84" stroke-width="1.0" />
<line x1="1824.6" y1="221.5" x2="1924.6" y2="221.5" stroke="#2c2c84" stroke-width="1.0" />
<line x1="1824.6" y1="232.5" x2="1924.6" y2="232.5" stroke="#2c2c84" stroke-width="1.0" />
<line x1="1824.6" y1="242.5" x2="1924.6" y2="242.5" stroke="#2c2c84" stroke-width="1.0" />
<line x1="1824.6" y1="252.5" x2="1924.6" y2="252.5" stroke="#2c2c84" stroke-width="1.0" />
<line x1="1824.6" y1="263.5" x2="1924.6" y2="263.5" stroke="#2c2c84" stroke-width="1.0" />
<line x1="1824.6" y1="273.5" x2="1924.6" y2="273.5" stroke="#2c2c84" stroke-width="1.0" />
<line x1="1820.0" y1="279.5" x2="1921.4" y2="279.5" stroke="#2c2c84" stroke-width="1.0" />
<line x1="1820.0" y1="290.5" x2="1921.4" y2="290.5" stroke="#2c2c84" stroke-width="1.0" />
<line x1="1820.0" y1="300.5" x2="1921.4" y2="300.5" stroke="#2c2c84" stroke-width="1.0" />
<line x1="1820.0" y1="312.5" x2="1921.4" y2="312.5" stroke="#2c2c84" stroke-width="1.0" />
<line x1="1820.0" y1="322.5" x2="1921.4" y2="322.5" stroke="#2c2c84" stroke-width="1.0" />
<line x1="1820.0" y1="331.5" x2="1921.4" y2="331.5" stroke="#2c2c84" stroke-width="1.0" />
<line x1="1820.0" y1="342.5" x2="1921.4" y2="342.5" stroke="#2c2c84" stroke-width="1.0" />
<line x1="1820.0" y1="353.5" x2="1921.4" y2="353.5" stroke="#2c2c84" stroke-width="1.0" />
<line x1="1820.0" y1="363.5" x2="1921.4" y2="363.5" stroke="#2c2c84" stroke-width="1.0" />
<line x1="1820.0" y1="373.5" x2="1921.4" y2="373.5" stroke="#2c2c84" stroke-width="1.0" />
<line x1="1921.5" y1="312.0" x2="1921.5" y2="478.5" stroke="#2c2c84" stroke-width="1.1" />
<text x="1823.0" y="402.0" font-size="6.2" fill="#111" text-anchor="start" font-weight="bold" textLength="46" lengthAdjust="spacingAndGlyphs" font-family="'Liberation Sans', sans-serif" >ASSOCIATES</text>
<line x1="1820.0" y1="405.5" x2="1921.4" y2="405.5" stroke="#2c2c84" stroke-width="1.0" />
<text x="1823.0" y="414.0" font-size="6.2" fill="#111" text-anchor="start" font-weight="bold" textLength="89" lengthAdjust="spacingAndGlyphs" font-family="'Liberation Sans', sans-serif" >STRUCTURAL ENGINEER</text>
<rect x="1823.0" y="416.5" width="63.0" height="5.0" fill="#0000d0" />
<rect x="1823.0" y="424.3" width="62.0" height="5.0" fill="#0000d0" />
<line x1="1820.0" y1="436.5" x2="1921.4" y2="436.5" stroke="#2c2c84" stroke-width="1.0" />
<text x="1823.0" y="445.0" font-size="6.2" fill="#111" text-anchor="start" font-weight="bold" textLength="89" lengthAdjust="spacingAndGlyphs" font-family="'Liberation Sans', sans-serif" >MECHANICAL ENGINEER</text>
<rect x="1823.0" y="448.0" width="91.0" height="5.0" fill="#0000d0" />
<line x1="1820.0" y1="467.5" x2="1921.4" y2="467.5" stroke="#2c2c84" stroke-width="1.0" />
<text x="1823.0" y="476.8" font-size="6.2" fill="#111" text-anchor="start" font-weight="bold" textLength="85" lengthAdjust="spacingAndGlyphs" font-family="'Liberation Sans', sans-serif" >ELECTRICAL ENGINEER</text>
<rect x="1823.0" y="479.5" width="7.0" height="5.0" fill="#0000d0" />
<rect x="1833.0" y="479.5" width="25.0" height="5.0" fill="#0000d0" />
<rect x="1862.0" y="479.5" width="39.0" height="5.0" fill="#0000d0" />
<rect x="1905.0" y="479.5" width="10.0" height="5.0" fill="#0000d0" />
<line x1="1820.0" y1="499.5" x2="1921.4" y2="499.5" stroke="#2c2c84" stroke-width="1.0" />
<text x="1823.0" y="508.5" font-size="6.2" fill="#0000d0" text-anchor="start" font-weight="bold" textLength="79" lengthAdjust="spacingAndGlyphs" font-family="'Liberation Sans', sans-serif" >QUANTITY SURVEYOR</text>
<rect x="1823.0" y="511.0" width="28.0" height="5.0" fill="#0000d0" />
<rect x="1854.0" y="511.0" width="6.0" height="5.0" fill="#0000d0" />
<rect x="1864.0" y="511.0" width="25.0" height="5.0" fill="#0000d0" />
<rect x="1893.0" y="511.0" width="9.0" height="5.0" fill="#0000d0" />
<rect x="1906.0" y="511.0" width="10.0" height="5.0" fill="#0000d0" />
<line x1="1820.0" y1="530.5" x2="1921.4" y2="530.5" stroke="#2c2c84" stroke-width="1.0" />
<text x="1822.0" y="579.5" font-size="6.2" fill="#111" text-anchor="start" font-weight="bold" textLength="13" lengthAdjust="spacingAndGlyphs" font-family="'Liberation Sans', sans-serif" >A/A</text>
<text x="1841.0" y="579.5" font-size="6.2" fill="#111" text-anchor="start" font-weight="bold" textLength="20" lengthAdjust="spacingAndGlyphs" font-family="'Liberation Sans', sans-serif" >HMEP</text>
<text x="1874.0" y="579.5" font-size="6.2" fill="#111" text-anchor="start" font-weight="bold" textLength="34" lengthAdjust="spacingAndGlyphs" font-family="'Liberation Sans', sans-serif" >ΑΛΛΑΓΕΣ</text>
<line x1="1837.3" y1="568.6" x2="1837.3" y2="659.0" stroke="#2c2c84" stroke-width="1.1" />
<line x1="1867.5" y1="568.6" x2="1867.5" y2="659.0" stroke="#2c2c84" stroke-width="1.1" />
<line x1="1820.0" y1="584.5" x2="1921.4" y2="584.5" stroke="#2c2c84" stroke-width="1.0" />
<line x1="1820.0" y1="595.5" x2="1921.4" y2="595.5" stroke="#2c2c84" stroke-width="1.0" />
<line x1="1820.0" y1="606.5" x2="1921.4" y2="606.5" stroke="#2c2c84" stroke-width="1.0" />
<line x1="1820.0" y1="617.5" x2="1921.4" y2="617.5" stroke="#2c2c84" stroke-width="1.0" />
<line x1="1820.0" y1="627.5" x2="1921.4" y2="627.5" stroke="#2c2c84" stroke-width="1.0" />
<line x1="1820.0" y1="637.5" x2="1921.4" y2="637.5" stroke="#2c2c84" stroke-width="1.0" />
<line x1="1820.0" y1="647.5" x2="1921.4" y2="647.5" stroke="#2c2c84" stroke-width="1.0" />
<text x="1813.3" y="754.0" font-size="6.2" fill="#111" text-anchor="start" font-weight="bold" textLength="44" lengthAdjust="spacingAndGlyphs" font-family="'Liberation Sans', sans-serif" >Σπύρος Σπύρου</text>
<rect x="1813.0" y="756.2" width="74.0" height="5.4" fill="#000" />
<rect x="1889.0" y="756.2" width="35.0" height="5.4" fill="#000" />
<rect x="1814.8" y="789.0" width="4.2" height="378.0" fill="#0000d0" />
<rect x="1874.5" y="788.0" width="48.3" height="5.2" fill="#000" />
<rect x="1834.8" y="796.0" width="88.0" height="5.2" fill="#000" />
<rect x="1850.0" y="803.0" width="19.0" height="5.2" fill="#000" />
<rect x="1872.0" y="803.0" width="25.0" height="5.2" fill="#000" />
<rect x="1900.0" y="803.0" width="14.0" height="5.2" fill="#000" />
<rect x="1916.0" y="803.0" width="6.8" height="5.2" fill="#000" />
<rect x="1862.0" y="810.0" width="12.0" height="5.2" fill="#000" />
<rect x="1878.0" y="810.0" width="23.0" height="5.2" fill="#000" />
<rect x="1905.0" y="810.0" width="17.8" height="5.2" fill="#000" />
<rect x="1843.0" y="817.0" width="37.0" height="5.2" fill="#000" />
<rect x="1882.0" y="817.0" width="3.0" height="5.2" fill="#000" />
<rect x="1888.0" y="817.0" width="9.0" height="5.2" fill="#000" />
<rect x="1900.0" y="817.0" width="22.8" height="5.2" fill="#000" />
<rect x="1870.0" y="824.0" width="26.0" height="5.2" fill="#000" />
<rect x="1898.0" y="824.0" width="24.8" height="5.2" fill="#000" />
<rect x="1850.0" y="831.0" width="13.0" height="5.2" fill="#000" />
<rect x="1866.0" y="831.0" width="11.0" height="5.2" fill="#000" />
<rect x="1880.0" y="831.0" width="21.0" height="5.2" fill="#000" />
<rect x="1904.0" y="831.0" width="8.0" height="5.2" fill="#000" />
<rect x="1915.0" y="831.0" width="7.8" height="5.2" fill="#000" />
<rect x="1836.0" y="838.0" width="86.8" height="5.2" fill="#000" />
<rect x="1861.0" y="844.5" width="61.8" height="5.2" fill="#000" />
<rect x="1839.7" y="851.0" width="83.1" height="5.2" fill="#000" />
<rect x="1825.0" y="865.0" width="97.8" height="5.2" fill="#000" />
<rect x="1854.0" y="872.0" width="68.8" height="5.2" fill="#000" />
<line x1="1819.0" y1="883.5" x2="1922.0" y2="883.5" stroke="#2c2c84" stroke-width="1.0" />
<text x="1822.5" y="892.5" font-size="6.2" fill="#111" text-anchor="start" font-weight="bold" textLength="34" lengthAdjust="spacingAndGlyphs" font-family="'Liberation Sans', sans-serif" >PROJECT</text>
<rect x="1823.0" y="894.0" width="14.0" height="4.5" fill="#0000d0" />
<rect x="1841.0" y="894.0" width="30.0" height="4.5" fill="#0000d0" />
<rect x="1875.0" y="894.0" width="14.0" height="4.5" fill="#0000d0" />
<rect x="1893.0" y="894.0" width="24.0" height="4.5" fill="#0000d0" />
<rect x="1823.0" y="901.0" width="5.0" height="4.5" fill="#0000d0" />
<rect x="1832.0" y="901.0" width="26.0" height="4.5" fill="#0000d0" />
<rect x="1862.0" y="901.0" width="4.0" height="4.5" fill="#0000d0" />
<rect x="1870.0" y="901.0" width="20.0" height="4.5" fill="#0000d0" />
<rect x="1823.0" y="908.5" width="29.0" height="4.5" fill="#0000d0" />
<rect x="1856.0" y="908.5" width="20.0" height="4.5" fill="#0000d0" />
<rect x="1880.0" y="908.5" width="3.0" height="4.5" fill="#0000d0" />
<rect x="1887.0" y="908.5" width="17.0" height="4.5" fill="#0000d0" />
<rect x="1908.0" y="908.5" width="5.0" height="4.5" fill="#0000d0" />
<rect x="1824" y="913.6" width="97.7" height="43.4" fill="none" stroke="#2c2c84" stroke-width="1.1"/>
<line x1="1846.6" y1="934.6" x2="1899.0" y2="934.6" stroke="#555" stroke-width="1.1" />
<line x1="1819.0" y1="883.5" x2="1819.0" y2="1167.0" stroke="#2c2c84" stroke-width="1.0" />
<line x1="1921.7" y1="883.5" x2="1921.7" y2="1167.0" stroke="#2c2c84" stroke-width="1.1" />
<line x1="1819.0" y1="957.5" x2="1922.0" y2="957.5" stroke="#2c2c84" stroke-width="1.0" />
<text x="1822.5" y="966.0" font-size="6.2" fill="#111" text-anchor="start" font-weight="bold" textLength="27" lengthAdjust="spacingAndGlyphs" font-family="'Liberation Sans', sans-serif" >CLIENT</text>
<rect x="1823.0" y="969.4" width="74.0" height="5.4" fill="#0000d0" />
<line x1="1819.0" y1="988.5" x2="1922.0" y2="988.5" stroke="#2c2c84" stroke-width="1.0" />
<text x="1822.5" y="997.0" font-size="6.2" fill="#111" text-anchor="start" font-weight="bold" textLength="78" lengthAdjust="spacingAndGlyphs" font-family="'Liberation Sans', sans-serif" >PROJECT ARCHITECT</text>
<rect x="1820.5" y="1000.2" width="100.5" height="62.2" fill="none" stroke="#2c2c84" stroke-width="1.1"/>
<text x="1822.5" y="1071.0" font-size="6.2" fill="#111" text-anchor="start" font-weight="bold" textLength="56" lengthAdjust="spacingAndGlyphs" font-family="'Liberation Sans', sans-serif" >PROJECT CODE</text>
<rect x="1824.0" y="1073.5" width="15.0" height="4.6" fill="#0000d0" />
<rect x="1841.0" y="1073.5" width="13.0" height="4.6" fill="#0000d0" />
<line x1="1819.0" y1="1082.5" x2="1922.0" y2="1082.5" stroke="#2c2c84" stroke-width="1.0" />
<text x="1822.5" y="1091.0" font-size="6.2" fill="#111" text-anchor="start" font-weight="bold" textLength="68" lengthAdjust="spacingAndGlyphs" font-family="'Liberation Sans', sans-serif" >LOCAL ARCHITECT</text>
<rect x="1824.0" y="1094.0" width="23.0" height="4.6" fill="#0000d0" />
<rect x="1852.0" y="1094.0" width="23.0" height="4.6" fill="#0000d0" />
<line x1="1819.0" y1="1104.5" x2="1922.0" y2="1104.5" stroke="#2c2c84" stroke-width="1.0" />
<text x="1822.5" y="1112.0" font-size="6.2" fill="#111" text-anchor="start" font-weight="bold" textLength="34" lengthAdjust="spacingAndGlyphs" font-family="'Liberation Sans', sans-serif" >DRAWING</text>
<rect x="1824.0" y="1112.0" width="29.0" height="5.0" fill="#0000d0" />
<rect x="1857.0" y="1112.0" width="27.0" height="5.0" fill="#0000d0" />
<rect x="1888.0" y="1112.0" width="25.0" height="5.0" fill="#0000d0" />
<rect x="1824.0" y="1119.5" width="19.0" height="5.0" fill="#0000d0" />
<rect x="1847.0" y="1119.5" width="4.0" height="5.0" fill="#0000d0" />
<rect x="1855.0" y="1119.5" width="29.0" height="5.0" fill="#0000d0" />
<rect x="1888.0" y="1119.5" width="30.0" height="5.0" fill="#0000d0" />
<line x1="1819.0" y1="1125.5" x2="1922.0" y2="1125.5" stroke="#2c2c84" stroke-width="1.0" />
<line x1="1869.5" y1="1125.0" x2="1869.5" y2="1167.0" stroke="#2c2c84" stroke-width="1.1" />
<text x="1822.5" y="1134.0" font-size="6.2" fill="#111" text-anchor="start" font-weight="bold" textLength="23" lengthAdjust="spacingAndGlyphs" font-family="'Liberation Sans', sans-serif" >SCALE</text>
<text x="1874.8" y="1134.0" font-size="6.2" fill="#111" text-anchor="start" font-weight="bold" textLength="19" lengthAdjust="spacingAndGlyphs" font-family="'Liberation Sans', sans-serif" >DATE</text>
<rect x="1822.5" y="1136.5" width="6.0" height="4.5" fill="#0000d0" />
<rect x="1830.0" y="1137.0" width="5.0" height="4.0" fill="#0000d0" />
<rect x="1874.5" y="1137.0" width="23.0" height="4.6" fill="#0000d0" />
<rect x="1899.0" y="1138.0" width="5.0" height="4.0" fill="#0000d0" />
<line x1="1819.0" y1="1145.5" x2="1922.0" y2="1145.5" stroke="#2c2c84" stroke-width="1.0" />
<text x="1822.5" y="1154.0" font-size="6.2" fill="#111" text-anchor="start" font-weight="bold" textLength="38" lengthAdjust="spacingAndGlyphs" font-family="'Liberation Sans', sans-serif" >DRAWN BY</text>
<text x="1874.8" y="1154.0" font-size="6.2" fill="#111" text-anchor="start" font-weight="bold" textLength="37" lengthAdjust="spacingAndGlyphs" font-family="'Liberation Sans', sans-serif" >CHECKED</text>
<rect x="1822.0" y="1157.5" width="9.0" height="4.6" fill="#0000d0" />
<line x1="1815.0" y1="1166.5" x2="1921.0" y2="1166.5" stroke="#2c2c84" stroke-width="1.0" />
<text x="1822.5" y="1175.5" font-size="6.2" fill="#111" text-anchor="start" font-weight="bold" textLength="43" lengthAdjust="spacingAndGlyphs" font-family="'Liberation Sans', sans-serif" >SIGNITURES</text>
<line x1="1816.6" y1="1197.5" x2="1921.0" y2="1197.5" stroke="#2c2c84" stroke-width="1.0" />
<rect x="1867.4" y="1198.0" width="4.6" height="30.6" fill="#0000d0" />
<text x="1822.6" y="1209.0" font-size="6.2" fill="#111" text-anchor="start" font-weight="bold" textLength="32" lengthAdjust="spacingAndGlyphs" font-family="'Liberation Sans', sans-serif" >DRAWING</text>
<text x="1825.0" y="1221.0" font-size="6.2" fill="#111" text-anchor="start" font-weight="bold" textLength="29" lengthAdjust="spacingAndGlyphs" font-family="'Liberation Sans', sans-serif" >NUMBER</text>
<text x="1885.0" y="1221.0" font-size="21" fill="#0000c0" text-anchor="start" font-weight="bold" textLength="23" lengthAdjust="spacingAndGlyphs" font-family="'Liberation Sans', sans-serif" >01</text></svg></body></html>
